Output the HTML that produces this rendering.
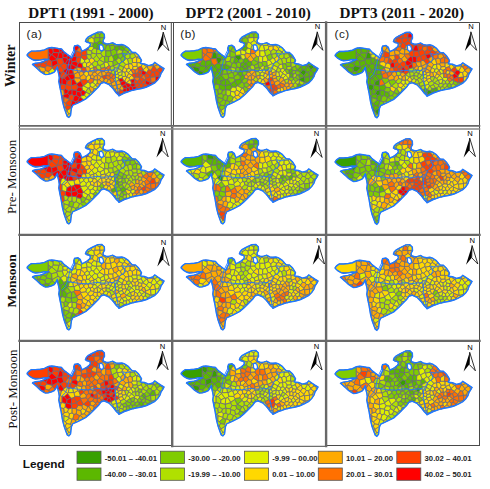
<!DOCTYPE html>
<html><head><meta charset="utf-8"><style>
html,body{margin:0;padding:0;background:#fff;width:490px;height:489px;overflow:hidden;position:relative}
</style></head><body>
<svg width="490" height="489" viewBox="0 0 490 489" style="position:absolute;left:0;top:0">
<defs>
<path id="ol" d="M8.2,32.8 9.6,31 12.3,29.1 16.4,29.1 21.3,28.7 25.4,27.9 27.9,26.7 29.5,25.9 32.8,25.5 36.1,25.9 39.3,26.5 42.5,27 45,29.9 48.2,32.3 51.5,34.8 53.1,35.6 54,33.1 55.6,29.9 54.8,26.6 55.6,23.8 58.9,23.3 61.3,25 62.1,27.4 62.9,29.1 65.4,28.2 68,26.6 70.5,24.5 71.5,22.5 70.5,20.8 68,20.3 66.5,19.2 67.2,17.2 69,15.2 73.9,12.5 78.8,10.1 82.8,10 85.3,12.3 85.5,15.8 84,18.5 84.5,20.8 87.6,22 90.7,21.6 93.7,20.8 96.8,22.5 99.9,22.8 102.9,22.5 105.6,23.4 109.2,25.8 111.5,28.5 113.2,30.2 116.3,30.5 119.4,33.3 121.4,36.4 122.5,38.4 121.4,41.5 125.5,42 129.6,43.6 133.7,42.5 135.8,40.5 138.8,42.5 141.9,44.6 145,46.6 143.9,48.7 141.9,51.7 140.9,54.8 138.8,57.9 135.8,60.9 131.7,63 127.6,65 122.6,66.5 117,67.5 112.4,68.6 106.3,70.7 100.2,73.7 97.1,70.7 94,66.6 90,62.5 84.9,60.4 81.8,61.5 79.8,64.5 73.7,70.7 70.9,73.4 66.8,77 61.7,79.6 57.6,81.6 53.8,83.2 52.5,85.9 51.9,89.8 51.5,93.5 49.9,95.4 48.3,94.4 46.7,90.3 45,85.4 43.4,78.8 42.2,71.4 40.7,64 39.8,59.5 40.3,55.9 39.8,52.3 38.8,48.2 38.3,45.2 37.8,45.7 36.7,48.2 35.2,50.1 32.1,51.5 29.1,52.4 26.5,52.6 24.8,51.8 21.2,49.5 17.9,46.3 15.3,43.9 13.6,42.6 13.8,42.2 16.4,41.3 21.3,40.6 24.6,39.4 26.5,38.5 28.5,37.4 25,37.3 21.3,38.1 16.4,38.4 14,37.8 10.7,35.9 8.3,33.6Z"/>
<g id="net" transform="scale(.25)"><path d="M33 134l10 10 13 7 35 0 9-2 14 1-3 1 6 0 0-47-5 3-10 5-17 3-19 1-17 0-11 8-5 7zM316 171l8 3 16-9 1-3-19-11-9 8zM355 161l-12 0-2 1-1 3 4 17 3 2 13-10zM190 332l16 3 6-20-11-4-15 13zM380 152l-5 6 2 17 1 1 19-10-10-13zM323 49l0 13 0 1 19-1-1-13-8-8zM419 181l-16-8-6 12 1 1 15 10zM207 230l-15 7-2 13 19 5 2-24zM290 144l-3-13-15-1-2 2 3 14 8 4zM169 249l3-1 0-23-7-5-4 1 0 3-2 14 2 9zM434 148l10-5 0-15-8-8-13 18 5 8zM250 295l-5 5 14 12 8-4 1-1 2-6-9-8zM119 198l-13-3-6 5 2 8 4 2 10 0 6-2zM463 230l-2-3-15 5 4 13 10-1zM423 236l-4-1-13 6 0 7 4 6 3 1 13-6 3-6zM347 185l-5 13 6 7 9-5 1-9zM285 258l-5 6 8 16 8 0 4-13-4-5zM231 277l16 3 7-8-2-11-16-1-7 13zM166 173l0 1 13 18 11-6 2-15-7-5-6-1zM129 131l2-1 6-8-1-13-16-6-1 1-2 3 0 14zM165 220l4-17-14-9 4 15 2 12zM347 136l12 3 11-5-4-19-19 0zM248 232l-5-8-20-1-4 5 12 19 16-11zM313 245l-7 5 0 2 9 10 2-2 4-5 4-5zM256 181l-4-15-9-3-7 3-5 14 20 5zM94 161l-1-2-8 3-16 3 7 14 3 1 3-2zM357 91l5 3 17-1 1-7-5-3-12 3-5 1zM154 147l-2 1-1 3 5 16 10 6 13-8-6-19zM279 212l6 2 8-3 4-10-13-5-7 4zM227 137l1-20-3-2-3 1 0 4-6 12-2 7zM334 82l-10-8-14 10 6 9 12 0 7-8zM165 269l4 17 1 9 6 0 5-6-2-17zM572 184l-8-2-13 9 0 3 12 9 9-2 2-4zM158 106l-1 0-13-2-2-1-6 6 1 13 23 1 4-3zM510 204l0-2-15-9-3 2-2 11 5 6 7 0zM450 212l6-6-8-14-10 10 1 4zM160 123l-6 24 19-1 3-4-1-14-8-8-3 0zM220 209l15-8-5-19-15 10 3 16zM301 218l-2 10 1 3 13 1 2-1-3-19zM333 41l-2-1-16 0-5 3 13 6zM431 220l-8 16 6 7 15-12-4-7zM194 212l13 18 4 1 8-3 4-5-3-14-2-1-21 1-3 2zM451 213l11 12 5-5 0-14-2-1-9 1-6 6zM542 201l9-7 0-3-10-14-2-1-1 0-10 17 5 7zM362 216l4 7 4 0 9-12-12-7-1 1zM285 214l-6-2-10 7-1 10 7 7 12-11zM100 200l6-5-2-12-22-5-3 2 8 19zM259 203l-9-6-11 5 6 16 14-9zM119 198l14-14 0-4-1-1-21-5-7 9 2 12zM152 148l-21-18-2 1-11 14 1 4 11 8 21-6zM330 199l12-1 5-13 0-1-3-2-16 3-2 7 2 6zM311 109l-1 18 17-1 8-14-3-3zM209 151l3-9-6-3-11-8-4 12 4 7zM444 128l0 15 9 4 14-8-6-13zM299 104l12 4 5-15-6-9-9-3-4 4-3 12zM133 184l-14 14 3 10 6-2 13-6 4-5zM495 193l1-2-7-14-14 5 0 4 4 7 13 2zM212 315l-6 20 4 7 1 0 4-9 12-5-1-9-11-5zM413 255l6 11 10-1 4-3-7-13zM262 153l-14-12-5 22 9 3 11-6zM167 120l8 8 14-2-9-6-5-7zM179 192l-2 6 17 13 3-2 3-16-10-7zM185 166l7 5 15 0 3-2 2-10-3-8-14-1zM366 223l-4-7-14-3 0 12 9 5 5-1zM453 260l-6-4-8 6 5 12 7 0 5-1zM531 242l-3-1-2 1-10 11 0 3 0 1 11-5 7-4zM415 274l-11-3-4 10 3 7 1 1 13-5 2-4zM385 269l-8-3-1 1 10 13 0-1zM422 106l0 5 14 9 8-9-7-8-8-5zM307 179l9-8-3-12-10-3-12 11 9 13zM450 245l-3 5 0 6 6 4 11-3 0-9-4-4zM406 146l11-10-6-10-17 3 4 15zM306 201l8 9 14-12-2-6-12-1zM301 81l-1-15-10-4-12 6-2 8 3 5 18 4zM490 206l-10 2 0 13 2 3 8-2 5-10zM94 161l14 6 11-18-1-4-1 0 0 6-6 0 3-1-8 4-8 4-5 1zM199 367l-7-11-6 2 1 3 5 14zM557 217l-11 1 0 1 0 19 2 1 7-7 7-11zM448 192l0-1-8-6-9 3-1 10 8 4zM303 156l-5-10-8-2-9 6 1 10 8 7 1 0zM176 295l4 6 19 6 3-14-8-7-13 3zM454 188l2-10-6-11-11 0-1 1 2 17 8 6zM259 209l-14 9-2 6 5 8 20-3 1-10zM228 157l8 9 7-3 5-22-1-1-15 1zM380 152l7 1 11-9-4-15-2-2-18 9zM330 238l-9-7-6 0-2 1 0 13 12 5 2-3zM249 123l5-7-2 0-4-6-2-7-6-1-10 14zM524 215l9-15-5-7-10-2-8 11 0 2zM300 267l-4 13 1 0 13-13zM249 123l2 11 19-2 2-2-2-16-7-2-1 1-8 3zM207 189l8 3 15-10 1-2-21-11-3 2zM401 109l14 6 7-4 0-5-10-12-12 2zM133 180l0 4 12 11 2-2 4-10 2-2 2 11 11-18 0-1-10-6zM76 179l-7-14-3 0-11 4-1 1 7 6 9 7zM359 139l-1 19 17 0 5-6-6-16-4-2zM430 198l1-10-12-7-6 15 0 2 10 3zM342 139l1 22 12 0 3-3 1-19-12-3zM470 263l0 3 2 3 17-3 0-3-9-7zM539 176l2 1 15-7-1 0-12-8-5 5zM179 321l1-20-4-6-6 0 4 20 1 7zM355 247l0 1 5 2 6 7 5-5-2-6zM383 98l-2 11 10 8 10-8-1-13-1-1zM474 236l8-7 0-5-2-3-13-1-5 5-1 2 2 3zM225 115l3 2 2-1 10-14-5-9-9 2-5 5-1 2zM297 85l-18-4 0 2 3 0 4 7-4 8-1 1 13-2zM243 224l2-6-6-16-4-1-15 8 3 14zM290 62l10 4 3-3 3-18-10 5-9 4zM248 232l-1 4 10 19 1 0 18-15-1-4-7-7zM252 261l2 11 13 7 9-14-18-10-1 0zM279 179l-9 0-4 3 3 15 8 3 7-4 1-9zM290 116l2 8 18 4 0-1 1-18 0-1-12-4zM313 159l9-8 0-3-12-15-12 13 5 10zM506 233l20 9 2-1-2-20-2-2-17 7-3 4zM479 135l-1-2-13-11-2 0-2 4 6 13 4 2 1 0zM226 319l10-4 6-14-13-8-9 3-5 18zM364 188l8 7 7-2 3-10-4-7-1-1-11 3zM347 115l19 0 1 0-5-21-5-3-7 3-7 18zM383 197l-4-4-7 2-5 9 12 7 2-1zM393 197l5-11-1-1-15-2-3 10 4 4zM179 272l6-6 1-14-14-4-3 1-5 14 1 6zM268 281l-7 12 9 8 10-5 1-1 0-8zM563 203l-6 14 5 4 2-2 4-12 4-6zM497 249l0 10 5 3 14-6 0-3-11-7zM212 290l8 6 9-3 2-16-2-4-17-2zM413 198l-2 15 4 5 12-1-4-16zM214 139l-2 3-3 9 3 8 16-2 4-16-5-4zM397 291l4 4 4-2-1-4-1-1zM242 321l5-3 12-6-14-12-3 1-6 14zM370 134l4 2 18-9-1-10-10-8-14 6-1 0zM472 163l-2-1-16 0-4 5 6 11 16-1zM275 236l1 4 8 6 11-4 5-11-1-3-12-3zM212 271l17 2 7-13-6-11-21 6 2 15zM485 162l1 2 4-10-1-3zM327 126l7 11 8 2 5-3 0-21-4-3-8 0zM297 201l-4 10 8 7 11-6 2-2-8-9-6-1zM377 266l8 3 7-5-1-12-1-1-15 5zM546 238l-15 4 3 6 9-4 5-5zM413 196l-15-10-5 11 4 6 16-5zM475 245l6 3 8-5 1-4-8-10-8 7zM281 99l-2 2-3 10 14 5 9-12-5-7zM475 204l4-11-4-7-11 6 1 13 2 1zM475 182l-3-5-16 1-2 10 10 4 11-6zM118 145l11-14-12-10 0 24zM192 356l7 11 8 0 1-8 2-15 1-2-1 0-18 12zM164 120l3 0 8-7-5-5-12-2zM472 141l-1 0-1 21 2 1 13-1 4-11-1-2zM334 82l1 3 15 9 7-3 1-4-8 1-12-5-1-4zM495 212l-5 10 12 9 2-1 3-4-5-14zM471 141l-4-2-14 8 1 15 16 0zM198 274l13-4-2-15-19-5-4 2-1 14zM333 217l15-5 0-7-6-7-12 1zM366 178l11-3-2-17-17 0-3 3 5 13zM299 182l1 18 6 1 8-10-7-12-7 1zM400 214l-3 10 2 4 14-4 2-6-4-5zM303 63l-3 3 1 15 9 3 14-10-1-11 0-1zM518 191l10 2 10-17-17-2-3 0-1 0-4 5zM136 109l6-6-11-1-11 1zM369 246l2 6 4 4 15-5-4-12-4-2-12 7zM490 239l-1 4 8 6 8-3 1-13-2-3-2 1zM439 167l-5-19-6-2-11 13 10 11 11-2zM282 160l-12 5 0 14 9 0 11-12zM284 246l-8-6-18 15 18 10 4-1 5-6zM397 166l4 2 9-9-4-13-8-2-11 9zM423 138l13-18-14-9-7 4-4 11 6 10zM415 274l4 6 11-2-1-13-10 1zM197 209l21-1-3-16-8-3-7 4zM246 103l-1-3-9-7-1 0 5 9zM181 289l13-3 4-12-13-8-6 6zM79 151l-23 0 10 3 11-1zM169 203l-4 17 7 5 9-1 13-12 0-1-17-13zM431 219l0 1 9 4 11-11-1-1-11-6zM328 185l16-3-4-17-16 9zM199 307l2 4 11 4 3-1 5-18-8-6-10 3zM378 176l4 7 15 2 6-12-2-5-4-2zM335 112l8 0 7-18-15-9-7 8 4 16zM179 165l6 1 10-16-4-7-15-1-3 4zM276 76l2-8-5-4-4 5-3 8 1 1zM413 255l-3-1-8 14 2 3 11 3 4-8zM338 237l2-7-8-12-3 1-8 12 9 7zM410 159l7 0 11-13-5-8-6-2-11 10zM399 232l0-4-2-4-10-3-8 8 3 8 4 2zM199 367l-7 8 1 3 7 4 6-8 1-7zM281 287l0 8 3-1 11-11 2-3-1 0-8 0zM315 231l6 0 8-12-15-9-2 2zM464 257l6 6 10-7 1-8-6-3-11 3zM489 177l7 14 14-12-12-10-6 1zM210 169l21 11 5-14-8-9-16 2zM564 182l-4-8-4-4-15 7 10 14zM399 95l1 1 12-2 2-3-2-1-12 1-2 0zM225 115l-5-13-1 4 3 10zM507 226l17-7 0-4-14-11-8 8zM526 221l20-2 0-1-4-17-9-1-9 15 0 4zM399 232l7 9 13-6-6-11-14 4zM322 148l12-11-7-11-17 1 0 1 0 5zM179 321l-4 1 5 20 5 0 5-10-4-8zM390 251l1 1 15-4 0-7-7-9-13 7zM384 212l3 9 10 3 3-10-4-6zM427 170l-10-11-7 0-9 9 2 5 16 8zM528 241l3 1 15-4 0-19-20 2zM430 278l-11 2-2 4 1 2 7-3 8-3zM236 260l16 1 5-6-10-19-16 11-1 2zM270 114l6-3 3-10-7 5-9 6zM227 137l5 4 15-1 4-6-2-11-19-7-2 1zM510 202l8-11-5-12-3 0-14 12-1 2zM338 237l7 5 6 0 6-12-9-5-8 5zM436 120l8 8 17-2 2-4-10-1-7-7-2-3zM273 146l-3-14-19 2-4 6 1 1 14 12zM404 271l-2-3-10-4-7 5 1 10 14 2zM76 179l-6 4 2 2 13 13 2 1-8-19zM382 237l-3-8-9-6-4 0-4 6 8 15zM284 246l1 12 11 4 10-10 0-2-11-8zM572 184l2 13 2-2 4-9-6-3zM345 242l-7-5-8 1-3 9 0-1 13-4 4 1zM314 191l12 1 2-7-4-11-8-3-9 8zM367 115l14-6 2-11-4-5-17 1zM538 176l1 0-1-9-3 3-14 4zM227 328l3-2 12-5-6-6-10 4zM291 167l-1 0-11 12 6 8 14-5 1-2zM472 141l16 8-2-3-7-11zM444 274l-4 4 10-4 1 0zM194 212l-13 12 11 13 15-7zM341 162l2-1-1-22-8-2-12 11 0 3zM470 266l-13 7 11-3 4-1zM429 265l1 13 3 2 7-2 4-4-5-12-6 0zM426 249l7 13 6 0 8-6 0-6-18-7zM489 263l8-4 0-10-8-6-8 5-1 8zM130 157l2 22 1 1 23-13-5-16zM479 193l-4 11 5 4 10-2 2-11zM542 201l4 17 11-1 6-14-12-9zM314 210l15 9 3-1 1-1-3-18-2-1zM185 342l7 12 18-12-4-7-16-3zM190 186l10 7 7-4 0-18-15 0zM362 216l4-11-9-5-9 5 0 7 0 1zM440 224l4 7 2 1 15-5 1-2-11-12zM245 300l5-5-3-15-16-3-2 16 13 8zM417 284l-13 5 1 4 13-7zM391 252l1 12 10 4 8-14-4-6zM456 206l9-1-1-13-10-4-6 3 0 1zM172 248l14 4 4-2 2-13-11-13-9 1zM502 262l-5-3-8 4 0 3 1 0 12-3zM392 127l2 2 17-3 4-11-14-6-10 8zM256 181l-5 4-1 12 9 6 10-6-3-15zM276 111l-6 3 2 16 15 1 5-7-2-8zM467 220l13 1 0-13-5-4-8 2zM230 249l1-2-12-19-8 3-2 24zM454 162l-1-15-9-4-10 5 5 19 11 0zM464 248l11-3-1-9-11-6-3 14zM269 197l-10 6 0 6 10 10 10-7-2-12zM355 247l-4-5-6 0-1 1 11 5zM489 166l-3 0 0-2-1-2-13 1 0 14 3 5 14-5 3-7zM438 202l-8-4-7 3 4 16 4 2 8-13zM323 63l1 11 10 8 3-3-1-5 6-11 0-1zM290 62l-3-8-11 7-3 3 5 4zM366 257l10 9 0 1 1-1-2-10-4-4zM310 133l0-5-18-4-5 7 3 13 8 2zM273 146l-11 7 1 7 7 5 12-5-1-10zM446 232l-2-1-15 12 18 7 3-5zM412 94l10 12 7-8-7-4-8-3zM285 214l2 11 12 3 2-10-8-7zM498 169l12 10 3 0 4-5-15-6-3 0zM303 63l20-1 0-13-13-6-4 2zM440 185l-2-17-11 2-8 11 12 7zM166 174l-11 18 0 1 0 1 14 9 8-5 2-6zM379 93l4 5 16-3-1-4-11-1-7-4zM270 301l-2 6 12-11zM340 230l8-5 0-12 0-1-15 5-1 1zM100 200l-13-1 12 8 3 1zM300 231l-5 11 11 8 7-5 0-13zM403 288l-3-7-14-2 0 1 2 3 9 8zM130 157l-11-8-11 18 3 7 21 5zM231 180l-1 2 5 19 4 1 11-5 1-12zM347 184l0 1 11 6 6-3 2-10-6-4zM572 184l2-1-6-5-8-4 4 8zM362 229l-5 1-6 12 4 5 14-1 1-2zM194 286l8 7 10-3 0-19-1-1-13 4zM279 81l-3-5-9 2 5 3 7 2zM358 191l-1 9 9 5 1-1 5-9-8-7zM179 321l7 3 15-13-2-4-19-6zM413 224l6 11 4 1 8-16 0-1-4-2-12 1zM285 187l-1 9 13 5 3-1-1-18zM270 165l-7-5-11 6 4 15 10 1 4-3zM516 256l-14 6 0 1 8-3 6-3zM379 211l-9 12 9 6 8-8-3-9-3-2zM505 246l11 7 10-11-20-9zM192 356l0-2-7-12-5 0 6 16zM413 198l-16 5-1 5 4 6 11-1zM482 224l0 5 8 10 12-8-12-9zM226 95l-4 0-1 5zM137 122l-6 8 21 18 2-1 6-24zM280 264l-4 1-9 14 1 2 13 6 7-7zM104 183l7-9-3-7-14-6-12 17zM267 279l-13-7-7 8 3 15 11-2 7-12zM470 266l0-3-6-6-11 3 3 13 1 0zM306 252l-10 10 4 5 10 0 5-5zM191 143l4-12-2-2-4-3-14 2 1 14zM397 203l-4-6-10 0-2 13 3 2 12-4zM328 93l-12 0-5 15 0 1 21 0zM169 249l-8-2 2 9 1 7z" fill="none" stroke="#6c6c7c" stroke-width="2.5" stroke-linejoin="round"/></g>
<path id="hole" d="M80.3,23.3 82,22.6 83.8,23.8 84.6,26.5 84,28.5 82.2,29 80.6,27.5Z" fill="#fff" stroke="#1f78ff" stroke-width="1.3"/>
<path id="blines" d="M55.5,26.5 52.4,32.7 50.5,37.5 48.7,46.8 46.5,52 43,55.5M48.7,47 58.5,48.7 68.3,49.3 76.8,48 85.4,48.7 94,48 96.5,47M103.6,31.2 105.1,34.1 105.7,36.6 104.5,39 101.4,40.9 99.6,43.3 98.4,46.4 96.5,49.4 96.3,57 98.2,65 99.8,74.5M103.6,31.2 108.2,32.3 111.2,31.3 113,29.8" fill="none" stroke="#1f78ff" stroke-width="0.9" stroke-linejoin="round"/>
</defs>
<g transform="translate(19,22)"><use href="#ol" fill="#888"/><g transform="scale(.25)"><path fill="#5cb800" d="M334 82l-10-8-14 10 6 9 12 0 7-8zM299 104l12 4 5-15-6-9-9-3-4 4-3 12zM380 152l7 1 11-9-4-15-2-2-18 9zM401 109l14 6 7-4 0-5-10-12-12 2zM383 98l-2 11 10 8 10-8-1-13-1-1zM399 95l1 1 12-2 2-3-2-1-12 1-2 0zM328 93l-12 0-5 15 0 1 21 0z"/><path fill="#80cc00" d="M380 152l-5 6 2 17 1 1 19-10-10-13zM323 49l0 13 0 1 19-1-1-13-8-8zM347 136l12 3 11-5-4-19-19 0zM357 91l5 3 17-1 1-7-5-3-12 3-5 1zM422 106l0 5 14 9 8-9-7-8-8-5zM406 146l11-10-6-10-17 3 4 15zM342 139l1 22 12 0 3-3 1-19-12-3zM347 115l19 0 1 0-5-21-5-3-7 3-7 18zM370 134l4 2 18-9-1-10-10-8-14 6-1 0zM334 82l1 3 15 9 7-3 1-4-8 1-12-5-1-4zM303 63l-3 3 1 15 9 3 14-10-1-11 0-1zM423 138l13-18-14-9-7 4-4 11 6 10zM335 112l8 0 7-18-15-9-7 8 4 16zM410 159l7 0 11-13-5-8-6-2-11 10zM367 115l14-6 2-11-4-5-17 1zM323 63l1 11 10 8 3-3-1-5 6-11 0-1zM412 94l10 12 7-8-7-4-8-3zM303 63l20-1 0-13-13-6-4 2zM379 93l4 5 16-3-1-4-11-1-7-4z"/><path fill="#b0e000" d="M316 171l8 3 16-9 1-3-19-11-9 8zM419 181l-16-8-6 12 1 1 15 10zM290 144l-3-13-15-1-2 2 3 14 8 4zM434 148l10-5 0-15-8-8-13 18 5 8zM333 41l-2-1-16 0-5 3 13 6zM311 109l-1 18 17-1 8-14-3-3zM444 128l0 15 9 4 14-8-6-13zM307 179l9-8-3-12-10-3-12 11 9 13zM359 139l-1 19 17 0 5-6-6-16-4-2zM297 85l-18-4 0 2 3 0 4 7-4 8-1 1 13-2zM290 62l10 4 3-3 3-18-10 5-9 4zM290 116l2 8 18 4 0-1 1-18 0-1-12-4zM313 159l9-8 0-3-12-15-12 13 5 10zM364 188l8 7 7-2 3-10-4-7-1-1-11 3zM383 197l-4-4-7 2-5 9 12 7 2-1zM327 126l7 11 8 2 5-3 0-21-4-3-8 0zM366 178l11-3-2-17-17 0-3 3 5 13zM397 166l4 2 9-9-4-13-8-2-11 9zM328 185l16-3-4-17-16 9zM378 176l4 7 15 2 6-12-2-5-4-2zM276 76l2-8-5-4-4 5-3 8 1 1zM322 148l12-11-7-11-17 1 0 1 0 5zM427 170l-10-11-7 0-9 9 2 5 16 8zM436 120l8 8 17-2 2-4-10-1-7-7-2-3zM314 191l12 1 2-7-4-11-8-3-9 8zM341 162l2-1-1-22-8-2-12 11 0 3zM392 127l2 2 17-3 4-11-14-6-10 8zM276 111l-6 3 2 16 15 1 5-7-2-8zM454 162l-1-15-9-4-10 5 5 19 11 0zM290 62l-3-8-11 7-3 3 5 4zM310 133l0-5-18-4-5 7 3 13 8 2zM280 264l-4 1-9 14 1 2 13 6 7-7z"/><path fill="#e0f000" d="M355 161l-12 0-2 1-1 3 4 17 3 2 13-10zM250 295l-5 5 14 12 8-4 1-1 2-6-9-8zM133 184l-14 14 3 10 6-2 13-6 4-5zM262 153l-14-12-5 22 9 3 11-6zM301 81l-1-15-10-4-12 6-2 8 3 5 18 4zM448 192l0-1-8-6-9 3-1 10 8 4zM300 267l-4 13 1 0 13-13zM252 261l2 11 13 7 9-14-18-10-1 0zM393 197l5-11-1-1-15-2-3 10 4 4zM268 281l-7 12 9 8 10-5 1-1 0-8zM413 198l-2 15 4 5 12-1-4-16zM413 196l-15-10-5 11 4 6 16-5zM281 99l-2 2-3 10 14 5 9-12-5-7zM400 214l-3 10 2 4 14-4 2-6-4-5zM439 167l-5-19-6-2-11 13 10 11 11-2zM284 246l-8-6-18 15 18 10 4-1 5-6zM399 232l0-4-2-4-10-3-8 8 3 8 4 2zM281 287l0 8 3-1 11-11 2-3-1 0-8 0zM384 212l3 9 10 3 3-10-4-6zM284 246l1 12 11 4 10-10 0-2-11-8zM291 167l-1 0-11 12 6 8 14-5 1-2zM273 146l-11 7 1 7 7 5 12-5-1-10zM270 301l-2 6 12-11zM300 231l-5 11 11 8 7-5 0-13zM279 81l-3-5-9 2 5 3 7 2zM285 187l-1 9 13 5 3-1-1-18zM270 165l-7-5-11 6 4 15 10 1 4-3zM413 198l-16 5-1 5 4 6 11-1zM306 252l-10 10 4 5 10 0 5-5zM397 203l-4-6-10 0-2 13 3 2 12-4z"/><path fill="#ffd800" d="M119 198l-13-3-6 5 2 8 4 2 10 0 6-2zM450 212l6-6-8-14-10 10 1 4zM431 220l-8 16 6 7 15-12-4-7zM285 214l-6-2-10 7-1 10 7 7 12-11zM199 367l-7-11-6 2 1 3 5 14zM303 156l-5-10-8-2-9 6 1 10 8 7 1 0zM454 188l2-10-6-11-11 0-1 1 2 17 8 6zM430 198l1-10-12-7-6 15 0 2 10 3zM479 135l-1-2-13-11-2 0-2 4 6 13 4 2 1 0zM472 163l-2-1-16 0-4 5 6 11 16-1zM475 182l-3-5-16 1-2 10 10 4 11-6zM192 356l7 11 8 0 1-8 2-15 1-2-1 0-18 12zM472 141l-1 0-1 21 2 1 13-1 4-11-1-2zM471 141l-4-2-14 8 1 15 16 0zM282 160l-12 5 0 14 9 0 11-12zM431 219l0 1 9 4 11-11-1-1-11-6zM199 367l-7 8 1 3 7 4 6-8 1-7zM489 177l7 14 14-12-12-10-6 1zM510 202l8-11-5-12-3 0-14 12-1 2zM472 141l16 8-2-3-7-11zM440 224l4 7 2 1 15-5 1-2-11-12zM269 197l-10 6 0 6 10 10 10-7-2-12zM489 166l-3 0 0-2-1-2-13 1 0 14 3 5 14-5 3-7zM438 202l-8-4-7 3 4 16 4 2 8-13zM446 232l-2-1-15 12 18 7 3-5zM440 185l-2-17-11 2-8 11 12 7zM413 224l6 11 4 1 8-16 0-1-4-2-12 1zM192 356l0-2-7-12-5 0 6 16z"/><path fill="#ffaa00" d="M347 185l-5 13 6 7 9-5 1-9zM285 258l-5 6 8 16 8 0 4-13-4-5zM248 232l-5-8-20-1-4 5 12 19 16-11zM313 245l-7 5 0 2 9 10 2-2 4-5 4-5zM279 212l6 2 8-3 4-10-13-5-7 4zM165 269l4 17 1 9 6 0 5-6-2-17zM220 209l15-8-5-19-15 10 3 16zM301 218l-2 10 1 3 13 1 2-1-3-19zM100 200l6-5-2-12-22-5-3 2 8 19zM259 203l-9-6-11 5 6 16 14-9zM385 269l-8-3-1 1 10 13 0-1zM306 201l8 9 14-12-2-6-12-1zM259 209l-14 9-2 6 5 8 20-3 1-10zM330 238l-9-7-6 0-2 1 0 13 12 5 2-3zM539 176l2 1 15-7-1 0-12-8-5 5zM355 247l0 1 5 2 6 7 5-5-2-6zM243 224l2-6-6-16-4-1-15 8 3 14zM279 179l-9 0-4 3 3 15 8 3 7-4 1-9zM485 162l1 2 4-10-1-3zM297 201l-4 10 8 7 11-6 2-2-8-9-6-1zM377 266l8 3 7-5-1-12-1-1-15 5zM333 217l15-5 0-7-6-7-12 1zM518 191l10 2 10-17-17-2-3 0-1 0-4 5zM369 246l2 6 4 4 15-5-4-12-4-2-12 7zM413 255l-3-1-8 14 2 3 11 3 4-8zM338 237l2-7-8-12-3 1-8 12 9 7zM315 231l6 0 8-12-15-9-2 2zM564 182l-4-8-4-4-15 7 10 14zM390 251l1 1 15-4 0-7-7-9-13 7zM338 237l7 5 6 0 6-12-9-5-8 5zM404 271l-2-3-10-4-7 5 1 10 14 2zM76 179l-6 4 2 2 13 13 2 1-8-19zM572 184l2 13 2-2 4-9-6-3zM345 242l-7-5-8 1-3 9 0-1 13-4 4 1zM538 176l1 0-1-9-3 3-14 4zM314 210l15 9 3-1 1-1-3-18-2-1zM391 252l1 12 10 4 8-14-4-6zM366 257l10 9 0 1 1-1-2-10-4-4zM285 214l2 11 12 3 2-10-8-7zM498 169l12 10 3 0 4-5-15-6-3 0zM100 200l-13-1 12 8 3 1zM231 180l-1 2 5 19 4 1 11-5 1-12zM572 184l2-1-6-5-8-4 4 8zM362 229l-5 1-6 12 4 5 14-1 1-2zM358 191l-1 9 9 5 1-1 5-9-8-7z"/><path fill="#ff7000" d="M33 134l10 10 13 7 35 0 9-2 14 1-3 1 6 0 0-47-5 3-10 5-17 3-19 1-17 0-11 8-5 7zM362 216l4 7 4 0 9-12-12-7-1 1zM119 198l14-14 0-4-1-1-21-5-7 9 2 12zM330 199l12-1 5-13 0-1-3-2-16 3-2 7 2 6zM366 223l-4-7-14-3 0 12 9 5 5-1zM249 123l5-7-2 0-4-6-2-7-6-1-10 14zM474 236l8-7 0-5-2-3-13-1-5 5-1 2 2 3zM275 236l1 4 8 6 11-4 5-11-1-3-12-3zM475 204l4-11-4-7-11 6 1 13 2 1zM495 212l-5 10 12 9 2-1 3-4-5-14zM299 182l1 18 6 1 8-10-7-12-7 1zM136 109l6-6-11-1-11 1zM79 151l-23 0 10 3 11-1zM179 321l-4 1 5 20 5 0 5-10-4-8zM528 241l3 1 15-4 0-19-20 2zM382 237l-3-8-9-6-4 0-4 6 8 15zM362 216l4-11-9-5-9 5 0 7 0 1zM456 206l9-1-1-13-10-4-6 3 0 1zM355 247l-4-5-6 0-1 1 11 5zM347 184l0 1 11 6 6-3 2-10-6-4zM179 321l7 3 15-13-2-4-19-6zM379 211l-9 12 9 6 8-8-3-9-3-2z"/><path fill="#ff4000" d="M190 332l16 3 6-20-11-4-15 13zM207 230l-15 7-2 13 19 5 2-24zM166 173l0 1 13 18 11-6 2-15-7-5-6-1zM94 161l-1-2-8 3-16 3 7 14 3 1 3-2zM154 147l-2 1-1 3 5 16 10 6 13-8-6-19zM572 184l-8-2-13 9 0 3 12 9 9-2 2-4zM451 213l11 12 5-5 0-14-2-1-9 1-6 6zM542 201l9-7 0-3-10-14-2-1-1 0-10 17 5 7zM495 193l1-2-7-14-14 5 0 4 4 7 13 2zM415 274l-11-3-4 10 3 7 1 1 13-5 2-4zM490 206l-10 2 0 13 2 3 8-2 5-10zM94 161l14 6 11-18-1-4-1 0 0 6-6 0 3-1-8 4-8 4-5 1zM228 157l8 9 7-3 5-22-1-1-15 1zM524 215l9-15-5-7-10-2-8 11 0 2zM249 123l2 11 19-2 2-2-2-16-7-2-1 1-8 3zM133 180l0 4 12 11 2-2 4-10 2-2 2 11 11-18 0-1-10-6zM76 179l-7-14-3 0-11 4-1 1 7 6 9 7zM470 263l0 3 2 3 17-3 0-3-9-7zM179 321l1-20-4-6-6 0 4 20 1 7zM248 232l-1 4 10 19 1 0 18-15-1-4-7-7zM506 233l20 9 2-1-2-20-2-2-17 7-3 4zM179 272l6-6 1-14-14-4-3 1-5 14 1 6zM563 203l-6 14 5 4 2-2 4-12 4-6zM497 249l0 10 5 3 14-6 0-3-11-7zM397 291l4 4 4-2-1-4-1-1zM212 271l17 2 7-13-6-11-21 6 2 15zM475 245l6 3 8-5 1-4-8-10-8 7zM198 274l13-4-2-15-19-5-4 2-1 14zM490 239l-1 4 8 6 8-3 1-13-2-3-2 1zM169 203l-4 17 7 5 9-1 13-12 0-1-17-13zM199 307l2 4 11 4 3-1 5-18-8-6-10 3zM464 257l6 6 10-7 1-8-6-3-11 3zM507 226l17-7 0-4-14-11-8 8zM526 221l20-2 0-1-4-17-9-1-9 15 0 4zM430 278l-11 2-2 4 1 2 7-3 8-3zM227 137l5 4 15-1 4-6-2-11-19-7-2 1zM273 146l-3-14-19 2-4 6 1 1 14 12zM444 274l-4 4 10-4 1 0zM470 266l-13 7 11-3 4-1zM489 263l8-4 0-10-8-6-8 5-1 8zM479 193l-4 11 5 4 10-2 2-11zM542 201l4 17 11-1 6-14-12-9zM185 342l7 12 18-12-4-7-16-3zM417 284l-13 5 1 4 13-7zM502 262l-5-3-8 4 0 3 1 0 12-3zM256 181l-5 4-1 12 9 6 10-6-3-15zM467 220l13 1 0-13-5-4-8 2zM464 248l11-3-1-9-11-6-3 14zM166 174l-11 18 0 1 0 1 14 9 8-5 2-6zM340 230l8-5 0-12 0-1-15 5-1 1zM130 157l-11-8-11 18 3 7 21 5zM482 224l0 5 8 10 12-8-12-9zM104 183l7-9-3-7-14-6-12 17z"/><path fill="#ff0000" d="M169 249l3-1 0-23-7-5-4 1 0 3-2 14 2 9zM463 230l-2-3-15 5 4 13 10-1zM423 236l-4-1-13 6 0 7 4 6 3 1 13-6 3-6zM231 277l16 3 7-8-2-11-16-1-7 13zM129 131l2-1 6-8-1-13-16-6-1 1-2 3 0 14zM165 220l4-17-14-9 4 15 2 12zM256 181l-4-15-9-3-7 3-5 14 20 5zM227 137l1-20-3-2-3 1 0 4-6 12-2 7zM158 106l-1 0-13-2-2-1-6 6 1 13 23 1 4-3zM510 204l0-2-15-9-3 2-2 11 5 6 7 0zM160 123l-6 24 19-1 3-4-1-14-8-8-3 0zM194 212l13 18 4 1 8-3 4-5-3-14-2-1-21 1-3 2zM152 148l-21-18-2 1-11 14 1 4 11 8 21-6zM209 151l3-9-6-3-11-8-4 12 4 7zM212 315l-6 20 4 7 1 0 4-9 12-5-1-9-11-5zM413 255l6 11 10-1 4-3-7-13zM167 120l8 8 14-2-9-6-5-7zM179 192l-2 6 17 13 3-2 3-16-10-7zM185 166l7 5 15 0 3-2 2-10-3-8-14-1zM453 260l-6-4-8 6 5 12 7 0 5-1zM531 242l-3-1-2 1-10 11 0 3 0 1 11-5 7-4zM450 245l-3 5 0 6 6 4 11-3 0-9-4-4zM557 217l-11 1 0 1 0 19 2 1 7-7 7-11zM176 295l4 6 19 6 3-14-8-7-13 3zM207 189l8 3 15-10 1-2-21-11-3 2zM225 115l3 2 2-1 10-14-5-9-9 2-5 5-1 2zM226 319l10-4 6-14-13-8-9 3-5 18zM212 290l8 6 9-3 2-16-2-4-17-2zM214 139l-2 3-3 9 3 8 16-2 4-16-5-4zM242 321l5-3 12-6-14-12-3 1-6 14zM546 238l-15 4 3 6 9-4 5-5zM118 145l11-14-12-10 0 24zM164 120l3 0 8-7-5-5-12-2zM415 274l4 6 11-2-1-13-10 1zM197 209l21-1-3-16-8-3-7 4zM246 103l-1-3-9-7-1 0 5 9zM181 289l13-3 4-12-13-8-6 6zM179 165l6 1 10-16-4-7-15-1-3 4zM210 169l21 11 5-14-8-9-16 2zM225 115l-5-13-1 4 3 10zM399 232l7 9 13-6-6-11-14 4zM236 260l16 1 5-6-10-19-16 11-1 2zM270 114l6-3 3-10-7 5-9 6zM227 328l3-2 12-5-6-6-10 4zM194 212l-13 12 11 13 15-7zM429 265l1 13 3 2 7-2 4-4-5-12-6 0zM426 249l7 13 6 0 8-6 0-6-18-7zM130 157l2 22 1 1 23-13-5-16zM190 186l10 7 7-4 0-18-15 0zM245 300l5-5-3-15-16-3-2 16 13 8zM172 248l14 4 4-2 2-13-11-13-9 1zM230 249l1-2-12-19-8 3-2 24zM403 288l-3-7-14-2 0 1 2 3 9 8zM194 286l8 7 10-3 0-19-1-1-13 4zM516 256l-14 6 0 1 8-3 6-3zM505 246l11 7 10-11-20-9zM226 95l-4 0-1 5zM137 122l-6 8 21 18 2-1 6-24zM267 279l-13-7-7 8 3 15 11-2 7-12zM470 266l0-3-6-6-11 3 3 13 1 0zM191 143l4-12-2-2-4-3-14 2 1 14zM169 249l-8-2 2 9 1 7z"/></g><use href="#net"/><use href="#blines"/><use href="#ol" fill="none" stroke="#1f78ff" stroke-width="1.45"/><use href="#hole"/></g>
<g transform="translate(173,22)"><use href="#ol" fill="#888"/><g transform="scale(.25)"><path fill="#38a000" d="M119 198l-13-3-6 5 2 8 4 2 10 0 6-2zM160 123l-6 24 19-1 3-4-1-14-8-8-3 0zM100 200l6-5-2-12-22-5-3 2 8 19zM524 215l9-15-5-7-10-2-8 11 0 2zM506 233l20 9 2-1-2-20-2-2-17 7-3 4zM179 165l6 1 10-16-4-7-15-1-3 4zM564 182l-4-8-4-4-15 7 10 14zM273 146l-3-14-19 2-4 6 1 1 14 12zM100 200l-13-1 12 8 3 1z"/><path fill="#5cb800" d="M207 230l-15 7-2 13 19 5 2-24zM169 249l3-1 0-23-7-5-4 1 0 3-2 14 2 9zM166 173l0 1 13 18 11-6 2-15-7-5-6-1zM165 220l4-17-14-9 4 15 2 12zM94 161l-1-2-8 3-16 3 7 14 3 1 3-2zM572 184l-8-2-13 9 0 3 12 9 9-2 2-4zM542 201l9-7 0-3-10-14-2-1-1 0-10 17 5 7zM285 214l-6-2-10 7-1 10 7 7 12-11zM119 198l14-14 0-4-1-1-21-5-7 9 2 12zM209 151l3-9-6-3-11-8-4 12 4 7zM133 184l-14 14 3 10 6-2 13-6 4-5zM262 153l-14-12-5 22 9 3 11-6zM179 192l-2 6 17 13 3-2 3-16-10-7zM307 179l9-8-3-12-10-3-12 11 9 13zM557 217l-11 1 0 1 0 19 2 1 7-7 7-11zM303 156l-5-10-8-2-9 6 1 10 8 7 1 0zM207 189l8 3 15-10 1-2-21-11-3 2zM133 180l0 4 12 11 2-2 4-10 2-2 2 11 11-18 0-1-10-6zM76 179l-7-14-3 0-11 4-1 1 7 6 9 7zM539 176l2 1 15-7-1 0-12-8-5 5zM297 85l-18-4 0 2 3 0 4 7-4 8-1 1 13-2zM248 232l-1 4 10 19 1 0 18-15-1-4-7-7zM279 179l-9 0-4 3 3 15 8 3 7-4 1-9zM479 135l-1-2-13-11-2 0-2 4 6 13 4 2 1 0zM563 203l-6 14 5 4 2-2 4-12 4-6zM497 249l0 10 5 3 14-6 0-3-11-7zM212 271l17 2 7-13-6-11-21 6 2 15zM546 238l-15 4 3 6 9-4 5-5zM281 99l-2 2-3 10 14 5 9-12-5-7zM475 204l4-11-4-7-11 6 1 13 2 1zM198 274l13-4-2-15-19-5-4 2-1 14zM518 191l10 2 10-17-17-2-3 0-1 0-4 5zM282 160l-12 5 0 14 9 0 11-12zM246 103l-1-3-9-7-1 0 5 9zM169 203l-4 17 7 5 9-1 13-12 0-1-17-13zM507 226l17-7 0-4-14-11-8 8zM526 221l20-2 0-1-4-17-9-1-9 15 0 4zM528 241l3 1 15-4 0-19-20 2zM236 260l16 1 5-6-10-19-16 11-1 2zM510 202l8-11-5-12-3 0-14 12-1 2zM76 179l-6 4 2 2 13 13 2 1-8-19zM572 184l2 13 2-2 4-9-6-3zM538 176l1 0-1-9-3 3-14 4zM291 167l-1 0-11 12 6 8 14-5 1-2zM194 212l-13 12 11 13 15-7zM130 157l2 22 1 1 23-13-5-16zM542 201l4 17 11-1 6-14-12-9zM190 186l10 7 7-4 0-18-15 0zM172 248l14 4 4-2 2-13-11-13-9 1zM467 220l13 1 0-13-5-4-8 2zM230 249l1-2-12-19-8 3-2 24zM269 197l-10 6 0 6 10 10 10-7-2-12zM166 174l-11 18 0 1 0 1 14 9 8-5 2-6zM130 157l-11-8-11 18 3 7 21 5zM572 184l2-1-6-5-8-4 4 8zM279 81l-3-5-9 2 5 3 7 2zM285 187l-1 9 13 5 3-1-1-18zM516 256l-14 6 0 1 8-3 6-3zM104 183l7-9-3-7-14-6-12 17zM191 143l4-12-2-2-4-3-14 2 1 14zM169 249l-8-2 2 9 1 7z"/><path fill="#80cc00" d="M33 134l10 10 13 7 35 0 9-2 14 1-3 1 6 0 0-47-5 3-10 5-17 3-19 1-17 0-11 8-5 7zM316 171l8 3 16-9 1-3-19-11-9 8zM355 161l-12 0-2 1-1 3 4 17 3 2 13-10zM190 332l16 3 6-20-11-4-15 13zM323 49l0 13 0 1 19-1-1-13-8-8zM285 258l-5 6 8 16 8 0 4-13-4-5zM248 232l-5-8-20-1-4 5 12 19 16-11zM256 181l-4-15-9-3-7 3-5 14 20 5zM279 212l6 2 8-3 4-10-13-5-7 4zM165 269l4 17 1 9 6 0 5-6-2-17zM510 204l0-2-15-9-3 2-2 11 5 6 7 0zM220 209l15-8-5-19-15 10 3 16zM333 41l-2-1-16 0-5 3 13 6zM194 212l13 18 4 1 8-3 4-5-3-14-2-1-21 1-3 2zM259 203l-9-6-11 5 6 16 14-9zM330 199l12-1 5-13 0-1-3-2-16 3-2 7 2 6zM495 193l1-2-7-14-14 5 0 4 4 7 13 2zM212 315l-6 20 4 7 1 0 4-9 12-5-1-9-11-5zM167 120l8 8 14-2-9-6-5-7zM185 166l7 5 15 0 3-2 2-10-3-8-14-1zM531 242l-3-1-2 1-10 11 0 3 0 1 11-5 7-4zM301 81l-1-15-10-4-12 6-2 8 3 5 18 4zM176 295l4 6 19 6 3-14-8-7-13 3zM454 188l2-10-6-11-11 0-1 1 2 17 8 6zM259 209l-14 9-2 6 5 8 20-3 1-10zM228 157l8 9 7-3 5-22-1-1-15 1zM380 152l7 1 11-9-4-15-2-2-18 9zM249 123l5-7-2 0-4-6-2-7-6-1-10 14zM179 321l1-20-4-6-6 0 4 20 1 7zM474 236l8-7 0-5-2-3-13-1-5 5-1 2 2 3zM225 115l3 2 2-1 10-14-5-9-9 2-5 5-1 2zM243 224l2-6-6-16-4-1-15 8 3 14zM290 62l10 4 3-3 3-18-10 5-9 4zM226 319l10-4 6-14-13-8-9 3-5 18zM364 188l8 7 7-2 3-10-4-7-1-1-11 3zM179 272l6-6 1-14-14-4-3 1-5 14 1 6zM472 163l-2-1-16 0-4 5 6 11 16-1zM275 236l1 4 8 6 11-4 5-11-1-3-12-3zM485 162l1 2 4-10-1-3zM495 212l-5 10 12 9 2-1 3-4-5-14zM366 178l11-3-2-17-17 0-3 3 5 13zM299 182l1 18 6 1 8-10-7-12-7 1zM284 246l-8-6-18 15 18 10 4-1 5-6zM197 209l21-1-3-16-8-3-7 4zM181 289l13-3 4-12-13-8-6 6zM79 151l-23 0 10 3 11-1zM328 185l16-3-4-17-16 9zM199 307l2 4 11 4 3-1 5-18-8-6-10 3zM276 76l2-8-5-4-4 5-3 8 1 1zM489 177l7 14 14-12-12-10-6 1zM210 169l21 11 5-14-8-9-16 2zM179 321l-4 1 5 20 5 0 5-10-4-8zM227 137l5 4 15-1 4-6-2-11-19-7-2 1zM284 246l1 12 11 4 10-10 0-2-11-8zM472 141l16 8-2-3-7-11zM341 162l2-1-1-22-8-2-12 11 0 3zM479 193l-4 11 5 4 10-2 2-11zM185 342l7 12 18-12-4-7-16-3zM456 206l9-1-1-13-10-4-6 3 0 1zM256 181l-5 4-1 12 9 6 10-6-3-15zM290 62l-3-8-11 7-3 3 5 4zM273 146l-11 7 1 7 7 5 12-5-1-10zM303 63l20-1 0-13-13-6-4 2zM194 286l8 7 10-3 0-19-1-1-13 4zM179 321l7 3 15-13-2-4-19-6zM270 165l-7-5-11 6 4 15 10 1 4-3zM482 224l0 5 8 10 12-8-12-9zM226 95l-4 0-1 5z"/><path fill="#b0e000" d="M434 148l10-5 0-15-8-8-13 18 5 8zM463 230l-2-3-15 5 4 13 10-1zM227 137l1-20-3-2-3 1 0 4-6 12-2 7zM444 128l0 15 9 4 14-8-6-13zM406 146l11-10-6-10-17 3 4 15zM490 206l-10 2 0 13 2 3 8-2 5-10zM430 198l1-10-12-7-6 15 0 2 10 3zM470 263l0 3 2 3 17-3 0-3-9-7zM212 290l8 6 9-3 2-16-2-4-17-2zM214 139l-2 3-3 9 3 8 16-2 4-16-5-4zM370 134l4 2 18-9-1-10-10-8-14 6-1 0zM475 245l6 3 8-5 1-4-8-10-8 7zM475 182l-3-5-16 1-2 10 10 4 11-6zM472 141l-1 0-1 21 2 1 13-1 4-11-1-2zM471 141l-4-2-14 8 1 15 16 0zM333 217l15-5 0-7-6-7-12 1zM490 239l-1 4 8 6 8-3 1-13-2-3-2 1zM439 167l-5-19-6-2-11 13 10 11 11-2zM423 138l13-18-14-9-7 4-4 11 6 10zM338 237l2-7-8-12-3 1-8 12 9 7zM427 170l-10-11-7 0-9 9 2 5 16 8zM314 191l12 1 2-7-4-11-8-3-9 8zM227 328l3-2 12-5-6-6-10 4zM470 266l-13 7 11-3 4-1zM489 263l8-4 0-10-8-6-8 5-1 8zM502 262l-5-3-8 4 0 3 1 0 12-3zM392 127l2 2 17-3 4-11-14-6-10 8zM454 162l-1-15-9-4-10 5 5 19 11 0zM489 166l-3 0 0-2-1-2-13 1 0 14 3 5 14-5 3-7zM498 169l12 10 3 0 4-5-15-6-3 0zM231 180l-1 2 5 19 4 1 11-5 1-12zM413 224l6 11 4 1 8-16 0-1-4-2-12 1zM505 246l11 7 10-11-20-9zM192 356l0-2-7-12-5 0 6 16z"/><path fill="#e0f000" d="M380 152l-5 6 2 17 1 1 19-10-10-13zM419 181l-16-8-6 12 1 1 15 10zM290 144l-3-13-15-1-2 2 3 14 8 4zM347 185l-5 13 6 7 9-5 1-9zM231 277l16 3 7-8-2-11-16-1-7 13zM347 136l12 3 11-5-4-19-19 0zM357 91l5 3 17-1 1-7-5-3-12 3-5 1zM334 82l-10-8-14 10 6 9 12 0 7-8zM450 212l6-6-8-14-10 10 1 4zM451 213l11 12 5-5 0-14-2-1-9 1-6 6zM299 104l12 4 5-15-6-9-9-3-4 4-3 12zM366 223l-4-7-14-3 0 12 9 5 5-1zM422 106l0 5 14 9 8-9-7-8-8-5zM199 367l-7-11-6 2 1 3 5 14zM448 192l0-1-8-6-9 3-1 10 8 4zM249 123l2 11 19-2 2-2-2-16-7-2-1 1-8 3zM359 139l-1 19 17 0 5-6-6-16-4-2zM342 139l1 22 12 0 3-3 1-19-12-3zM252 261l2 11 13 7 9-14-18-10-1 0zM290 116l2 8 18 4 0-1 1-18 0-1-12-4zM347 115l19 0 1 0-5-21-5-3-7 3-7 18zM393 197l5-11-1-1-15-2-3 10 4 4zM413 198l-2 15 4 5 12-1-4-16zM242 321l5-3 12-6-14-12-3 1-6 14zM413 196l-15-10-5 11 4 6 16-5zM192 356l7 11 8 0 1-8 2-15 1-2-1 0-18 12zM334 82l1 3 15 9 7-3 1-4-8 1-12-5-1-4zM303 63l-3 3 1 15 9 3 14-10-1-11 0-1zM397 166l4 2 9-9-4-13-8-2-11 9zM431 219l0 1 9 4 11-11-1-1-11-6zM378 176l4 7 15 2 6-12-2-5-4-2zM335 112l8 0 7-18-15-9-7 8 4 16zM199 367l-7 8 1 3 7 4 6-8 1-7zM399 95l1 1 12-2 2-3-2-1-12 1-2 0zM338 237l7 5 6 0 6-12-9-5-8 5zM436 120l8 8 17-2 2-4-10-1-7-7-2-3zM367 115l14-6 2-11-4-5-17 1zM362 216l4-11-9-5-9 5 0 7 0 1zM440 224l4 7 2 1 15-5 1-2-11-12zM245 300l5-5-3-15-16-3-2 16 13 8zM276 111l-6 3 2 16 15 1 5-7-2-8zM438 202l-8-4-7 3 4 16 4 2 8-13zM323 63l1 11 10 8 3-3-1-5 6-11 0-1zM412 94l10 12 7-8-7-4-8-3zM440 185l-2-17-11 2-8 11 12 7zM347 184l0 1 11 6 6-3 2-10-6-4zM358 191l-1 9 9 5 1-1 5-9-8-7zM328 93l-12 0-5 15 0 1 21 0z"/><path fill="#ffd800" d="M250 295l-5 5 14 12 8-4 1-1 2-6-9-8zM362 216l4 7 4 0 9-12-12-7-1 1zM300 267l-4 13 1 0 13-13zM401 109l14 6 7-4 0-5-10-12-12 2zM383 98l-2 11 10 8 10-8-1-13-1-1zM268 281l-7 12 9 8 10-5 1-1 0-8zM327 126l7 11 8 2 5-3 0-21-4-3-8 0zM415 274l4 6 11-2-1-13-10 1zM410 159l7 0 11-13-5-8-6-2-11 10zM281 287l0 8 3-1 11-11 2-3-1 0-8 0zM430 278l-11 2-2 4 1 2 7-3 8-3zM270 114l6-3 3-10-7 5-9 6zM444 274l-4 4 10-4 1 0zM429 265l1 13 3 2 7-2 4-4-5-12-6 0zM379 93l4 5 16-3-1-4-11-1-7-4zM270 301l-2 6 12-11zM362 229l-5 1-6 12 4 5 14-1 1-2zM379 211l-9 12 9 6 8-8-3-9-3-2zM280 264l-4 1-9 14 1 2 13 6 7-7zM267 279l-13-7-7 8 3 15 11-2 7-12z"/><path fill="#ffaa00" d="M423 236l-4-1-13 6 0 7 4 6 3 1 13-6 3-6zM301 218l-2 10 1 3 13 1 2-1-3-19zM431 220l-8 16 6 7 15-12-4-7zM453 260l-6-4-8 6 5 12 7 0 5-1zM385 269l-8-3-1 1 10 13 0-1zM450 245l-3 5 0 6 6 4 11-3 0-9-4-4zM306 201l8 9 14-12-2-6-12-1zM330 238l-9-7-6 0-2 1 0 13 12 5 2-3zM355 247l0 1 5 2 6 7 5-5-2-6zM313 159l9-8 0-3-12-15-12 13 5 10zM383 197l-4-4-7 2-5 9 12 7 2-1zM297 201l-4 10 8 7 11-6 2-2-8-9-6-1zM400 214l-3 10 2 4 14-4 2-6-4-5zM315 231l6 0 8-12-15-9-2 2zM464 257l6 6 10-7 1-8-6-3-11 3zM399 232l7 9 13-6-6-11-14 4zM322 148l12-11-7-11-17 1 0 1 0 5zM384 212l3 9 10 3 3-10-4-6zM382 237l-3-8-9-6-4 0-4 6 8 15zM345 242l-7-5-8 1-3 9 0-1 13-4 4 1zM314 210l15 9 3-1 1-1-3-18-2-1zM464 248l11-3-1-9-11-6-3 14zM355 247l-4-5-6 0-1 1 11 5zM366 257l10 9 0 1 1-1-2-10-4-4zM310 133l0-5-18-4-5 7 3 13 8 2zM446 232l-2-1-15 12 18 7 3-5zM285 214l2 11 12 3 2-10-8-7zM340 230l8-5 0-12 0-1-15 5-1 1zM300 231l-5 11 11 8 7-5 0-13zM413 198l-16 5-1 5 4 6 11-1zM470 266l0-3-6-6-11 3 3 13 1 0zM306 252l-10 10 4 5 10 0 5-5zM397 203l-4-6-10 0-2 13 3 2 12-4z"/><path fill="#ff7000" d="M129 131l2-1 6-8-1-13-16-6-1 1-2 3 0 14zM313 245l-7 5 0 2 9 10 2-2 4-5 4-5zM154 147l-2 1-1 3 5 16 10 6 13-8-6-19zM158 106l-1 0-13-2-2-1-6 6 1 13 23 1 4-3zM152 148l-21-18-2 1-11 14 1 4 11 8 21-6zM311 109l-1 18 17-1 8-14-3-3zM413 255l6 11 10-1 4-3-7-13zM415 274l-11-3-4 10 3 7 1 1 13-5 2-4zM94 161l14 6 11-18-1-4-1 0 0 6-6 0 3-1-8 4-8 4-5 1zM397 291l4 4 4-2-1-4-1-1zM377 266l8 3 7-5-1-12-1-1-15 5zM118 145l11-14-12-10 0 24zM164 120l3 0 8-7-5-5-12-2zM136 109l6-6-11-1-11 1zM225 115l-5-13-1 4 3 10zM390 251l1 1 15-4 0-7-7-9-13 7zM426 249l7 13 6 0 8-6 0-6-18-7zM417 284l-13 5 1 4 13-7zM403 288l-3-7-14-2 0 1 2 3 9 8zM137 122l-6 8 21 18 2-1 6-24z"/><path fill="#ff4000" d="M413 255l-3-1-8 14 2 3 11 3 4-8zM399 232l0-4-2-4-10-3-8 8 3 8 4 2zM404 271l-2-3-10-4-7 5 1 10 14 2zM391 252l1 12 10 4 8-14-4-6z"/><path fill="#ff0000" d="M369 246l2 6 4 4 15-5-4-12-4-2-12 7z"/></g><use href="#net"/><use href="#blines"/><use href="#ol" fill="none" stroke="#1f78ff" stroke-width="1.45"/><use href="#hole"/></g>
<g transform="translate(327,22.3)"><use href="#ol" fill="#888"/><g transform="scale(.25)"><path fill="#38a000" d="M207 230l-15 7-2 13 19 5 2-24zM160 123l-6 24 19-1 3-4-1-14-8-8-3 0zM119 198l14-14 0-4-1-1-21-5-7 9 2 12zM415 274l-11-3-4 10 3 7 1 1 13-5 2-4zM179 272l6-6 1-14-14-4-3 1-5 14 1 6zM192 356l7 11 8 0 1-8 2-15 1-2-1 0-18 12zM79 151l-23 0 10 3 11-1zM430 278l-11 2-2 4 1 2 7-3 8-3zM194 286l8 7 10-3 0-19-1-1-13 4zM192 356l0-2-7-12-5 0 6 16z"/><path fill="#5cb800" d="M33 134l10 10 13 7 35 0 9-2 14 1-3 1 6 0 0-47-5 3-10 5-17 3-19 1-17 0-11 8-5 7zM190 332l16 3 6-20-11-4-15 13zM169 249l3-1 0-23-7-5-4 1 0 3-2 14 2 9zM119 198l-13-3-6 5 2 8 4 2 10 0 6-2zM166 173l0 1 13 18 11-6 2-15-7-5-6-1zM129 131l2-1 6-8-1-13-16-6-1 1-2 3 0 14zM165 220l4-17-14-9 4 15 2 12zM94 161l-1-2-8 3-16 3 7 14 3 1 3-2zM154 147l-2 1-1 3 5 16 10 6 13-8-6-19zM165 269l4 17 1 9 6 0 5-6-2-17zM158 106l-1 0-13-2-2-1-6 6 1 13 23 1 4-3zM194 212l13 18 4 1 8-3 4-5-3-14-2-1-21 1-3 2zM100 200l6-5-2-12-22-5-3 2 8 19zM152 148l-21-18-2 1-11 14 1 4 11 8 21-6zM133 184l-14 14 3 10 6-2 13-6 4-5zM179 192l-2 6 17 13 3-2 3-16-10-7zM185 166l7 5 15 0 3-2 2-10-3-8-14-1zM94 161l14 6 11-18-1-4-1 0 0 6-6 0 3-1-8 4-8 4-5 1zM176 295l4 6 19 6 3-14-8-7-13 3zM207 189l8 3 15-10 1-2-21-11-3 2zM133 180l0 4 12 11 2-2 4-10 2-2 2 11 11-18 0-1-10-6zM76 179l-7-14-3 0-11 4-1 1 7 6 9 7zM179 321l1-20-4-6-6 0 4 20 1 7zM212 290l8 6 9-3 2-16-2-4-17-2zM397 291l4 4 4-2-1-4-1-1zM212 271l17 2 7-13-6-11-21 6 2 15zM118 145l11-14-12-10 0 24zM164 120l3 0 8-7-5-5-12-2zM198 274l13-4-2-15-19-5-4 2-1 14zM136 109l6-6-11-1-11 1zM415 274l4 6 11-2-1-13-10 1zM197 209l21-1-3-16-8-3-7 4zM181 289l13-3 4-12-13-8-6 6zM169 203l-4 17 7 5 9-1 13-12 0-1-17-13zM199 307l2 4 11 4 3-1 5-18-8-6-10 3zM179 165l6 1 10-16-4-7-15-1-3 4zM281 287l0 8 3-1 11-11 2-3-1 0-8 0zM225 115l-5-13-1 4 3 10zM179 321l-4 1 5 20 5 0 5-10-4-8zM404 271l-2-3-10-4-7 5 1 10 14 2zM76 179l-6 4 2 2 13 13 2 1-8-19zM194 212l-13 12 11 13 15-7zM429 265l1 13 3 2 7-2 4-4-5-12-6 0zM130 157l2 22 1 1 23-13-5-16zM185 342l7 12 18-12-4-7-16-3zM190 186l10 7 7-4 0-18-15 0zM245 300l5-5-3-15-16-3-2 16 13 8zM172 248l14 4 4-2 2-13-11-13-9 1zM502 262l-5-3-8 4 0 3 1 0 12-3zM166 174l-11 18 0 1 0 1 14 9 8-5 2-6zM100 200l-13-1 12 8 3 1zM403 288l-3-7-14-2 0 1 2 3 9 8zM130 157l-11-8-11 18 3 7 21 5zM137 122l-6 8 21 18 2-1 6-24zM104 183l7-9-3-7-14-6-12 17zM169 249l-8-2 2 9 1 7z"/><path fill="#80cc00" d="M250 295l-5 5 14 12 8-4 1-1 2-6-9-8zM231 277l16 3 7-8-2-11-16-1-7 13zM248 232l-5-8-20-1-4 5 12 19 16-11zM212 315l-6 20 4 7 1 0 4-9 12-5-1-9-11-5zM531 242l-3-1-2 1-10 11 0 3 0 1 11-5 7-4zM199 367l-7-11-6 2 1 3 5 14zM248 232l-1 4 10 19 1 0 18-15-1-4-7-7zM226 319l10-4 6-14-13-8-9 3-5 18zM268 281l-7 12 9 8 10-5 1-1 0-8zM242 321l5-3 12-6-14-12-3 1-6 14zM546 238l-15 4 3 6 9-4 5-5zM489 263l8-4 0-10-8-6-8 5-1 8zM417 284l-13 5 1 4 13-7zM270 301l-2 6 12-11zM179 321l7 3 15-13-2-4-19-6zM516 256l-14 6 0 1 8-3 6-3zM505 246l11 7 10-11-20-9zM280 264l-4 1-9 14 1 2 13 6 7-7zM267 279l-13-7-7 8 3 15 11-2 7-12z"/><path fill="#b0e000" d="M423 236l-4-1-13 6 0 7 4 6 3 1 13-6 3-6zM347 185l-5 13 6 7 9-5 1-9zM279 212l6 2 8-3 4-10-13-5-7 4zM431 220l-8 16 6 7 15-12-4-7zM362 216l4 7 4 0 9-12-12-7-1 1zM330 199l12-1 5-13 0-1-3-2-16 3-2 7 2 6zM413 255l6 11 10-1 4-3-7-13zM366 223l-4-7-14-3 0 12 9 5 5-1zM453 260l-6-4-8 6 5 12 7 0 5-1zM385 269l-8-3-1 1 10 13 0-1zM450 245l-3 5 0 6 6 4 11-3 0-9-4-4zM470 263l0 3 2 3 17-3 0-3-9-7zM355 247l0 1 5 2 6 7 5-5-2-6zM497 249l0 10 5 3 14-6 0-3-11-7zM275 236l1 4 8 6 11-4 5-11-1-3-12-3zM377 266l8 3 7-5-1-12-1-1-15 5zM475 245l6 3 8-5 1-4-8-10-8 7zM333 217l15-5 0-7-6-7-12 1zM369 246l2 6 4 4 15-5-4-12-4-2-12 7zM490 239l-1 4 8 6 8-3 1-13-2-3-2 1zM284 246l-8-6-18 15 18 10 4-1 5-6zM413 255l-3-1-8 14 2 3 11 3 4-8zM199 367l-7 8 1 3 7 4 6-8 1-7zM464 257l6 6 10-7 1-8-6-3-11 3zM236 260l16 1 5-6-10-19-16 11-1 2zM382 237l-3-8-9-6-4 0-4 6 8 15zM345 242l-7-5-8 1-3 9 0-1 13-4 4 1zM227 328l3-2 12-5-6-6-10 4zM444 274l-4 4 10-4 1 0zM470 266l-13 7 11-3 4-1zM426 249l7 13 6 0 8-6 0-6-18-7zM314 210l15 9 3-1 1-1-3-18-2-1zM362 216l4-11-9-5-9 5 0 7 0 1zM464 248l11-3-1-9-11-6-3 14zM355 247l-4-5-6 0-1 1 11 5zM366 257l10 9 0 1 1-1-2-10-4-4zM446 232l-2-1-15 12 18 7 3-5zM340 230l8-5 0-12 0-1-15 5-1 1zM362 229l-5 1-6 12 4 5 14-1 1-2zM358 191l-1 9 9 5 1-1 5-9-8-7zM413 224l6 11 4 1 8-16 0-1-4-2-12 1zM379 211l-9 12 9 6 8-8-3-9-3-2zM470 266l0-3-6-6-11 3 3 13 1 0z"/><path fill="#e0f000" d="M463 230l-2-3-15 5 4 13 10-1zM285 258l-5 6 8 16 8 0 4-13-4-5zM313 245l-7 5 0 2 9 10 2-2 4-5 4-5zM451 213l11 12 5-5 0-14-2-1-9 1-6 6zM448 192l0-1-8-6-9 3-1 10 8 4zM330 238l-9-7-6 0-2 1 0 13 12 5 2-3zM300 267l-4 13 1 0 13-13zM474 236l8-7 0-5-2-3-13-1-5 5-1 2 2 3zM383 197l-4-4-7 2-5 9 12 7 2-1zM315 231l6 0 8-12-15-9-2 2zM390 251l1 1 15-4 0-7-7-9-13 7zM384 212l3 9 10 3 3-10-4-6zM338 237l7 5 6 0 6-12-9-5-8 5zM440 224l4 7 2 1 15-5 1-2-11-12zM391 252l1 12 10 4 8-14-4-6zM456 206l9-1-1-13-10-4-6 3 0 1zM498 169l12 10 3 0 4-5-15-6-3 0zM440 185l-2-17-11 2-8 11 12 7zM300 231l-5 11 11 8 7-5 0-13zM306 252l-10 10 4 5 10 0 5-5zM191 143l4-12-2-2-4-3-14 2 1 14z"/><path fill="#ffd800" d="M256 181l-4-15-9-3-7 3-5 14 20 5zM542 201l9-7 0-3-10-14-2-1-1 0-10 17 5 7zM209 151l3-9-6-3-11-8-4 12 4 7zM167 120l8 8 14-2-9-6-5-7zM557 217l-11 1 0 1 0 19 2 1 7-7 7-11zM454 188l2-10-6-11-11 0-1 1 2 17 8 6zM430 198l1-10-12-7-6 15 0 2 10 3zM252 261l2 11 13 7 9-14-18-10-1 0zM364 188l8 7 7-2 3-10-4-7-1-1-11 3zM485 162l1 2 4-10-1-3zM475 182l-3-5-16 1-2 10 10 4 11-6zM400 214l-3 10 2 4 14-4 2-6-4-5zM518 191l10 2 10-17-17-2-3 0-1 0-4 5zM439 167l-5-19-6-2-11 13 10 11 11-2zM246 103l-1-3-9-7-1 0 5 9zM431 219l0 1 9 4 11-11-1-1-11-6zM338 237l2-7-8-12-3 1-8 12 9 7zM399 232l0-4-2-4-10-3-8 8 3 8 4 2zM489 177l7 14 14-12-12-10-6 1zM210 169l21 11 5-14-8-9-16 2zM526 221l20-2 0-1-4-17-9-1-9 15 0 4zM399 232l7 9 13-6-6-11-14 4zM284 246l1 12 11 4 10-10 0-2-11-8zM538 176l1 0-1-9-3 3-14 4zM479 193l-4 11 5 4 10-2 2-11zM542 201l4 17 11-1 6-14-12-9zM489 166l-3 0 0-2-1-2-13 1 0 14 3 5 14-5 3-7zM438 202l-8-4-7 3 4 16 4 2 8-13zM285 214l2 11 12 3 2-10-8-7zM231 180l-1 2 5 19 4 1 11-5 1-12zM413 198l-16 5-1 5 4 6 11-1zM397 203l-4-6-10 0-2 13 3 2 12-4z"/><path fill="#ffaa00" d="M380 152l-5 6 2 17 1 1 19-10-10-13zM419 181l-16-8-6 12 1 1 15 10zM572 184l-8-2-13 9 0 3 12 9 9-2 2-4zM510 204l0-2-15-9-3 2-2 11 5 6 7 0zM450 212l6-6-8-14-10 10 1 4zM301 218l-2 10 1 3 13 1 2-1-3-19zM285 214l-6-2-10 7-1 10 7 7 12-11zM311 109l-1 18 17-1 8-14-3-3zM444 128l0 15 9 4 14-8-6-13zM422 106l0 5 14 9 8-9-7-8-8-5zM259 209l-14 9-2 6 5 8 20-3 1-10zM249 123l5-7-2 0-4-6-2-7-6-1-10 14zM249 123l2 11 19-2 2-2-2-16-7-2-1 1-8 3zM539 176l2 1 15-7-1 0-12-8-5 5zM225 115l3 2 2-1 10-14-5-9-9 2-5 5-1 2zM290 116l2 8 18 4 0-1 1-18 0-1-12-4zM313 159l9-8 0-3-12-15-12 13 5 10zM393 197l5-11-1-1-15-2-3 10 4 4zM563 203l-6 14 5 4 2-2 4-12 4-6zM413 198l-2 15 4 5 12-1-4-16zM472 163l-2-1-16 0-4 5 6 11 16-1zM297 201l-4 10 8 7 11-6 2-2-8-9-6-1zM413 196l-15-10-5 11 4 6 16-5zM366 178l11-3-2-17-17 0-3 3 5 13zM378 176l4 7 15 2 6-12-2-5-4-2zM410 159l7 0 11-13-5-8-6-2-11 10zM427 170l-10-11-7 0-9 9 2 5 16 8zM273 146l-3-14-19 2-4 6 1 1 14 12zM572 184l2 13 2-2 4-9-6-3zM276 111l-6 3 2 16 15 1 5-7-2-8zM454 162l-1-15-9-4-10 5 5 19 11 0zM269 197l-10 6 0 6 10 10 10-7-2-12zM310 133l0-5-18-4-5 7 3 13 8 2zM347 184l0 1 11 6 6-3 2-10-6-4zM572 184l2-1-6-5-8-4 4 8zM226 95l-4 0-1 5zM328 93l-12 0-5 15 0 1 21 0z"/><path fill="#ff7000" d="M355 161l-12 0-2 1-1 3 4 17 3 2 13-10zM434 148l10-5 0-15-8-8-13 18 5 8zM227 137l1-20-3-2-3 1 0 4-6 12-2 7zM220 209l15-8-5-19-15 10 3 16zM259 203l-9-6-11 5 6 16 14-9zM495 193l1-2-7-14-14 5 0 4 4 7 13 2zM490 206l-10 2 0 13 2 3 8-2 5-10zM303 156l-5-10-8-2-9 6 1 10 8 7 1 0zM228 157l8 9 7-3 5-22-1-1-15 1zM383 98l-2 11 10 8 10-8-1-13-1-1zM297 85l-18-4 0 2 3 0 4 7-4 8-1 1 13-2zM243 224l2-6-6-16-4-1-15 8 3 14zM479 135l-1-2-13-11-2 0-2 4 6 13 4 2 1 0zM214 139l-2 3-3 9 3 8 16-2 4-16-5-4zM281 99l-2 2-3 10 14 5 9-12-5-7zM475 204l4-11-4-7-11 6 1 13 2 1zM472 141l-1 0-1 21 2 1 13-1 4-11-1-2zM495 212l-5 10 12 9 2-1 3-4-5-14zM471 141l-4-2-14 8 1 15 16 0zM276 76l2-8-5-4-4 5-3 8 1 1zM564 182l-4-8-4-4-15 7 10 14zM322 148l12-11-7-11-17 1 0 1 0 5zM270 114l6-3 3-10-7 5-9 6zM436 120l8 8 17-2 2-4-10-1-7-7-2-3zM472 141l16 8-2-3-7-11zM256 181l-5 4-1 12 9 6 10-6-3-15zM467 220l13 1 0-13-5-4-8 2zM230 249l1-2-12-19-8 3-2 24zM412 94l10 12 7-8-7-4-8-3zM279 81l-3-5-9 2 5 3 7 2zM482 224l0 5 8 10 12-8-12-9z"/><path fill="#ff4000" d="M290 144l-3-13-15-1-2 2 3 14 8 4zM347 136l12 3 11-5-4-19-19 0zM357 91l5 3 17-1 1-7-5-3-12 3-5 1zM334 82l-10-8-14 10 6 9 12 0 7-8zM333 41l-2-1-16 0-5 3 13 6zM299 104l12 4 5-15-6-9-9-3-4 4-3 12zM262 153l-14-12-5 22 9 3 11-6zM307 179l9-8-3-12-10-3-12 11 9 13zM306 201l8 9 14-12-2-6-12-1zM301 81l-1-15-10-4-12 6-2 8 3 5 18 4zM380 152l7 1 11-9-4-15-2-2-18 9zM401 109l14 6 7-4 0-5-10-12-12 2zM359 139l-1 19 17 0 5-6-6-16-4-2zM290 62l10 4 3-3 3-18-10 5-9 4zM279 179l-9 0-4 3 3 15 8 3 7-4 1-9zM506 233l20 9 2-1-2-20-2-2-17 7-3 4zM370 134l4 2 18-9-1-10-10-8-14 6-1 0zM327 126l7 11 8 2 5-3 0-21-4-3-8 0zM334 82l1 3 15 9 7-3 1-4-8 1-12-5-1-4zM303 63l-3 3 1 15 9 3 14-10-1-11 0-1zM282 160l-12 5 0 14 9 0 11-12zM397 166l4 2 9-9-4-13-8-2-11 9zM423 138l13-18-14-9-7 4-4 11 6 10zM335 112l8 0 7-18-15-9-7 8 4 16zM399 95l1 1 12-2 2-3-2-1-12 1-2 0zM528 241l3 1 15-4 0-19-20 2zM227 137l5 4 15-1 4-6-2-11-19-7-2 1zM510 202l8-11-5-12-3 0-14 12-1 2zM314 191l12 1 2-7-4-11-8-3-9 8zM367 115l14-6 2-11-4-5-17 1zM291 167l-1 0-11 12 6 8 14-5 1-2zM392 127l2 2 17-3 4-11-14-6-10 8zM323 63l1 11 10 8 3-3-1-5 6-11 0-1zM290 62l-3-8-11 7-3 3 5 4zM273 146l-11 7 1 7 7 5 12-5-1-10zM303 63l20-1 0-13-13-6-4 2zM379 93l4 5 16-3-1-4-11-1-7-4zM285 187l-1 9 13 5 3-1-1-18z"/><path fill="#ff0000" d="M316 171l8 3 16-9 1-3-19-11-9 8zM323 49l0 13 0 1 19-1-1-13-8-8zM406 146l11-10-6-10-17 3 4 15zM524 215l9-15-5-7-10-2-8 11 0 2zM342 139l1 22 12 0 3-3 1-19-12-3zM347 115l19 0 1 0-5-21-5-3-7 3-7 18zM299 182l1 18 6 1 8-10-7-12-7 1zM328 185l16-3-4-17-16 9zM507 226l17-7 0-4-14-11-8 8zM341 162l2-1-1-22-8-2-12 11 0 3zM270 165l-7-5-11 6 4 15 10 1 4-3z"/></g><use href="#net"/><use href="#blines"/><use href="#ol" fill="none" stroke="#1f78ff" stroke-width="1.45"/><use href="#hole"/></g>
<g transform="translate(19,128.5)"><use href="#ol" fill="#888"/><g transform="scale(.25)"><path fill="#5cb800" d="M423 236l-4-1-13 6 0 7 4 6 3 1 13-6 3-6zM369 246l2 6 4 4 15-5-4-12-4-2-12 7zM384 212l3 9 10 3 3-10-4-6z"/><path fill="#80cc00" d="M419 181l-16-8-6 12 1 1 15 10zM434 148l10-5 0-15-8-8-13 18 5 8zM250 295l-5 5 14 12 8-4 1-1 2-6-9-8zM444 128l0 15 9 4 14-8-6-13zM413 255l6 11 10-1 4-3-7-13zM415 274l-11-3-4 10 3 7 1 1 13-5 2-4zM300 267l-4 13 1 0 13-13zM430 198l1-10-12-7-6 15 0 2 10 3zM393 197l5-11-1-1-15-2-3 10 4 4zM413 198l-2 15 4 5 12-1-4-16zM413 196l-15-10-5 11 4 6 16-5zM471 141l-4-2-14 8 1 15 16 0zM400 214l-3 10 2 4 14-4 2-6-4-5zM423 138l13-18-14-9-7 4-4 11 6 10zM199 307l2 4 11 4 3-1 5-18-8-6-10 3zM378 176l4 7 15 2 6-12-2-5-4-2zM413 255l-3-1-8 14 2 3 11 3 4-8zM338 237l2-7-8-12-3 1-8 12 9 7zM399 232l0-4-2-4-10-3-8 8 3 8 4 2zM399 232l7 9 13-6-6-11-14 4zM390 251l1 1 15-4 0-7-7-9-13 7zM436 120l8 8 17-2 2-4-10-1-7-7-2-3zM227 328l3-2 12-5-6-6-10 4zM267 279l-13-7-7 8 3 15 11-2 7-12zM306 252l-10 10 4 5 10 0 5-5zM397 203l-4-6-10 0-2 13 3 2 12-4z"/><path fill="#b0e000" d="M190 332l16 3 6-20-11-4-15 13zM380 152l-5 6 2 17 1 1 19-10-10-13zM347 136l12 3 11-5-4-19-19 0zM313 245l-7 5 0 2 9 10 2-2 4-5 4-5zM572 184l-8-2-13 9 0 3 12 9 9-2 2-4zM450 212l6-6-8-14-10 10 1 4zM333 41l-2-1-16 0-5 3 13 6zM431 220l-8 16 6 7 15-12-4-7zM451 213l11 12 5-5 0-14-2-1-9 1-6 6zM212 315l-6 20 4 7 1 0 4-9 12-5-1-9-11-5zM422 106l0 5 14 9 8-9-7-8-8-5zM406 146l11-10-6-10-17 3 4 15zM448 192l0-1-8-6-9 3-1 10 8 4zM176 295l4 6 19 6 3-14-8-7-13 3zM454 188l2-10-6-11-11 0-1 1 2 17 8 6zM380 152l7 1 11-9-4-15-2-2-18 9zM330 238l-9-7-6 0-2 1 0 13 12 5 2-3zM401 109l14 6 7-4 0-5-10-12-12 2zM359 139l-1 19 17 0 5-6-6-16-4-2zM342 139l1 22 12 0 3-3 1-19-12-3zM539 176l2 1 15-7-1 0-12-8-5 5zM179 321l1-20-4-6-6 0 4 20 1 7zM479 135l-1-2-13-11-2 0-2 4 6 13 4 2 1 0zM226 319l10-4 6-14-13-8-9 3-5 18zM268 281l-7 12 9 8 10-5 1-1 0-8zM212 290l8 6 9-3 2-16-2-4-17-2zM397 291l4 4 4-2-1-4-1-1zM242 321l5-3 12-6-14-12-3 1-6 14zM370 134l4 2 18-9-1-10-10-8-14 6-1 0zM472 163l-2-1-16 0-4 5 6 11 16-1zM475 204l4-11-4-7-11 6 1 13 2 1zM475 182l-3-5-16 1-2 10 10 4 11-6zM472 141l-1 0-1 21 2 1 13-1 4-11-1-2zM366 178l11-3-2-17-17 0-3 3 5 13zM439 167l-5-19-6-2-11 13 10 11 11-2zM397 166l4 2 9-9-4-13-8-2-11 9zM415 274l4 6 11-2-1-13-10 1zM181 289l13-3 4-12-13-8-6 6zM431 219l0 1 9 4 11-11-1-1-11-6zM276 76l2-8-5-4-4 5-3 8 1 1zM410 159l7 0 11-13-5-8-6-2-11 10zM489 177l7 14 14-12-12-10-6 1zM564 182l-4-8-4-4-15 7 10 14zM179 321l-4 1 5 20 5 0 5-10-4-8zM427 170l-10-11-7 0-9 9 2 5 16 8zM430 278l-11 2-2 4 1 2 7-3 8-3zM404 271l-2-3-10-4-7 5 1 10 14 2zM572 184l2 13 2-2 4-9-6-3zM538 176l1 0-1-9-3 3-14 4zM472 141l16 8-2-3-7-11zM479 193l-4 11 5 4 10-2 2-11zM185 342l7 12 18-12-4-7-16-3zM245 300l5-5-3-15-16-3-2 16 13 8zM417 284l-13 5 1 4 13-7zM391 252l1 12 10 4 8-14-4-6zM456 206l9-1-1-13-10-4-6 3 0 1zM454 162l-1-15-9-4-10 5 5 19 11 0zM489 166l-3 0 0-2-1-2-13 1 0 14 3 5 14-5 3-7zM438 202l-8-4-7 3 4 16 4 2 8-13zM446 232l-2-1-15 12 18 7 3-5zM440 185l-2-17-11 2-8 11 12 7zM270 301l-2 6 12-11zM403 288l-3-7-14-2 0 1 2 3 9 8zM572 184l2-1-6-5-8-4 4 8zM194 286l8 7 10-3 0-19-1-1-13 4zM179 321l7 3 15-13-2-4-19-6zM413 224l6 11 4 1 8-16 0-1-4-2-12 1zM413 198l-16 5-1 5 4 6 11-1zM280 264l-4 1-9 14 1 2 13 6 7-7zM328 93l-12 0-5 15 0 1 21 0z"/><path fill="#e0f000" d="M316 171l8 3 16-9 1-3-19-11-9 8zM355 161l-12 0-2 1-1 3 4 17 3 2 13-10zM323 49l0 13 0 1 19-1-1-13-8-8zM285 258l-5 6 8 16 8 0 4-13-4-5zM357 91l5 3 17-1 1-7-5-3-12 3-5 1zM279 212l6 2 8-3 4-10-13-5-7 4zM334 82l-10-8-14 10 6 9 12 0 7-8zM194 212l13 18 4 1 8-3 4-5-3-14-2-1-21 1-3 2zM285 214l-6-2-10 7-1 10 7 7 12-11zM259 203l-9-6-11 5 6 16 14-9zM311 109l-1 18 17-1 8-14-3-3zM453 260l-6-4-8 6 5 12 7 0 5-1zM307 179l9-8-3-12-10-3-12 11 9 13zM450 245l-3 5 0 6 6 4 11-3 0-9-4-4zM306 201l8 9 14-12-2-6-12-1zM199 367l-7-11-6 2 1 3 5 14zM259 209l-14 9-2 6 5 8 20-3 1-10zM383 98l-2 11 10 8 10-8-1-13-1-1zM297 85l-18-4 0 2 3 0 4 7-4 8-1 1 13-2zM248 232l-1 4 10 19 1 0 18-15-1-4-7-7zM252 261l2 11 13 7 9-14-18-10-1 0zM279 179l-9 0-4 3 3 15 8 3 7-4 1-9zM290 116l2 8 18 4 0-1 1-18 0-1-12-4zM313 159l9-8 0-3-12-15-12 13 5 10zM347 115l19 0 1 0-5-21-5-3-7 3-7 18zM383 197l-4-4-7 2-5 9 12 7 2-1zM275 236l1 4 8 6 11-4 5-11-1-3-12-3zM485 162l1 2 4-10-1-3zM327 126l7 11 8 2 5-3 0-21-4-3-8 0zM192 356l7 11 8 0 1-8 2-15 1-2-1 0-18 12zM334 82l1 3 15 9 7-3 1-4-8 1-12-5-1-4zM299 182l1 18 6 1 8-10-7-12-7 1zM284 246l-8-6-18 15 18 10 4-1 5-6zM169 203l-4 17 7 5 9-1 13-12 0-1-17-13zM328 185l16-3-4-17-16 9zM335 112l8 0 7-18-15-9-7 8 4 16zM199 367l-7 8 1 3 7 4 6-8 1-7zM281 287l0 8 3-1 11-11 2-3-1 0-8 0zM322 148l12-11-7-11-17 1 0 1 0 5zM284 246l1 12 11 4 10-10 0-2-11-8zM345 242l-7-5-8 1-3 9 0-1 13-4 4 1zM314 191l12 1 2-7-4-11-8-3-9 8zM367 115l14-6 2-11-4-5-17 1zM291 167l-1 0-11 12 6 8 14-5 1-2zM444 274l-4 4 10-4 1 0zM341 162l2-1-1-22-8-2-12 11 0 3zM470 266l-13 7 11-3 4-1zM429 265l1 13 3 2 7-2 4-4-5-12-6 0zM172 248l14 4 4-2 2-13-11-13-9 1zM392 127l2 2 17-3 4-11-14-6-10 8zM269 197l-10 6 0 6 10 10 10-7-2-12zM323 63l1 11 10 8 3-3-1-5 6-11 0-1zM310 133l0-5-18-4-5 7 3 13 8 2zM412 94l10 12 7-8-7-4-8-3zM303 63l20-1 0-13-13-6-4 2zM300 231l-5 11 11 8 7-5 0-13zM347 184l0 1 11 6 6-3 2-10-6-4zM279 81l-3-5-9 2 5 3 7 2zM192 356l0-2-7-12-5 0 6 16z"/><path fill="#ffd800" d="M290 144l-3-13-15-1-2 2 3 14 8 4zM347 185l-5 13 6 7 9-5 1-9zM301 218l-2 10 1 3 13 1 2-1-3-19zM362 216l4 7 4 0 9-12-12-7-1 1zM330 199l12-1 5-13 0-1-3-2-16 3-2 7 2 6zM299 104l12 4 5-15-6-9-9-3-4 4-3 12zM301 81l-1-15-10-4-12 6-2 8 3 5 18 4zM303 156l-5-10-8-2-9 6 1 10 8 7 1 0zM249 123l2 11 19-2 2-2-2-16-7-2-1 1-8 3zM355 247l0 1 5 2 6 7 5-5-2-6zM243 224l2-6-6-16-4-1-15 8 3 14zM290 62l10 4 3-3 3-18-10 5-9 4zM364 188l8 7 7-2 3-10-4-7-1-1-11 3zM297 201l-4 10 8 7 11-6 2-2-8-9-6-1zM377 266l8 3 7-5-1-12-1-1-15 5zM281 99l-2 2-3 10 14 5 9-12-5-7zM333 217l15-5 0-7-6-7-12 1zM303 63l-3 3 1 15 9 3 14-10-1-11 0-1zM282 160l-12 5 0 14 9 0 11-12zM315 231l6 0 8-12-15-9-2 2zM399 95l1 1 12-2 2-3-2-1-12 1-2 0zM338 237l7 5 6 0 6-12-9-5-8 5zM273 146l-3-14-19 2-4 6 1 1 14 12zM382 237l-3-8-9-6-4 0-4 6 8 15zM194 212l-13 12 11 13 15-7zM426 249l7 13 6 0 8-6 0-6-18-7zM314 210l15 9 3-1 1-1-3-18-2-1zM362 216l4-11-9-5-9 5 0 7 0 1zM256 181l-5 4-1 12 9 6 10-6-3-15zM276 111l-6 3 2 16 15 1 5-7-2-8zM355 247l-4-5-6 0-1 1 11 5zM366 257l10 9 0 1 1-1-2-10-4-4zM273 146l-11 7 1 7 7 5 12-5-1-10zM285 214l2 11 12 3 2-10-8-7zM379 93l4 5 16-3-1-4-11-1-7-4zM340 230l8-5 0-12 0-1-15 5-1 1zM362 229l-5 1-6 12 4 5 14-1 1-2zM358 191l-1 9 9 5 1-1 5-9-8-7zM285 187l-1 9 13 5 3-1-1-18zM379 211l-9 12 9 6 8-8-3-9-3-2z"/><path fill="#ffaa00" d="M119 198l-13-3-6 5 2 8 4 2 10 0 6-2zM463 230l-2-3-15 5 4 13 10-1zM510 204l0-2-15-9-3 2-2 11 5 6 7 0zM542 201l9-7 0-3-10-14-2-1-1 0-10 17 5 7zM133 184l-14 14 3 10 6-2 13-6 4-5zM495 193l1-2-7-14-14 5 0 4 4 7 13 2zM366 223l-4-7-14-3 0 12 9 5 5-1zM385 269l-8-3-1 1 10 13 0-1zM490 206l-10 2 0 13 2 3 8-2 5-10zM470 263l0 3 2 3 17-3 0-3-9-7zM474 236l8-7 0-5-2-3-13-1-5 5-1 2 2 3zM563 203l-6 14 5 4 2-2 4-12 4-6zM495 212l-5 10 12 9 2-1 3-4-5-14zM489 263l8-4 0-10-8-6-8 5-1 8zM542 201l4 17 11-1 6-14-12-9zM440 224l4 7 2 1 15-5 1-2-11-12zM502 262l-5-3-8 4 0 3 1 0 12-3zM467 220l13 1 0-13-5-4-8 2zM464 248l11-3-1-9-11-6-3 14zM290 62l-3-8-11 7-3 3 5 4zM498 169l12 10 3 0 4-5-15-6-3 0zM482 224l0 5 8 10 12-8-12-9zM470 266l0-3-6-6-11 3 3 13 1 0z"/><path fill="#ff7000" d="M531 242l-3-1-2 1-10 11 0 3 0 1 11-5 7-4zM557 217l-11 1 0 1 0 19 2 1 7-7 7-11zM524 215l9-15-5-7-10-2-8 11 0 2zM506 233l20 9 2-1-2-20-2-2-17 7-3 4zM497 249l0 10 5 3 14-6 0-3-11-7zM546 238l-15 4 3 6 9-4 5-5zM475 245l6 3 8-5 1-4-8-10-8 7zM518 191l10 2 10-17-17-2-3 0-1 0-4 5zM464 257l6 6 10-7 1-8-6-3-11 3zM507 226l17-7 0-4-14-11-8 8zM528 241l3 1 15-4 0-19-20 2zM510 202l8-11-5-12-3 0-14 12-1 2zM76 179l-6 4 2 2 13 13 2 1-8-19zM100 200l-13-1 12 8 3 1zM516 256l-14 6 0 1 8-3 6-3zM505 246l11 7 10-11-20-9z"/><path fill="#ff4000" d="M169 249l3-1 0-23-7-5-4 1 0 3-2 14 2 9zM256 181l-4-15-9-3-7 3-5 14 20 5zM94 161l-1-2-8 3-16 3 7 14 3 1 3-2zM154 147l-2 1-1 3 5 16 10 6 13-8-6-19zM165 269l4 17 1 9 6 0 5-6-2-17zM158 106l-1 0-13-2-2-1-6 6 1 13 23 1 4-3zM160 123l-6 24 19-1 3-4-1-14-8-8-3 0zM220 209l15-8-5-19-15 10 3 16zM100 200l6-5-2-12-22-5-3 2 8 19zM119 198l14-14 0-4-1-1-21-5-7 9 2 12zM152 148l-21-18-2 1-11 14 1 4 11 8 21-6zM262 153l-14-12-5 22 9 3 11-6zM167 120l8 8 14-2-9-6-5-7zM207 189l8 3 15-10 1-2-21-11-3 2zM76 179l-7-14-3 0-11 4-1 1 7 6 9 7zM225 115l3 2 2-1 10-14-5-9-9 2-5 5-1 2zM179 272l6-6 1-14-14-4-3 1-5 14 1 6zM214 139l-2 3-3 9 3 8 16-2 4-16-5-4zM118 145l11-14-12-10 0 24zM164 120l3 0 8-7-5-5-12-2zM490 239l-1 4 8 6 8-3 1-13-2-3-2 1zM526 221l20-2 0-1-4-17-9-1-9 15 0 4zM270 165l-7-5-11 6 4 15 10 1 4-3zM226 95l-4 0-1 5zM137 122l-6 8 21 18 2-1 6-24zM104 183l7-9-3-7-14-6-12 17zM169 249l-8-2 2 9 1 7z"/><path fill="#ff0000" d="M33 134l10 10 13 7 35 0 9-2 14 1-3 1 6 0 0-47-5 3-10 5-17 3-19 1-17 0-11 8-5 7zM207 230l-15 7-2 13 19 5 2-24zM231 277l16 3 7-8-2-11-16-1-7 13zM166 173l0 1 13 18 11-6 2-15-7-5-6-1zM129 131l2-1 6-8-1-13-16-6-1 1-2 3 0 14zM165 220l4-17-14-9 4 15 2 12zM248 232l-5-8-20-1-4 5 12 19 16-11zM227 137l1-20-3-2-3 1 0 4-6 12-2 7zM209 151l3-9-6-3-11-8-4 12 4 7zM179 192l-2 6 17 13 3-2 3-16-10-7zM185 166l7 5 15 0 3-2 2-10-3-8-14-1zM94 161l14 6 11-18-1-4-1 0 0 6-6 0 3-1-8 4-8 4-5 1zM228 157l8 9 7-3 5-22-1-1-15 1zM249 123l5-7-2 0-4-6-2-7-6-1-10 14zM133 180l0 4 12 11 2-2 4-10 2-2 2 11 11-18 0-1-10-6zM212 271l17 2 7-13-6-11-21 6 2 15zM198 274l13-4-2-15-19-5-4 2-1 14zM136 109l6-6-11-1-11 1zM197 209l21-1-3-16-8-3-7 4zM246 103l-1-3-9-7-1 0 5 9zM79 151l-23 0 10 3 11-1zM179 165l6 1 10-16-4-7-15-1-3 4zM210 169l21 11 5-14-8-9-16 2zM225 115l-5-13-1 4 3 10zM236 260l16 1 5-6-10-19-16 11-1 2zM270 114l6-3 3-10-7 5-9 6zM227 137l5 4 15-1 4-6-2-11-19-7-2 1zM130 157l2 22 1 1 23-13-5-16zM190 186l10 7 7-4 0-18-15 0zM230 249l1-2-12-19-8 3-2 24zM166 174l-11 18 0 1 0 1 14 9 8-5 2-6zM130 157l-11-8-11 18 3 7 21 5zM231 180l-1 2 5 19 4 1 11-5 1-12zM191 143l4-12-2-2-4-3-14 2 1 14z"/></g><use href="#net"/><use href="#blines"/><use href="#ol" fill="none" stroke="#1f78ff" stroke-width="1.45"/><use href="#hole"/></g>
<g transform="translate(173,128.5)"><use href="#ol" fill="#888"/><g transform="scale(.25)"><path fill="#38a000" d="M158 106l-1 0-13-2-2-1-6 6 1 13 23 1 4-3zM179 192l-2 6 17 13 3-2 3-16-10-7z"/><path fill="#5cb800" d="M33 134l10 10 13 7 35 0 9-2 14 1-3 1 6 0 0-47-5 3-10 5-17 3-19 1-17 0-11 8-5 7zM323 49l0 13 0 1 19-1-1-13-8-8zM227 137l1-20-3-2-3 1 0 4-6 12-2 7zM160 123l-6 24 19-1 3-4-1-14-8-8-3 0zM209 151l3-9-6-3-11-8-4 12 4 7zM167 120l8 8 14-2-9-6-5-7zM448 192l0-1-8-6-9 3-1 10 8 4zM133 180l0 4 12 11 2-2 4-10 2-2 2 11 11-18 0-1-10-6zM214 139l-2 3-3 9 3 8 16-2 4-16-5-4zM475 204l4-11-4-7-11 6 1 13 2 1zM164 120l3 0 8-7-5-5-12-2zM303 63l-3 3 1 15 9 3 14-10-1-11 0-1zM136 109l6-6-11-1-11 1zM79 151l-23 0 10 3 11-1zM179 165l6 1 10-16-4-7-15-1-3 4zM225 115l-5-13-1 4 3 10zM137 122l-6 8 21 18 2-1 6-24zM191 143l4-12-2-2-4-3-14 2 1 14z"/><path fill="#80cc00" d="M207 230l-15 7-2 13 19 5 2-24zM166 173l0 1 13 18 11-6 2-15-7-5-6-1zM129 131l2-1 6-8-1-13-16-6-1 1-2 3 0 14zM154 147l-2 1-1 3 5 16 10 6 13-8-6-19zM450 212l6-6-8-14-10 10 1 4zM333 41l-2-1-16 0-5 3 13 6zM495 193l1-2-7-14-14 5 0 4 4 7 13 2zM185 166l7 5 15 0 3-2 2-10-3-8-14-1zM366 223l-4-7-14-3 0 12 9 5 5-1zM290 62l10 4 3-3 3-18-10 5-9 4zM364 188l8 7 7-2 3-10-4-7-1-1-11 3zM393 197l5-11-1-1-15-2-3 10 4 4zM179 272l6-6 1-14-14-4-3 1-5 14 1 6zM497 249l0 10 5 3 14-6 0-3-11-7zM472 163l-2-1-16 0-4 5 6 11 16-1zM485 162l1 2 4-10-1-3zM118 145l11-14-12-10 0 24zM198 274l13-4-2-15-19-5-4 2-1 14zM181 289l13-3 4-12-13-8-6 6zM431 219l0 1 9 4 11-11-1-1-11-6zM528 241l3 1 15-4 0-19-20 2zM194 212l-13 12 11 13 15-7zM314 210l15 9 3-1 1-1-3-18-2-1zM456 206l9-1-1-13-10-4-6 3 0 1zM502 262l-5-3-8 4 0 3 1 0 12-3zM489 166l-3 0 0-2-1-2-13 1 0 14 3 5 14-5 3-7zM438 202l-8-4-7 3 4 16 4 2 8-13zM323 63l1 11 10 8 3-3-1-5 6-11 0-1zM303 63l20-1 0-13-13-6-4 2zM516 256l-14 6 0 1 8-3 6-3zM505 246l11 7 10-11-20-9z"/><path fill="#b0e000" d="M355 161l-12 0-2 1-1 3 4 17 3 2 13-10zM380 152l-5 6 2 17 1 1 19-10-10-13zM347 185l-5 13 6 7 9-5 1-9zM248 232l-5-8-20-1-4 5 12 19 16-11zM313 245l-7 5 0 2 9 10 2-2 4-5 4-5zM279 212l6 2 8-3 4-10-13-5-7 4zM572 184l-8-2-13 9 0 3 12 9 9-2 2-4zM301 218l-2 10 1 3 13 1 2-1-3-19zM542 201l9-7 0-3-10-14-2-1-1 0-10 17 5 7zM362 216l4 7 4 0 9-12-12-7-1 1zM100 200l6-5-2-12-22-5-3 2 8 19zM259 203l-9-6-11 5 6 16 14-9zM119 198l14-14 0-4-1-1-21-5-7 9 2 12zM330 199l12-1 5-13 0-1-3-2-16 3-2 7 2 6zM133 184l-14 14 3 10 6-2 13-6 4-5zM453 260l-6-4-8 6 5 12 7 0 5-1zM531 242l-3-1-2 1-10 11 0 3 0 1 11-5 7-4zM380 152l7 1 11-9-4-15-2-2-18 9zM330 238l-9-7-6 0-2 1 0 13 12 5 2-3zM249 123l5-7-2 0-4-6-2-7-6-1-10 14zM524 215l9-15-5-7-10-2-8 11 0 2zM300 267l-4 13 1 0 13-13zM249 123l2 11 19-2 2-2-2-16-7-2-1 1-8 3zM470 263l0 3 2 3 17-3 0-3-9-7zM225 115l3 2 2-1 10-14-5-9-9 2-5 5-1 2zM506 233l20 9 2-1-2-20-2-2-17 7-3 4zM383 197l-4-4-7 2-5 9 12 7 2-1zM563 203l-6 14 5 4 2-2 4-12 4-6zM275 236l1 4 8 6 11-4 5-11-1-3-12-3zM297 201l-4 10 8 7 11-6 2-2-8-9-6-1zM546 238l-15 4 3 6 9-4 5-5zM413 196l-15-10-5 11 4 6 16-5zM475 245l6 3 8-5 1-4-8-10-8 7zM495 212l-5 10 12 9 2-1 3-4-5-14zM333 217l15-5 0-7-6-7-12 1zM400 214l-3 10 2 4 14-4 2-6-4-5zM518 191l10 2 10-17-17-2-3 0-1 0-4 5zM490 239l-1 4 8 6 8-3 1-13-2-3-2 1zM397 166l4 2 9-9-4-13-8-2-11 9zM246 103l-1-3-9-7-1 0 5 9zM378 176l4 7 15 2 6-12-2-5-4-2zM410 159l7 0 11-13-5-8-6-2-11 10zM281 287l0 8 3-1 11-11 2-3-1 0-8 0zM315 231l6 0 8-12-15-9-2 2zM464 257l6 6 10-7 1-8-6-3-11 3zM564 182l-4-8-4-4-15 7 10 14zM507 226l17-7 0-4-14-11-8 8zM526 221l20-2 0-1-4-17-9-1-9 15 0 4zM399 232l7 9 13-6-6-11-14 4zM384 212l3 9 10 3 3-10-4-6zM427 170l-10-11-7 0-9 9 2 5 16 8zM227 137l5 4 15-1 4-6-2-11-19-7-2 1zM510 202l8-11-5-12-3 0-14 12-1 2zM273 146l-3-14-19 2-4 6 1 1 14 12zM382 237l-3-8-9-6-4 0-4 6 8 15zM572 184l2 13 2-2 4-9-6-3zM345 242l-7-5-8 1-3 9 0-1 13-4 4 1zM538 176l1 0-1-9-3 3-14 4zM470 266l-13 7 11-3 4-1zM489 263l8-4 0-10-8-6-8 5-1 8zM542 201l4 17 11-1 6-14-12-9zM190 186l10 7 7-4 0-18-15 0zM362 216l4-11-9-5-9 5 0 7 0 1zM256 181l-5 4-1 12 9 6 10-6-3-15zM464 248l11-3-1-9-11-6-3 14zM412 94l10 12 7-8-7-4-8-3zM285 214l2 11 12 3 2-10-8-7zM498 169l12 10 3 0 4-5-15-6-3 0zM100 200l-13-1 12 8 3 1zM347 184l0 1 11 6 6-3 2-10-6-4zM572 184l2-1-6-5-8-4 4 8zM379 211l-9 12 9 6 8-8-3-9-3-2zM413 198l-16 5-1 5 4 6 11-1zM306 252l-10 10 4 5 10 0 5-5zM397 203l-4-6-10 0-2 13 3 2 12-4z"/><path fill="#e0f000" d="M419 181l-16-8-6 12 1 1 15 10zM434 148l10-5 0-15-8-8-13 18 5 8zM250 295l-5 5 14 12 8-4 1-1 2-6-9-8zM119 198l-13-3-6 5 2 8 4 2 10 0 6-2zM463 230l-2-3-15 5 4 13 10-1zM165 220l4-17-14-9 4 15 2 12zM94 161l-1-2-8 3-16 3 7 14 3 1 3-2zM357 91l5 3 17-1 1-7-5-3-12 3-5 1zM510 204l0-2-15-9-3 2-2 11 5 6 7 0zM431 220l-8 16 6 7 15-12-4-7zM194 212l13 18 4 1 8-3 4-5-3-14-2-1-21 1-3 2zM451 213l11 12 5-5 0-14-2-1-9 1-6 6zM285 214l-6-2-10 7-1 10 7 7 12-11zM152 148l-21-18-2 1-11 14 1 4 11 8 21-6zM444 128l0 15 9 4 14-8-6-13zM385 269l-8-3-1 1 10 13 0-1zM422 106l0 5 14 9 8-9-7-8-8-5zM450 245l-3 5 0 6 6 4 11-3 0-9-4-4zM406 146l11-10-6-10-17 3 4 15zM490 206l-10 2 0 13 2 3 8-2 5-10zM94 161l14 6 11-18-1-4-1 0 0 6-6 0 3-1-8 4-8 4-5 1zM557 217l-11 1 0 1 0 19 2 1 7-7 7-11zM454 188l2-10-6-11-11 0-1 1 2 17 8 6zM259 209l-14 9-2 6 5 8 20-3 1-10zM401 109l14 6 7-4 0-5-10-12-12 2zM76 179l-7-14-3 0-11 4-1 1 7 6 9 7zM359 139l-1 19 17 0 5-6-6-16-4-2zM430 198l1-10-12-7-6 15 0 2 10 3zM342 139l1 22 12 0 3-3 1-19-12-3zM539 176l2 1 15-7-1 0-12-8-5 5zM355 247l0 1 5 2 6 7 5-5-2-6zM383 98l-2 11 10 8 10-8-1-13-1-1zM474 236l8-7 0-5-2-3-13-1-5 5-1 2 2 3zM243 224l2-6-6-16-4-1-15 8 3 14zM479 135l-1-2-13-11-2 0-2 4 6 13 4 2 1 0zM226 319l10-4 6-14-13-8-9 3-5 18zM268 281l-7 12 9 8 10-5 1-1 0-8zM413 198l-2 15 4 5 12-1-4-16zM242 321l5-3 12-6-14-12-3 1-6 14zM377 266l8 3 7-5-1-12-1-1-15 5zM475 182l-3-5-16 1-2 10 10 4 11-6zM472 141l-1 0-1 21 2 1 13-1 4-11-1-2zM334 82l1 3 15 9 7-3 1-4-8 1-12-5-1-4zM471 141l-4-2-14 8 1 15 16 0zM366 178l11-3-2-17-17 0-3 3 5 13zM423 138l13-18-14-9-7 4-4 11 6 10zM197 209l21-1-3-16-8-3-7 4zM169 203l-4 17 7 5 9-1 13-12 0-1-17-13zM413 255l-3-1-8 14 2 3 11 3 4-8zM338 237l2-7-8-12-3 1-8 12 9 7zM199 367l-7 8 1 3 7 4 6-8 1-7zM489 177l7 14 14-12-12-10-6 1zM399 95l1 1 12-2 2-3-2-1-12 1-2 0zM338 237l7 5 6 0 6-12-9-5-8 5zM436 120l8 8 17-2 2-4-10-1-7-7-2-3zM76 179l-6 4 2 2 13 13 2 1-8-19zM367 115l14-6 2-11-4-5-17 1zM227 328l3-2 12-5-6-6-10 4zM472 141l16 8-2-3-7-11zM444 274l-4 4 10-4 1 0zM429 265l1 13 3 2 7-2 4-4-5-12-6 0zM426 249l7 13 6 0 8-6 0-6-18-7zM130 157l2 22 1 1 23-13-5-16zM479 193l-4 11 5 4 10-2 2-11zM440 224l4 7 2 1 15-5 1-2-11-12zM245 300l5-5-3-15-16-3-2 16 13 8zM392 127l2 2 17-3 4-11-14-6-10 8zM467 220l13 1 0-13-5-4-8 2zM454 162l-1-15-9-4-10 5 5 19 11 0zM269 197l-10 6 0 6 10 10 10-7-2-12zM355 247l-4-5-6 0-1 1 11 5zM366 257l10 9 0 1 1-1-2-10-4-4zM446 232l-2-1-15 12 18 7 3-5zM440 185l-2-17-11 2-8 11 12 7zM166 174l-11 18 0 1 0 1 14 9 8-5 2-6zM340 230l8-5 0-12 0-1-15 5-1 1zM300 231l-5 11 11 8 7-5 0-13zM130 157l-11-8-11 18 3 7 21 5zM231 180l-1 2 5 19 4 1 11-5 1-12zM362 229l-5 1-6 12 4 5 14-1 1-2zM358 191l-1 9 9 5 1-1 5-9-8-7zM413 224l6 11 4 1 8-16 0-1-4-2-12 1zM192 356l0-2-7-12-5 0 6 16zM482 224l0 5 8 10 12-8-12-9zM226 95l-4 0-1 5z"/><path fill="#ffd800" d="M316 171l8 3 16-9 1-3-19-11-9 8zM347 136l12 3 11-5-4-19-19 0zM256 181l-4-15-9-3-7 3-5 14 20 5zM220 209l15-8-5-19-15 10 3 16zM413 255l6 11 10-1 4-3-7-13zM262 153l-14-12-5 22 9 3 11-6zM306 201l8 9 14-12-2-6-12-1zM199 367l-7-11-6 2 1 3 5 14zM228 157l8 9 7-3 5-22-1-1-15 1zM207 189l8 3 15-10 1-2-21-11-3 2zM297 85l-18-4 0 2 3 0 4 7-4 8-1 1 13-2zM347 115l19 0 1 0-5-21-5-3-7 3-7 18zM212 290l8 6 9-3 2-16-2-4-17-2zM370 134l4 2 18-9-1-10-10-8-14 6-1 0zM299 182l1 18 6 1 8-10-7-12-7 1zM369 246l2 6 4 4 15-5-4-12-4-2-12 7zM439 167l-5-19-6-2-11 13 10 11 11-2zM415 274l4 6 11-2-1-13-10 1zM328 185l16-3-4-17-16 9zM399 232l0-4-2-4-10-3-8 8 3 8 4 2zM210 169l21 11 5-14-8-9-16 2zM390 251l1 1 15-4 0-7-7-9-13 7zM404 271l-2-3-10-4-7 5 1 10 14 2zM314 191l12 1 2-7-4-11-8-3-9 8zM391 252l1 12 10 4 8-14-4-6zM379 93l4 5 16-3-1-4-11-1-7-4zM270 301l-2 6 12-11zM285 187l-1 9 13 5 3-1-1-18zM270 165l-7-5-11 6 4 15 10 1 4-3zM104 183l7-9-3-7-14-6-12 17zM470 266l0-3-6-6-11 3 3 13 1 0z"/><path fill="#ffaa00" d="M423 236l-4-1-13 6 0 7 4 6 3 1 13-6 3-6zM285 258l-5 6 8 16 8 0 4-13-4-5zM334 82l-10-8-14 10 6 9 12 0 7-8zM311 109l-1 18 17-1 8-14-3-3zM299 104l12 4 5-15-6-9-9-3-4 4-3 12zM307 179l9-8-3-12-10-3-12 11 9 13zM301 81l-1-15-10-4-12 6-2 8 3 5 18 4zM303 156l-5-10-8-2-9 6 1 10 8 7 1 0zM176 295l4 6 19 6 3-14-8-7-13 3zM248 232l-1 4 10 19 1 0 18-15-1-4-7-7zM252 261l2 11 13 7 9-14-18-10-1 0zM279 179l-9 0-4 3 3 15 8 3 7-4 1-9zM290 116l2 8 18 4 0-1 1-18 0-1-12-4zM313 159l9-8 0-3-12-15-12 13 5 10zM212 271l17 2 7-13-6-11-21 6 2 15zM327 126l7 11 8 2 5-3 0-21-4-3-8 0zM282 160l-12 5 0 14 9 0 11-12zM284 246l-8-6-18 15 18 10 4-1 5-6zM199 307l2 4 11 4 3-1 5-18-8-6-10 3zM335 112l8 0 7-18-15-9-7 8 4 16zM276 76l2-8-5-4-4 5-3 8 1 1zM322 148l12-11-7-11-17 1 0 1 0 5zM270 114l6-3 3-10-7 5-9 6zM284 246l1 12 11 4 10-10 0-2-11-8zM291 167l-1 0-11 12 6 8 14-5 1-2zM276 111l-6 3 2 16 15 1 5-7-2-8zM290 62l-3-8-11 7-3 3 5 4zM310 133l0-5-18-4-5 7 3 13 8 2zM273 146l-11 7 1 7 7 5 12-5-1-10zM194 286l8 7 10-3 0-19-1-1-13 4zM279 81l-3-5-9 2 5 3 7 2zM280 264l-4 1-9 14 1 2 13 6 7-7zM267 279l-13-7-7 8 3 15 11-2 7-12zM328 93l-12 0-5 15 0 1 21 0z"/><path fill="#ff7000" d="M190 332l16 3 6-20-11-4-15 13zM290 144l-3-13-15-1-2 2 3 14 8 4zM169 249l3-1 0-23-7-5-4 1 0 3-2 14 2 9zM231 277l16 3 7-8-2-11-16-1-7 13zM165 269l4 17 1 9 6 0 5-6-2-17zM212 315l-6 20 4 7 1 0 4-9 12-5-1-9-11-5zM415 274l-11-3-4 10 3 7 1 1 13-5 2-4zM179 321l1-20-4-6-6 0 4 20 1 7zM397 291l4 4 4-2-1-4-1-1zM281 99l-2 2-3 10 14 5 9-12-5-7zM179 321l-4 1 5 20 5 0 5-10-4-8zM236 260l16 1 5-6-10-19-16 11-1 2zM341 162l2-1-1-22-8-2-12 11 0 3zM417 284l-13 5 1 4 13-7zM172 248l14 4 4-2 2-13-11-13-9 1zM230 249l1-2-12-19-8 3-2 24zM403 288l-3-7-14-2 0 1 2 3 9 8zM179 321l7 3 15-13-2-4-19-6zM169 249l-8-2 2 9 1 7z"/><path fill="#ff4000" d="M192 356l7 11 8 0 1-8 2-15 1-2-1 0-18 12zM430 278l-11 2-2 4 1 2 7-3 8-3zM185 342l7 12 18-12-4-7-16-3z"/></g><use href="#net"/><use href="#blines"/><use href="#ol" fill="none" stroke="#1f78ff" stroke-width="1.45"/><use href="#hole"/></g>
<g transform="translate(327,128.8)"><use href="#ol" fill="#888"/><g transform="scale(.25)"><path fill="#38a000" d="M33 134l10 10 13 7 35 0 9-2 14 1-3 1 6 0 0-47-5 3-10 5-17 3-19 1-17 0-11 8-5 7zM94 161l14 6 11-18-1-4-1 0 0 6-6 0 3-1-8 4-8 4-5 1zM79 151l-23 0 10 3 11-1z"/><path fill="#5cb800" d="M290 144l-3-13-15-1-2 2 3 14 8 4zM94 161l-1-2-8 3-16 3 7 14 3 1 3-2zM227 137l1-20-3-2-3 1 0 4-6 12-2 7zM100 200l6-5-2-12-22-5-3 2 8 19zM209 151l3-9-6-3-11-8-4 12 4 7zM185 166l7 5 15 0 3-2 2-10-3-8-14-1zM136 109l6-6-11-1-11 1zM230 249l1-2-12-19-8 3-2 24zM104 183l7-9-3-7-14-6-12 17zM191 143l4-12-2-2-4-3-14 2 1 14z"/><path fill="#80cc00" d="M207 230l-15 7-2 13 19 5 2-24zM169 249l3-1 0-23-7-5-4 1 0 3-2 14 2 9zM119 198l-13-3-6 5 2 8 4 2 10 0 6-2zM166 173l0 1 13 18 11-6 2-15-7-5-6-1zM129 131l2-1 6-8-1-13-16-6-1 1-2 3 0 14zM165 220l4-17-14-9 4 15 2 12zM256 181l-4-15-9-3-7 3-5 14 20 5zM154 147l-2 1-1 3 5 16 10 6 13-8-6-19zM158 106l-1 0-13-2-2-1-6 6 1 13 23 1 4-3zM220 209l15-8-5-19-15 10 3 16zM119 198l14-14 0-4-1-1-21-5-7 9 2 12zM152 148l-21-18-2 1-11 14 1 4 11 8 21-6zM167 120l8 8 14-2-9-6-5-7zM199 367l-7-11-6 2 1 3 5 14zM303 156l-5-10-8-2-9 6 1 10 8 7 1 0zM207 189l8 3 15-10 1-2-21-11-3 2zM133 180l0 4 12 11 2-2 4-10 2-2 2 11 11-18 0-1-10-6zM76 179l-7-14-3 0-11 4-1 1 7 6 9 7zM179 272l6-6 1-14-14-4-3 1-5 14 1 6zM214 139l-2 3-3 9 3 8 16-2 4-16-5-4zM118 145l11-14-12-10 0 24zM192 356l7 11 8 0 1-8 2-15 1-2-1 0-18 12zM164 120l3 0 8-7-5-5-12-2zM198 274l13-4-2-15-19-5-4 2-1 14zM179 165l6 1 10-16-4-7-15-1-3 4zM199 367l-7 8 1 3 7 4 6-8 1-7zM210 169l21 11 5-14-8-9-16 2zM273 146l-3-14-19 2-4 6 1 1 14 12zM76 179l-6 4 2 2 13 13 2 1-8-19zM291 167l-1 0-11 12 6 8 14-5 1-2zM194 212l-13 12 11 13 15-7zM130 157l2 22 1 1 23-13-5-16zM190 186l10 7 7-4 0-18-15 0zM172 248l14 4 4-2 2-13-11-13-9 1zM273 146l-11 7 1 7 7 5 12-5-1-10zM166 174l-11 18 0 1 0 1 14 9 8-5 2-6zM100 200l-13-1 12 8 3 1zM130 157l-11-8-11 18 3 7 21 5zM270 165l-7-5-11 6 4 15 10 1 4-3zM137 122l-6 8 21 18 2-1 6-24zM169 249l-8-2 2 9 1 7z"/><path fill="#b0e000" d="M190 332l16 3 6-20-11-4-15 13zM160 123l-6 24 19-1 3-4-1-14-8-8-3 0zM299 104l12 4 5-15-6-9-9-3-4 4-3 12zM212 315l-6 20 4 7 1 0 4-9 12-5-1-9-11-5zM228 157l8 9 7-3 5-22-1-1-15 1zM249 123l5-7-2 0-4-6-2-7-6-1-10 14zM225 115l3 2 2-1 10-14-5-9-9 2-5 5-1 2zM297 85l-18-4 0 2 3 0 4 7-4 8-1 1 13-2zM290 116l2 8 18 4 0-1 1-18 0-1-12-4zM212 271l17 2 7-13-6-11-21 6 2 15zM281 99l-2 2-3 10 14 5 9-12-5-7zM282 160l-12 5 0 14 9 0 11-12zM246 103l-1-3-9-7-1 0 5 9zM276 76l2-8-5-4-4 5-3 8 1 1zM322 148l12-11-7-11-17 1 0 1 0 5zM179 321l-4 1 5 20 5 0 5-10-4-8zM270 114l6-3 3-10-7 5-9 6zM227 137l5 4 15-1 4-6-2-11-19-7-2 1zM185 342l7 12 18-12-4-7-16-3zM276 111l-6 3 2 16 15 1 5-7-2-8zM290 62l-3-8-11 7-3 3 5 4zM279 81l-3-5-9 2 5 3 7 2zM192 356l0-2-7-12-5 0 6 16z"/><path fill="#e0f000" d="M357 91l5 3 17-1 1-7-5-3-12 3-5 1zM334 82l-10-8-14 10 6 9 12 0 7-8zM165 269l4 17 1 9 6 0 5-6-2-17zM311 109l-1 18 17-1 8-14-3-3zM133 184l-14 14 3 10 6-2 13-6 4-5zM262 153l-14-12-5 22 9 3 11-6zM301 81l-1-15-10-4-12 6-2 8 3 5 18 4zM176 295l4 6 19 6 3-14-8-7-13 3zM249 123l2 11 19-2 2-2-2-16-7-2-1 1-8 3zM342 139l1 22 12 0 3-3 1-19-12-3zM313 159l9-8 0-3-12-15-12 13 5 10zM563 203l-6 14 5 4 2-2 4-12 4-6zM327 126l7 11 8 2 5-3 0-21-4-3-8 0zM464 257l6 6 10-7 1-8-6-3-11 3zM225 115l-5-13-1 4 3 10zM236 260l16 1 5-6-10-19-16 11-1 2zM404 271l-2-3-10-4-7 5 1 10 14 2zM314 191l12 1 2-7-4-11-8-3-9 8zM426 249l7 13 6 0 8-6 0-6-18-7zM310 133l0-5-18-4-5 7 3 13 8 2zM226 95l-4 0-1 5z"/><path fill="#ffd800" d="M316 171l8 3 16-9 1-3-19-11-9 8zM250 295l-5 5 14 12 8-4 1-1 2-6-9-8zM463 230l-2-3-15 5 4 13 10-1zM423 236l-4-1-13 6 0 7 4 6 3 1 13-6 3-6zM285 258l-5 6 8 16 8 0 4-13-4-5zM347 136l12 3 11-5-4-19-19 0zM510 204l0-2-15-9-3 2-2 11 5 6 7 0zM194 212l13 18 4 1 8-3 4-5-3-14-2-1-21 1-3 2zM542 201l9-7 0-3-10-14-2-1-1 0-10 17 5 7zM330 199l12-1 5-13 0-1-3-2-16 3-2 7 2 6zM413 255l6 11 10-1 4-3-7-13zM179 192l-2 6 17 13 3-2 3-16-10-7zM453 260l-6-4-8 6 5 12 7 0 5-1zM531 242l-3-1-2 1-10 11 0 3 0 1 11-5 7-4zM307 179l9-8-3-12-10-3-12 11 9 13zM450 245l-3 5 0 6 6 4 11-3 0-9-4-4zM306 201l8 9 14-12-2-6-12-1zM490 206l-10 2 0 13 2 3 8-2 5-10zM557 217l-11 1 0 1 0 19 2 1 7-7 7-11zM300 267l-4 13 1 0 13-13zM470 263l0 3 2 3 17-3 0-3-9-7zM179 321l1-20-4-6-6 0 4 20 1 7zM474 236l8-7 0-5-2-3-13-1-5 5-1 2 2 3zM252 261l2 11 13 7 9-14-18-10-1 0zM506 233l20 9 2-1-2-20-2-2-17 7-3 4zM347 115l19 0 1 0-5-21-5-3-7 3-7 18zM268 281l-7 12 9 8 10-5 1-1 0-8zM497 249l0 10 5 3 14-6 0-3-11-7zM212 290l8 6 9-3 2-16-2-4-17-2zM242 321l5-3 12-6-14-12-3 1-6 14zM370 134l4 2 18-9-1-10-10-8-14 6-1 0zM275 236l1 4 8 6 11-4 5-11-1-3-12-3zM546 238l-15 4 3 6 9-4 5-5zM475 245l6 3 8-5 1-4-8-10-8 7zM334 82l1 3 15 9 7-3 1-4-8 1-12-5-1-4zM495 212l-5 10 12 9 2-1 3-4-5-14zM299 182l1 18 6 1 8-10-7-12-7 1zM303 63l-3 3 1 15 9 3 14-10-1-11 0-1zM490 239l-1 4 8 6 8-3 1-13-2-3-2 1zM284 246l-8-6-18 15 18 10 4-1 5-6zM415 274l4 6 11-2-1-13-10 1zM197 209l21-1-3-16-8-3-7 4zM181 289l13-3 4-12-13-8-6 6zM328 185l16-3-4-17-16 9zM199 307l2 4 11 4 3-1 5-18-8-6-10 3zM335 112l8 0 7-18-15-9-7 8 4 16zM507 226l17-7 0-4-14-11-8 8zM526 221l20-2 0-1-4-17-9-1-9 15 0 4zM528 241l3 1 15-4 0-19-20 2zM430 278l-11 2-2 4 1 2 7-3 8-3zM367 115l14-6 2-11-4-5-17 1zM444 274l-4 4 10-4 1 0zM470 266l-13 7 11-3 4-1zM429 265l1 13 3 2 7-2 4-4-5-12-6 0zM489 263l8-4 0-10-8-6-8 5-1 8zM542 201l4 17 11-1 6-14-12-9zM440 224l4 7 2 1 15-5 1-2-11-12zM417 284l-13 5 1 4 13-7zM464 248l11-3-1-9-11-6-3 14zM412 94l10 12 7-8-7-4-8-3zM270 301l-2 6 12-11zM403 288l-3-7-14-2 0 1 2 3 9 8zM194 286l8 7 10-3 0-19-1-1-13 4zM179 321l7 3 15-13-2-4-19-6zM285 187l-1 9 13 5 3-1-1-18zM516 256l-14 6 0 1 8-3 6-3zM505 246l11 7 10-11-20-9zM482 224l0 5 8 10 12-8-12-9zM280 264l-4 1-9 14 1 2 13 6 7-7zM470 266l0-3-6-6-11 3 3 13 1 0zM328 93l-12 0-5 15 0 1 21 0z"/><path fill="#ffaa00" d="M355 161l-12 0-2 1-1 3 4 17 3 2 13-10zM248 232l-5-8-20-1-4 5 12 19 16-11zM279 212l6 2 8-3 4-10-13-5-7 4zM450 212l6-6-8-14-10 10 1 4zM301 218l-2 10 1 3 13 1 2-1-3-19zM431 220l-8 16 6 7 15-12-4-7zM451 213l11 12 5-5 0-14-2-1-9 1-6 6zM285 214l-6-2-10 7-1 10 7 7 12-11zM259 203l-9-6-11 5 6 16 14-9zM495 193l1-2-7-14-14 5 0 4 4 7 13 2zM415 274l-11-3-4 10 3 7 1 1 13-5 2-4zM422 106l0 5 14 9 8-9-7-8-8-5zM448 192l0-1-8-6-9 3-1 10 8 4zM524 215l9-15-5-7-10-2-8 11 0 2zM359 139l-1 19 17 0 5-6-6-16-4-2zM243 224l2-6-6-16-4-1-15 8 3 14zM279 179l-9 0-4 3 3 15 8 3 7-4 1-9zM226 319l10-4 6-14-13-8-9 3-5 18zM364 188l8 7 7-2 3-10-4-7-1-1-11 3zM383 197l-4-4-7 2-5 9 12 7 2-1zM397 291l4 4 4-2-1-4-1-1zM472 163l-2-1-16 0-4 5 6 11 16-1zM297 201l-4 10 8 7 11-6 2-2-8-9-6-1zM475 204l4-11-4-7-11 6 1 13 2 1zM475 182l-3-5-16 1-2 10 10 4 11-6zM366 178l11-3-2-17-17 0-3 3 5 13zM518 191l10 2 10-17-17-2-3 0-1 0-4 5zM169 203l-4 17 7 5 9-1 13-12 0-1-17-13zM431 219l0 1 9 4 11-11-1-1-11-6zM489 177l7 14 14-12-12-10-6 1zM399 95l1 1 12-2 2-3-2-1-12 1-2 0zM510 202l8-11-5-12-3 0-14 12-1 2zM538 176l1 0-1-9-3 3-14 4zM227 328l3-2 12-5-6-6-10 4zM479 193l-4 11 5 4 10-2 2-11zM245 300l5-5-3-15-16-3-2 16 13 8zM502 262l-5-3-8 4 0 3 1 0 12-3zM256 181l-5 4-1 12 9 6 10-6-3-15zM467 220l13 1 0-13-5-4-8 2zM269 197l-10 6 0 6 10 10 10-7-2-12zM489 166l-3 0 0-2-1-2-13 1 0 14 3 5 14-5 3-7zM446 232l-2-1-15 12 18 7 3-5zM498 169l12 10 3 0 4-5-15-6-3 0zM440 185l-2-17-11 2-8 11 12 7zM379 93l4 5 16-3-1-4-11-1-7-4zM231 180l-1 2 5 19 4 1 11-5 1-12zM267 279l-13-7-7 8 3 15 11-2 7-12z"/><path fill="#ff7000" d="M380 152l-5 6 2 17 1 1 19-10-10-13zM323 49l0 13 0 1 19-1-1-13-8-8zM419 181l-16-8-6 12 1 1 15 10zM434 148l10-5 0-15-8-8-13 18 5 8zM347 185l-5 13 6 7 9-5 1-9zM231 277l16 3 7-8-2-11-16-1-7 13zM572 184l-8-2-13 9 0 3 12 9 9-2 2-4zM333 41l-2-1-16 0-5 3 13 6zM444 128l0 15 9 4 14-8-6-13zM406 146l11-10-6-10-17 3 4 15zM454 188l2-10-6-11-11 0-1 1 2 17 8 6zM259 209l-14 9-2 6 5 8 20-3 1-10zM430 198l1-10-12-7-6 15 0 2 10 3zM539 176l2 1 15-7-1 0-12-8-5 5zM290 62l10 4 3-3 3-18-10 5-9 4zM248 232l-1 4 10 19 1 0 18-15-1-4-7-7zM479 135l-1-2-13-11-2 0-2 4 6 13 4 2 1 0zM393 197l5-11-1-1-15-2-3 10 4 4zM413 198l-2 15 4 5 12-1-4-16zM485 162l1 2 4-10-1-3zM377 266l8 3 7-5-1-12-1-1-15 5zM413 196l-15-10-5 11 4 6 16-5zM471 141l-4-2-14 8 1 15 16 0zM400 214l-3 10 2 4 14-4 2-6-4-5zM369 246l2 6 4 4 15-5-4-12-4-2-12 7zM439 167l-5-19-6-2-11 13 10 11 11-2zM378 176l4 7 15 2 6-12-2-5-4-2zM413 255l-3-1-8 14 2 3 11 3 4-8zM338 237l2-7-8-12-3 1-8 12 9 7zM399 232l0-4-2-4-10-3-8 8 3 8 4 2zM315 231l6 0 8-12-15-9-2 2zM564 182l-4-8-4-4-15 7 10 14zM390 251l1 1 15-4 0-7-7-9-13 7zM436 120l8 8 17-2 2-4-10-1-7-7-2-3zM572 184l2 13 2-2 4-9-6-3zM472 141l16 8-2-3-7-11zM341 162l2-1-1-22-8-2-12 11 0 3zM391 252l1 12 10 4 8-14-4-6zM454 162l-1-15-9-4-10 5 5 19 11 0zM438 202l-8-4-7 3 4 16 4 2 8-13zM323 63l1 11 10 8 3-3-1-5 6-11 0-1zM366 257l10 9 0 1 1-1-2-10-4-4zM285 214l2 11 12 3 2-10-8-7zM303 63l20-1 0-13-13-6-4 2zM340 230l8-5 0-12 0-1-15 5-1 1zM347 184l0 1 11 6 6-3 2-10-6-4zM572 184l2-1-6-5-8-4 4 8zM413 224l6 11 4 1 8-16 0-1-4-2-12 1zM413 198l-16 5-1 5 4 6 11-1z"/><path fill="#ff4000" d="M362 216l4 7 4 0 9-12-12-7-1 1zM366 223l-4-7-14-3 0 12 9 5 5-1zM385 269l-8-3-1 1 10 13 0-1zM380 152l7 1 11-9-4-15-2-2-18 9zM330 238l-9-7-6 0-2 1 0 13 12 5 2-3zM401 109l14 6 7-4 0-5-10-12-12 2zM383 98l-2 11 10 8 10-8-1-13-1-1zM472 141l-1 0-1 21 2 1 13-1 4-11-1-2zM333 217l15-5 0-7-6-7-12 1zM397 166l4 2 9-9-4-13-8-2-11 9zM423 138l13-18-14-9-7 4-4 11 6 10zM410 159l7 0 11-13-5-8-6-2-11 10zM399 232l7 9 13-6-6-11-14 4zM384 212l3 9 10 3 3-10-4-6zM427 170l-10-11-7 0-9 9 2 5 16 8zM338 237l7 5 6 0 6-12-9-5-8 5zM382 237l-3-8-9-6-4 0-4 6 8 15zM345 242l-7-5-8 1-3 9 0-1 13-4 4 1zM314 210l15 9 3-1 1-1-3-18-2-1zM362 216l4-11-9-5-9 5 0 7 0 1zM456 206l9-1-1-13-10-4-6 3 0 1zM392 127l2 2 17-3 4-11-14-6-10 8zM355 247l-4-5-6 0-1 1 11 5zM362 229l-5 1-6 12 4 5 14-1 1-2zM358 191l-1 9 9 5 1-1 5-9-8-7zM379 211l-9 12 9 6 8-8-3-9-3-2zM397 203l-4-6-10 0-2 13 3 2 12-4z"/><path fill="#ff0000" d="M313 245l-7 5 0 2 9 10 2-2 4-5 4-5zM355 247l0 1 5 2 6 7 5-5-2-6zM281 287l0 8 3-1 11-11 2-3-1 0-8 0zM284 246l1 12 11 4 10-10 0-2-11-8zM300 231l-5 11 11 8 7-5 0-13zM306 252l-10 10 4 5 10 0 5-5z"/></g><use href="#net"/><use href="#blines"/><use href="#ol" fill="none" stroke="#1f78ff" stroke-width="1.45"/><use href="#hole"/></g>
<g transform="translate(19,234.5)"><use href="#ol" fill="#888"/><g transform="scale(.25)"><path fill="#5cb800" d="M169 249l3-1 0-23-7-5-4 1 0 3-2 14 2 9zM119 198l-13-3-6 5 2 8 4 2 10 0 6-2zM165 220l4-17-14-9 4 15 2 12zM212 315l-6 20 4 7 1 0 4-9 12-5-1-9-11-5zM179 192l-2 6 17 13 3-2 3-16-10-7zM169 203l-4 17 7 5 9-1 13-12 0-1-17-13zM172 248l14 4 4-2 2-13-11-13-9 1zM166 174l-11 18 0 1 0 1 14 9 8-5 2-6zM169 249l-8-2 2 9 1 7z"/><path fill="#80cc00" d="M33 134l10 10 13 7 35 0 9-2 14 1-3 1 6 0 0-47-5 3-10 5-17 3-19 1-17 0-11 8-5 7zM190 332l16 3 6-20-11-4-15 13zM207 230l-15 7-2 13 19 5 2-24zM94 161l-1-2-8 3-16 3 7 14 3 1 3-2zM100 200l6-5-2-12-22-5-3 2 8 19zM119 198l14-14 0-4-1-1-21-5-7 9 2 12zM133 184l-14 14 3 10 6-2 13-6 4-5zM94 161l14 6 11-18-1-4-1 0 0 6-6 0 3-1-8 4-8 4-5 1zM76 179l-7-14-3 0-11 4-1 1 7 6 9 7zM179 321l1-20-4-6-6 0 4 20 1 7zM212 271l17 2 7-13-6-11-21 6 2 15zM118 145l11-14-12-10 0 24zM198 274l13-4-2-15-19-5-4 2-1 14zM136 109l6-6-11-1-11 1zM181 289l13-3 4-12-13-8-6 6zM79 151l-23 0 10 3 11-1zM179 321l-4 1 5 20 5 0 5-10-4-8zM76 179l-6 4 2 2 13 13 2 1-8-19zM194 212l-13 12 11 13 15-7zM185 342l7 12 18-12-4-7-16-3zM230 249l1-2-12-19-8 3-2 24zM100 200l-13-1 12 8 3 1zM130 157l-11-8-11 18 3 7 21 5zM179 321l7 3 15-13-2-4-19-6zM192 356l0-2-7-12-5 0 6 16zM104 183l7-9-3-7-14-6-12 17z"/><path fill="#b0e000" d="M129 131l2-1 6-8-1-13-16-6-1 1-2 3 0 14zM154 147l-2 1-1 3 5 16 10 6 13-8-6-19zM165 269l4 17 1 9 6 0 5-6-2-17zM158 106l-1 0-13-2-2-1-6 6 1 13 23 1 4-3zM160 123l-6 24 19-1 3-4-1-14-8-8-3 0zM194 212l13 18 4 1 8-3 4-5-3-14-2-1-21 1-3 2zM152 148l-21-18-2 1-11 14 1 4 11 8 21-6zM167 120l8 8 14-2-9-6-5-7zM366 223l-4-7-14-3 0 12 9 5 5-1zM415 274l-11-3-4 10 3 7 1 1 13-5 2-4zM448 192l0-1-8-6-9 3-1 10 8 4zM176 295l4 6 19 6 3-14-8-7-13 3zM133 180l0 4 12 11 2-2 4-10 2-2 2 11 11-18 0-1-10-6zM225 115l3 2 2-1 10-14-5-9-9 2-5 5-1 2zM297 85l-18-4 0 2 3 0 4 7-4 8-1 1 13-2zM226 319l10-4 6-14-13-8-9 3-5 18zM179 272l6-6 1-14-14-4-3 1-5 14 1 6zM212 290l8 6 9-3 2-16-2-4-17-2zM164 120l3 0 8-7-5-5-12-2zM431 219l0 1 9 4 11-11-1-1-11-6zM199 307l2 4 11 4 3-1 5-18-8-6-10 3zM276 76l2-8-5-4-4 5-3 8 1 1zM430 278l-11 2-2 4 1 2 7-3 8-3zM382 237l-3-8-9-6-4 0-4 6 8 15zM130 157l2 22 1 1 23-13-5-16zM190 186l10 7 7-4 0-18-15 0zM446 232l-2-1-15 12 18 7 3-5zM505 246l11 7 10-11-20-9zM137 122l-6 8 21 18 2-1 6-24z"/><path fill="#e0f000" d="M316 171l8 3 16-9 1-3-19-11-9 8zM355 161l-12 0-2 1-1 3 4 17 3 2 13-10zM419 181l-16-8-6 12 1 1 15 10zM290 144l-3-13-15-1-2 2 3 14 8 4zM166 173l0 1 13 18 11-6 2-15-7-5-6-1zM313 245l-7 5 0 2 9 10 2-2 4-5 4-5zM572 184l-8-2-13 9 0 3 12 9 9-2 2-4zM450 212l6-6-8-14-10 10 1 4zM333 41l-2-1-16 0-5 3 13 6zM431 220l-8 16 6 7 15-12-4-7zM451 213l11 12 5-5 0-14-2-1-9 1-6 6zM542 201l9-7 0-3-10-14-2-1-1 0-10 17 5 7zM362 216l4 7 4 0 9-12-12-7-1 1zM285 214l-6-2-10 7-1 10 7 7 12-11zM330 199l12-1 5-13 0-1-3-2-16 3-2 7 2 6zM311 109l-1 18 17-1 8-14-3-3zM209 151l3-9-6-3-11-8-4 12 4 7zM495 193l1-2-7-14-14 5 0 4 4 7 13 2zM413 255l6 11 10-1 4-3-7-13zM185 166l7 5 15 0 3-2 2-10-3-8-14-1zM453 260l-6-4-8 6 5 12 7 0 5-1zM531 242l-3-1-2 1-10 11 0 3 0 1 11-5 7-4zM385 269l-8-3-1 1 10 13 0-1zM307 179l9-8-3-12-10-3-12 11 9 13zM306 201l8 9 14-12-2-6-12-1zM301 81l-1-15-10-4-12 6-2 8 3 5 18 4zM199 367l-7-11-6 2 1 3 5 14zM557 217l-11 1 0 1 0 19 2 1 7-7 7-11zM303 156l-5-10-8-2-9 6 1 10 8 7 1 0zM454 188l2-10-6-11-11 0-1 1 2 17 8 6zM249 123l5-7-2 0-4-6-2-7-6-1-10 14zM524 215l9-15-5-7-10-2-8 11 0 2zM249 123l2 11 19-2 2-2-2-16-7-2-1 1-8 3zM401 109l14 6 7-4 0-5-10-12-12 2zM539 176l2 1 15-7-1 0-12-8-5 5zM355 247l0 1 5 2 6 7 5-5-2-6zM474 236l8-7 0-5-2-3-13-1-5 5-1 2 2 3zM243 224l2-6-6-16-4-1-15 8 3 14zM279 179l-9 0-4 3 3 15 8 3 7-4 1-9zM290 116l2 8 18 4 0-1 1-18 0-1-12-4zM313 159l9-8 0-3-12-15-12 13 5 10zM383 197l-4-4-7 2-5 9 12 7 2-1zM393 197l5-11-1-1-15-2-3 10 4 4zM563 203l-6 14 5 4 2-2 4-12 4-6zM497 249l0 10 5 3 14-6 0-3-11-7zM214 139l-2 3-3 9 3 8 16-2 4-16-5-4zM397 291l4 4 4-2-1-4-1-1zM472 163l-2-1-16 0-4 5 6 11 16-1zM485 162l1 2 4-10-1-3zM297 201l-4 10 8 7 11-6 2-2-8-9-6-1zM377 266l8 3 7-5-1-12-1-1-15 5zM546 238l-15 4 3 6 9-4 5-5zM413 196l-15-10-5 11 4 6 16-5zM475 245l6 3 8-5 1-4-8-10-8 7zM192 356l7 11 8 0 1-8 2-15 1-2-1 0-18 12zM299 182l1 18 6 1 8-10-7-12-7 1zM400 214l-3 10 2 4 14-4 2-6-4-5zM490 239l-1 4 8 6 8-3 1-13-2-3-2 1zM282 160l-12 5 0 14 9 0 11-12zM415 274l4 6 11-2-1-13-10 1zM197 209l21-1-3-16-8-3-7 4zM246 103l-1-3-9-7-1 0 5 9zM328 185l16-3-4-17-16 9zM179 165l6 1 10-16-4-7-15-1-3 4zM413 255l-3-1-8 14 2 3 11 3 4-8zM199 367l-7 8 1 3 7 4 6-8 1-7zM281 287l0 8 3-1 11-11 2-3-1 0-8 0zM315 231l6 0 8-12-15-9-2 2zM489 177l7 14 14-12-12-10-6 1zM564 182l-4-8-4-4-15 7 10 14zM399 95l1 1 12-2 2-3-2-1-12 1-2 0zM225 115l-5-13-1 4 3 10zM507 226l17-7 0-4-14-11-8 8zM399 232l7 9 13-6-6-11-14 4zM322 148l12-11-7-11-17 1 0 1 0 5zM390 251l1 1 15-4 0-7-7-9-13 7zM384 212l3 9 10 3 3-10-4-6zM528 241l3 1 15-4 0-19-20 2zM270 114l6-3 3-10-7 5-9 6zM227 137l5 4 15-1 4-6-2-11-19-7-2 1zM510 202l8-11-5-12-3 0-14 12-1 2zM338 237l7 5 6 0 6-12-9-5-8 5zM572 184l2 13 2-2 4-9-6-3zM345 242l-7-5-8 1-3 9 0-1 13-4 4 1zM314 191l12 1 2-7-4-11-8-3-9 8zM472 141l16 8-2-3-7-11zM470 266l-13 7 11-3 4-1zM429 265l1 13 3 2 7-2 4-4-5-12-6 0zM426 249l7 13 6 0 8-6 0-6-18-7zM542 201l4 17 11-1 6-14-12-9zM362 216l4-11-9-5-9 5 0 7 0 1zM440 224l4 7 2 1 15-5 1-2-11-12zM417 284l-13 5 1 4 13-7zM276 111l-6 3 2 16 15 1 5-7-2-8zM467 220l13 1 0-13-5-4-8 2zM355 247l-4-5-6 0-1 1 11 5zM489 166l-3 0 0-2-1-2-13 1 0 14 3 5 14-5 3-7zM438 202l-8-4-7 3 4 16 4 2 8-13zM290 62l-3-8-11 7-3 3 5 4zM366 257l10 9 0 1 1-1-2-10-4-4zM310 133l0-5-18-4-5 7 3 13 8 2zM273 146l-11 7 1 7 7 5 12-5-1-10zM412 94l10 12 7-8-7-4-8-3zM403 288l-3-7-14-2 0 1 2 3 9 8zM572 184l2-1-6-5-8-4 4 8zM194 286l8 7 10-3 0-19-1-1-13 4zM279 81l-3-5-9 2 5 3 7 2zM516 256l-14 6 0 1 8-3 6-3zM379 211l-9 12 9 6 8-8-3-9-3-2zM413 198l-16 5-1 5 4 6 11-1zM482 224l0 5 8 10 12-8-12-9zM226 95l-4 0-1 5zM191 143l4-12-2-2-4-3-14 2 1 14zM397 203l-4-6-10 0-2 13 3 2 12-4zM328 93l-12 0-5 15 0 1 21 0z"/><path fill="#ffd800" d="M380 152l-5 6 2 17 1 1 19-10-10-13zM323 49l0 13 0 1 19-1-1-13-8-8zM434 148l10-5 0-15-8-8-13 18 5 8zM250 295l-5 5 14 12 8-4 1-1 2-6-9-8zM463 230l-2-3-15 5 4 13 10-1zM347 185l-5 13 6 7 9-5 1-9zM285 258l-5 6 8 16 8 0 4-13-4-5zM347 136l12 3 11-5-4-19-19 0zM256 181l-4-15-9-3-7 3-5 14 20 5zM357 91l5 3 17-1 1-7-5-3-12 3-5 1zM279 212l6 2 8-3 4-10-13-5-7 4zM227 137l1-20-3-2-3 1 0 4-6 12-2 7zM334 82l-10-8-14 10 6 9 12 0 7-8zM510 204l0-2-15-9-3 2-2 11 5 6 7 0zM220 209l15-8-5-19-15 10 3 16zM301 218l-2 10 1 3 13 1 2-1-3-19zM259 203l-9-6-11 5 6 16 14-9zM444 128l0 15 9 4 14-8-6-13zM299 104l12 4 5-15-6-9-9-3-4 4-3 12zM262 153l-14-12-5 22 9 3 11-6zM422 106l0 5 14 9 8-9-7-8-8-5zM450 245l-3 5 0 6 6 4 11-3 0-9-4-4zM406 146l11-10-6-10-17 3 4 15zM490 206l-10 2 0 13 2 3 8-2 5-10zM259 209l-14 9-2 6 5 8 20-3 1-10zM228 157l8 9 7-3 5-22-1-1-15 1zM330 238l-9-7-6 0-2 1 0 13 12 5 2-3zM300 267l-4 13 1 0 13-13zM207 189l8 3 15-10 1-2-21-11-3 2zM359 139l-1 19 17 0 5-6-6-16-4-2zM430 198l1-10-12-7-6 15 0 2 10 3zM342 139l1 22 12 0 3-3 1-19-12-3zM470 263l0 3 2 3 17-3 0-3-9-7zM290 62l10 4 3-3 3-18-10 5-9 4zM248 232l-1 4 10 19 1 0 18-15-1-4-7-7zM252 261l2 11 13 7 9-14-18-10-1 0zM506 233l20 9 2-1-2-20-2-2-17 7-3 4zM479 135l-1-2-13-11-2 0-2 4 6 13 4 2 1 0zM364 188l8 7 7-2 3-10-4-7-1-1-11 3zM347 115l19 0 1 0-5-21-5-3-7 3-7 18zM268 281l-7 12 9 8 10-5 1-1 0-8zM413 198l-2 15 4 5 12-1-4-16zM370 134l4 2 18-9-1-10-10-8-14 6-1 0zM275 236l1 4 8 6 11-4 5-11-1-3-12-3zM281 99l-2 2-3 10 14 5 9-12-5-7zM475 204l4-11-4-7-11 6 1 13 2 1zM475 182l-3-5-16 1-2 10 10 4 11-6zM472 141l-1 0-1 21 2 1 13-1 4-11-1-2zM334 82l1 3 15 9 7-3 1-4-8 1-12-5-1-4zM471 141l-4-2-14 8 1 15 16 0zM333 217l15-5 0-7-6-7-12 1zM366 178l11-3-2-17-17 0-3 3 5 13zM303 63l-3 3 1 15 9 3 14-10-1-11 0-1zM518 191l10 2 10-17-17-2-3 0-1 0-4 5zM369 246l2 6 4 4 15-5-4-12-4-2-12 7zM439 167l-5-19-6-2-11 13 10 11 11-2zM284 246l-8-6-18 15 18 10 4-1 5-6zM397 166l4 2 9-9-4-13-8-2-11 9zM423 138l13-18-14-9-7 4-4 11 6 10zM335 112l8 0 7-18-15-9-7 8 4 16zM338 237l2-7-8-12-3 1-8 12 9 7zM410 159l7 0 11-13-5-8-6-2-11 10zM464 257l6 6 10-7 1-8-6-3-11 3zM526 221l20-2 0-1-4-17-9-1-9 15 0 4zM427 170l-10-11-7 0-9 9 2 5 16 8zM273 146l-3-14-19 2-4 6 1 1 14 12zM404 271l-2-3-10-4-7 5 1 10 14 2zM284 246l1 12 11 4 10-10 0-2-11-8zM367 115l14-6 2-11-4-5-17 1zM538 176l1 0-1-9-3 3-14 4zM291 167l-1 0-11 12 6 8 14-5 1-2zM444 274l-4 4 10-4 1 0zM341 162l2-1-1-22-8-2-12 11 0 3zM489 263l8-4 0-10-8-6-8 5-1 8zM479 193l-4 11 5 4 10-2 2-11zM314 210l15 9 3-1 1-1-3-18-2-1zM391 252l1 12 10 4 8-14-4-6zM456 206l9-1-1-13-10-4-6 3 0 1zM392 127l2 2 17-3 4-11-14-6-10 8zM256 181l-5 4-1 12 9 6 10-6-3-15zM454 162l-1-15-9-4-10 5 5 19 11 0zM464 248l11-3-1-9-11-6-3 14zM269 197l-10 6 0 6 10 10 10-7-2-12zM323 63l1 11 10 8 3-3-1-5 6-11 0-1zM285 214l2 11 12 3 2-10-8-7zM303 63l20-1 0-13-13-6-4 2zM440 185l-2-17-11 2-8 11 12 7zM379 93l4 5 16-3-1-4-11-1-7-4zM270 301l-2 6 12-11zM340 230l8-5 0-12 0-1-15 5-1 1zM300 231l-5 11 11 8 7-5 0-13zM347 184l0 1 11 6 6-3 2-10-6-4zM362 229l-5 1-6 12 4 5 14-1 1-2zM358 191l-1 9 9 5 1-1 5-9-8-7zM413 224l6 11 4 1 8-16 0-1-4-2-12 1zM285 187l-1 9 13 5 3-1-1-18zM270 165l-7-5-11 6 4 15 10 1 4-3zM280 264l-4 1-9 14 1 2 13 6 7-7zM470 266l0-3-6-6-11 3 3 13 1 0zM306 252l-10 10 4 5 10 0 5-5z"/><path fill="#ffaa00" d="M423 236l-4-1-13 6 0 7 4 6 3 1 13-6 3-6zM231 277l16 3 7-8-2-11-16-1-7 13zM380 152l7 1 11-9-4-15-2-2-18 9zM383 98l-2 11 10 8 10-8-1-13-1-1zM327 126l7 11 8 2 5-3 0-21-4-3-8 0zM495 212l-5 10 12 9 2-1 3-4-5-14zM378 176l4 7 15 2 6-12-2-5-4-2zM399 232l0-4-2-4-10-3-8 8 3 8 4 2zM210 169l21 11 5-14-8-9-16 2zM236 260l16 1 5-6-10-19-16 11-1 2zM436 120l8 8 17-2 2-4-10-1-7-7-2-3zM502 262l-5-3-8 4 0 3 1 0 12-3zM498 169l12 10 3 0 4-5-15-6-3 0zM231 180l-1 2 5 19 4 1 11-5 1-12zM267 279l-13-7-7 8 3 15 11-2 7-12z"/><path fill="#ff7000" d="M248 232l-5-8-20-1-4 5 12 19 16-11zM227 328l3-2 12-5-6-6-10 4zM245 300l5-5-3-15-16-3-2 16 13 8z"/><path fill="#ff4000" d="M242 321l5-3 12-6-14-12-3 1-6 14z"/></g><use href="#net"/><use href="#blines"/><use href="#ol" fill="none" stroke="#1f78ff" stroke-width="1.45"/><use href="#hole"/></g>
<g transform="translate(173,234.5)"><use href="#ol" fill="#888"/><g transform="scale(.25)"><path fill="#80cc00" d="M225 115l3 2 2-1 10-14-5-9-9 2-5 5-1 2z"/><path fill="#b0e000" d="M323 49l0 13 0 1 19-1-1-13-8-8zM290 144l-3-13-15-1-2 2 3 14 8 4zM285 258l-5 6 8 16 8 0 4-13-4-5zM231 277l16 3 7-8-2-11-16-1-7 13zM333 41l-2-1-16 0-5 3 13 6zM490 206l-10 2 0 13 2 3 8-2 5-10zM303 156l-5-10-8-2-9 6 1 10 8 7 1 0zM249 123l2 11 19-2 2-2-2-16-7-2-1 1-8 3zM290 116l2 8 18 4 0-1 1-18 0-1-12-4zM475 182l-3-5-16 1-2 10 10 4 11-6zM282 160l-12 5 0 14 9 0 11-12zM246 103l-1-3-9-7-1 0 5 9zM281 287l0 8 3-1 11-11 2-3-1 0-8 0zM367 115l14-6 2-11-4-5-17 1zM291 167l-1 0-11 12 6 8 14-5 1-2zM276 111l-6 3 2 16 15 1 5-7-2-8zM454 162l-1-15-9-4-10 5 5 19 11 0zM310 133l0-5-18-4-5 7 3 13 8 2zM273 146l-11 7 1 7 7 5 12-5-1-10zM358 191l-1 9 9 5 1-1 5-9-8-7zM285 187l-1 9 13 5 3-1-1-18z"/><path fill="#e0f000" d="M316 171l8 3 16-9 1-3-19-11-9 8zM355 161l-12 0-2 1-1 3 4 17 3 2 13-10zM434 148l10-5 0-15-8-8-13 18 5 8zM250 295l-5 5 14 12 8-4 1-1 2-6-9-8zM119 198l-13-3-6 5 2 8 4 2 10 0 6-2zM129 131l2-1 6-8-1-13-16-6-1 1-2 3 0 14zM347 136l12 3 11-5-4-19-19 0zM256 181l-4-15-9-3-7 3-5 14 20 5zM357 91l5 3 17-1 1-7-5-3-12 3-5 1zM279 212l6 2 8-3 4-10-13-5-7 4zM334 82l-10-8-14 10 6 9 12 0 7-8zM285 214l-6-2-10 7-1 10 7 7 12-11zM259 203l-9-6-11 5 6 16 14-9zM311 109l-1 18 17-1 8-14-3-3zM262 153l-14-12-5 22 9 3 11-6zM307 179l9-8-3-12-10-3-12 11 9 13zM450 245l-3 5 0 6 6 4 11-3 0-9-4-4zM406 146l11-10-6-10-17 3 4 15zM301 81l-1-15-10-4-12 6-2 8 3 5 18 4zM228 157l8 9 7-3 5-22-1-1-15 1zM380 152l7 1 11-9-4-15-2-2-18 9zM249 123l5-7-2 0-4-6-2-7-6-1-10 14zM401 109l14 6 7-4 0-5-10-12-12 2zM359 139l-1 19 17 0 5-6-6-16-4-2zM430 198l1-10-12-7-6 15 0 2 10 3zM342 139l1 22 12 0 3-3 1-19-12-3zM470 263l0 3 2 3 17-3 0-3-9-7zM539 176l2 1 15-7-1 0-12-8-5 5zM355 247l0 1 5 2 6 7 5-5-2-6zM474 236l8-7 0-5-2-3-13-1-5 5-1 2 2 3zM297 85l-18-4 0 2 3 0 4 7-4 8-1 1 13-2zM290 62l10 4 3-3 3-18-10 5-9 4zM279 179l-9 0-4 3 3 15 8 3 7-4 1-9zM313 159l9-8 0-3-12-15-12 13 5 10zM479 135l-1-2-13-11-2 0-2 4 6 13 4 2 1 0zM226 319l10-4 6-14-13-8-9 3-5 18zM347 115l19 0 1 0-5-21-5-3-7 3-7 18zM268 281l-7 12 9 8 10-5 1-1 0-8zM370 134l4 2 18-9-1-10-10-8-14 6-1 0zM485 162l1 2 4-10-1-3zM327 126l7 11 8 2 5-3 0-21-4-3-8 0zM281 99l-2 2-3 10 14 5 9-12-5-7zM472 141l-1 0-1 21 2 1 13-1 4-11-1-2zM334 82l1 3 15 9 7-3 1-4-8 1-12-5-1-4zM333 217l15-5 0-7-6-7-12 1zM366 178l11-3-2-17-17 0-3 3 5 13zM303 63l-3 3 1 15 9 3 14-10-1-11 0-1zM490 239l-1 4 8 6 8-3 1-13-2-3-2 1zM439 167l-5-19-6-2-11 13 10 11 11-2zM397 166l4 2 9-9-4-13-8-2-11 9zM328 185l16-3-4-17-16 9zM335 112l8 0 7-18-15-9-7 8 4 16zM276 76l2-8-5-4-4 5-3 8 1 1zM410 159l7 0 11-13-5-8-6-2-11 10zM464 257l6 6 10-7 1-8-6-3-11 3zM210 169l21 11 5-14-8-9-16 2zM399 95l1 1 12-2 2-3-2-1-12 1-2 0zM322 148l12-11-7-11-17 1 0 1 0 5zM270 114l6-3 3-10-7 5-9 6zM227 137l5 4 15-1 4-6-2-11-19-7-2 1zM510 202l8-11-5-12-3 0-14 12-1 2zM436 120l8 8 17-2 2-4-10-1-7-7-2-3zM273 146l-3-14-19 2-4 6 1 1 14 12zM345 242l-7-5-8 1-3 9 0-1 13-4 4 1zM314 191l12 1 2-7-4-11-8-3-9 8zM227 328l3-2 12-5-6-6-10 4zM472 141l16 8-2-3-7-11zM479 193l-4 11 5 4 10-2 2-11zM391 252l1 12 10 4 8-14-4-6zM392 127l2 2 17-3 4-11-14-6-10 8zM256 181l-5 4-1 12 9 6 10-6-3-15zM467 220l13 1 0-13-5-4-8 2zM269 197l-10 6 0 6 10 10 10-7-2-12zM355 247l-4-5-6 0-1 1 11 5zM323 63l1 11 10 8 3-3-1-5 6-11 0-1zM290 62l-3-8-11 7-3 3 5 4zM366 257l10 9 0 1 1-1-2-10-4-4zM412 94l10 12 7-8-7-4-8-3zM285 214l2 11 12 3 2-10-8-7zM498 169l12 10 3 0 4-5-15-6-3 0zM303 63l20-1 0-13-13-6-4 2zM270 301l-2 6 12-11zM340 230l8-5 0-12 0-1-15 5-1 1zM403 288l-3-7-14-2 0 1 2 3 9 8zM231 180l-1 2 5 19 4 1 11-5 1-12zM347 184l0 1 11 6 6-3 2-10-6-4zM362 229l-5 1-6 12 4 5 14-1 1-2zM279 81l-3-5-9 2 5 3 7 2zM226 95l-4 0-1 5z"/><path fill="#ffd800" d="M380 152l-5 6 2 17 1 1 19-10-10-13zM419 181l-16-8-6 12 1 1 15 10zM347 185l-5 13 6 7 9-5 1-9zM248 232l-5-8-20-1-4 5 12 19 16-11zM227 137l1-20-3-2-3 1 0 4-6 12-2 7zM165 269l4 17 1 9 6 0 5-6-2-17zM572 184l-8-2-13 9 0 3 12 9 9-2 2-4zM158 106l-1 0-13-2-2-1-6 6 1 13 23 1 4-3zM510 204l0-2-15-9-3 2-2 11 5 6 7 0zM220 209l15-8-5-19-15 10 3 16zM301 218l-2 10 1 3 13 1 2-1-3-19zM542 201l9-7 0-3-10-14-2-1-1 0-10 17 5 7zM362 216l4 7 4 0 9-12-12-7-1 1zM119 198l14-14 0-4-1-1-21-5-7 9 2 12zM330 199l12-1 5-13 0-1-3-2-16 3-2 7 2 6zM209 151l3-9-6-3-11-8-4 12 4 7zM444 128l0 15 9 4 14-8-6-13zM299 104l12 4 5-15-6-9-9-3-4 4-3 12zM133 184l-14 14 3 10 6-2 13-6 4-5zM495 193l1-2-7-14-14 5 0 4 4 7 13 2zM167 120l8 8 14-2-9-6-5-7zM366 223l-4-7-14-3 0 12 9 5 5-1zM415 274l-11-3-4 10 3 7 1 1 13-5 2-4zM385 269l-8-3-1 1 10 13 0-1zM422 106l0 5 14 9 8-9-7-8-8-5zM306 201l8 9 14-12-2-6-12-1zM199 367l-7-11-6 2 1 3 5 14zM557 217l-11 1 0 1 0 19 2 1 7-7 7-11zM448 192l0-1-8-6-9 3-1 10 8 4zM454 188l2-10-6-11-11 0-1 1 2 17 8 6zM259 209l-14 9-2 6 5 8 20-3 1-10zM300 267l-4 13 1 0 13-13zM383 98l-2 11 10 8 10-8-1-13-1-1zM243 224l2-6-6-16-4-1-15 8 3 14zM248 232l-1 4 10 19 1 0 18-15-1-4-7-7zM252 261l2 11 13 7 9-14-18-10-1 0zM364 188l8 7 7-2 3-10-4-7-1-1-11 3zM383 197l-4-4-7 2-5 9 12 7 2-1zM393 197l5-11-1-1-15-2-3 10 4 4zM179 272l6-6 1-14-14-4-3 1-5 14 1 6zM497 249l0 10 5 3 14-6 0-3-11-7zM413 198l-2 15 4 5 12-1-4-16zM397 291l4 4 4-2-1-4-1-1zM242 321l5-3 12-6-14-12-3 1-6 14zM472 163l-2-1-16 0-4 5 6 11 16-1zM275 236l1 4 8 6 11-4 5-11-1-3-12-3zM297 201l-4 10 8 7 11-6 2-2-8-9-6-1zM413 196l-15-10-5 11 4 6 16-5zM475 245l6 3 8-5 1-4-8-10-8 7zM475 204l4-11-4-7-11 6 1 13 2 1zM118 145l11-14-12-10 0 24zM164 120l3 0 8-7-5-5-12-2zM471 141l-4-2-14 8 1 15 16 0zM400 214l-3 10 2 4 14-4 2-6-4-5zM518 191l10 2 10-17-17-2-3 0-1 0-4 5zM136 109l6-6-11-1-11 1zM369 246l2 6 4 4 15-5-4-12-4-2-12 7zM284 246l-8-6-18 15 18 10 4-1 5-6zM423 138l13-18-14-9-7 4-4 11 6 10zM415 274l4 6 11-2-1-13-10 1zM197 209l21-1-3-16-8-3-7 4zM378 176l4 7 15 2 6-12-2-5-4-2zM338 237l2-7-8-12-3 1-8 12 9 7zM399 232l0-4-2-4-10-3-8 8 3 8 4 2zM315 231l6 0 8-12-15-9-2 2zM225 115l-5-13-1 4 3 10zM507 226l17-7 0-4-14-11-8 8zM390 251l1 1 15-4 0-7-7-9-13 7zM384 212l3 9 10 3 3-10-4-6zM427 170l-10-11-7 0-9 9 2 5 16 8zM338 237l7 5 6 0 6-12-9-5-8 5zM404 271l-2-3-10-4-7 5 1 10 14 2zM284 246l1 12 11 4 10-10 0-2-11-8zM572 184l2 13 2-2 4-9-6-3zM341 162l2-1-1-22-8-2-12 11 0 3zM314 210l15 9 3-1 1-1-3-18-2-1zM362 216l4-11-9-5-9 5 0 7 0 1zM245 300l5-5-3-15-16-3-2 16 13 8zM417 284l-13 5 1 4 13-7zM464 248l11-3-1-9-11-6-3 14zM489 166l-3 0 0-2-1-2-13 1 0 14 3 5 14-5 3-7zM440 185l-2-17-11 2-8 11 12 7zM379 93l4 5 16-3-1-4-11-1-7-4zM100 200l-13-1 12 8 3 1zM300 231l-5 11 11 8 7-5 0-13zM572 184l2-1-6-5-8-4 4 8zM270 165l-7-5-11 6 4 15 10 1 4-3zM379 211l-9 12 9 6 8-8-3-9-3-2zM413 198l-16 5-1 5 4 6 11-1zM482 224l0 5 8 10 12-8-12-9zM280 264l-4 1-9 14 1 2 13 6 7-7zM267 279l-13-7-7 8 3 15 11-2 7-12zM470 266l0-3-6-6-11 3 3 13 1 0zM306 252l-10 10 4 5 10 0 5-5zM328 93l-12 0-5 15 0 1 21 0z"/><path fill="#ffaa00" d="M33 134l10 10 13 7 35 0 9-2 14 1-3 1 6 0 0-47-5 3-10 5-17 3-19 1-17 0-11 8-5 7zM207 230l-15 7-2 13 19 5 2-24zM169 249l3-1 0-23-7-5-4 1 0 3-2 14 2 9zM166 173l0 1 13 18 11-6 2-15-7-5-6-1zM313 245l-7 5 0 2 9 10 2-2 4-5 4-5zM154 147l-2 1-1 3 5 16 10 6 13-8-6-19zM450 212l6-6-8-14-10 10 1 4zM160 123l-6 24 19-1 3-4-1-14-8-8-3 0zM431 220l-8 16 6 7 15-12-4-7zM194 212l13 18 4 1 8-3 4-5-3-14-2-1-21 1-3 2zM451 213l11 12 5-5 0-14-2-1-9 1-6 6zM152 148l-21-18-2 1-11 14 1 4 11 8 21-6zM179 192l-2 6 17 13 3-2 3-16-10-7zM185 166l7 5 15 0 3-2 2-10-3-8-14-1zM531 242l-3-1-2 1-10 11 0 3 0 1 11-5 7-4zM94 161l14 6 11-18-1-4-1 0 0 6-6 0 3-1-8 4-8 4-5 1zM330 238l-9-7-6 0-2 1 0 13 12 5 2-3zM524 215l9-15-5-7-10-2-8 11 0 2zM207 189l8 3 15-10 1-2-21-11-3 2zM133 180l0 4 12 11 2-2 4-10 2-2 2 11 11-18 0-1-10-6zM179 321l1-20-4-6-6 0 4 20 1 7zM506 233l20 9 2-1-2-20-2-2-17 7-3 4zM563 203l-6 14 5 4 2-2 4-12 4-6zM212 290l8 6 9-3 2-16-2-4-17-2zM214 139l-2 3-3 9 3 8 16-2 4-16-5-4zM212 271l17 2 7-13-6-11-21 6 2 15zM377 266l8 3 7-5-1-12-1-1-15 5zM546 238l-15 4 3 6 9-4 5-5zM192 356l7 11 8 0 1-8 2-15 1-2-1 0-18 12zM495 212l-5 10 12 9 2-1 3-4-5-14zM299 182l1 18 6 1 8-10-7-12-7 1zM181 289l13-3 4-12-13-8-6 6zM79 151l-23 0 10 3 11-1zM431 219l0 1 9 4 11-11-1-1-11-6zM199 307l2 4 11 4 3-1 5-18-8-6-10 3zM179 165l6 1 10-16-4-7-15-1-3 4zM413 255l-3-1-8 14 2 3 11 3 4-8zM199 367l-7 8 1 3 7 4 6-8 1-7zM489 177l7 14 14-12-12-10-6 1zM564 182l-4-8-4-4-15 7 10 14zM526 221l20-2 0-1-4-17-9-1-9 15 0 4zM399 232l7 9 13-6-6-11-14 4zM528 241l3 1 15-4 0-19-20 2zM430 278l-11 2-2 4 1 2 7-3 8-3zM76 179l-6 4 2 2 13 13 2 1-8-19zM382 237l-3-8-9-6-4 0-4 6 8 15zM538 176l1 0-1-9-3 3-14 4zM444 274l-4 4 10-4 1 0zM194 212l-13 12 11 13 15-7zM470 266l-13 7 11-3 4-1zM429 265l1 13 3 2 7-2 4-4-5-12-6 0zM489 263l8-4 0-10-8-6-8 5-1 8zM130 157l2 22 1 1 23-13-5-16zM542 201l4 17 11-1 6-14-12-9zM190 186l10 7 7-4 0-18-15 0zM440 224l4 7 2 1 15-5 1-2-11-12zM456 206l9-1-1-13-10-4-6 3 0 1zM502 262l-5-3-8 4 0 3 1 0 12-3zM230 249l1-2-12-19-8 3-2 24zM438 202l-8-4-7 3 4 16 4 2 8-13zM194 286l8 7 10-3 0-19-1-1-13 4zM179 321l7 3 15-13-2-4-19-6zM413 224l6 11 4 1 8-16 0-1-4-2-12 1zM516 256l-14 6 0 1 8-3 6-3zM505 246l11 7 10-11-20-9zM137 122l-6 8 21 18 2-1 6-24zM191 143l4-12-2-2-4-3-14 2 1 14zM397 203l-4-6-10 0-2 13 3 2 12-4zM169 249l-8-2 2 9 1 7z"/><path fill="#ff7000" d="M190 332l16 3 6-20-11-4-15 13zM463 230l-2-3-15 5 4 13 10-1zM423 236l-4-1-13 6 0 7 4 6 3 1 13-6 3-6zM165 220l4-17-14-9 4 15 2 12zM94 161l-1-2-8 3-16 3 7 14 3 1 3-2zM100 200l6-5-2-12-22-5-3 2 8 19zM212 315l-6 20 4 7 1 0 4-9 12-5-1-9-11-5zM413 255l6 11 10-1 4-3-7-13zM453 260l-6-4-8 6 5 12 7 0 5-1zM176 295l4 6 19 6 3-14-8-7-13 3zM76 179l-7-14-3 0-11 4-1 1 7 6 9 7zM169 203l-4 17 7 5 9-1 13-12 0-1-17-13zM179 321l-4 1 5 20 5 0 5-10-4-8zM236 260l16 1 5-6-10-19-16 11-1 2zM426 249l7 13 6 0 8-6 0-6-18-7zM185 342l7 12 18-12-4-7-16-3zM172 248l14 4 4-2 2-13-11-13-9 1zM446 232l-2-1-15 12 18 7 3-5zM166 174l-11 18 0 1 0 1 14 9 8-5 2-6zM130 157l-11-8-11 18 3 7 21 5zM192 356l0-2-7-12-5 0 6 16zM104 183l7-9-3-7-14-6-12 17z"/><path fill="#ff4000" d="M198 274l13-4-2-15-19-5-4 2-1 14z"/></g><use href="#net"/><use href="#blines"/><use href="#ol" fill="none" stroke="#1f78ff" stroke-width="1.45"/><use href="#hole"/></g>
<g transform="translate(327,234.8)"><use href="#ol" fill="#888"/><g transform="scale(.25)"><path fill="#80cc00" d="M431 220l-8 16 6 7 15-12-4-7zM243 224l2-6-6-16-4-1-15 8 3 14zM275 236l1 4 8 6 11-4 5-11-1-3-12-3z"/><path fill="#b0e000" d="M250 295l-5 5 14 12 8-4 1-1 2-6-9-8zM285 258l-5 6 8 16 8 0 4-13-4-5zM231 277l16 3 7-8-2-11-16-1-7 13zM220 209l15-8-5-19-15 10 3 16zM285 214l-6-2-10 7-1 10 7 7 12-11zM259 203l-9-6-11 5 6 16 14-9zM453 260l-6-4-8 6 5 12 7 0 5-1zM450 245l-3 5 0 6 6 4 11-3 0-9-4-4zM259 209l-14 9-2 6 5 8 20-3 1-10zM252 261l2 11 13 7 9-14-18-10-1 0zM226 319l10-4 6-14-13-8-9 3-5 18zM212 290l8 6 9-3 2-16-2-4-17-2zM242 321l5-3 12-6-14-12-3 1-6 14zM212 271l17 2 7-13-6-11-21 6 2 15zM299 182l1 18 6 1 8-10-7-12-7 1zM284 246l-8-6-18 15 18 10 4-1 5-6zM464 257l6 6 10-7 1-8-6-3-11 3zM284 246l1 12 11 4 10-10 0-2-11-8zM227 328l3-2 12-5-6-6-10 4zM444 274l-4 4 10-4 1 0zM429 265l1 13 3 2 7-2 4-4-5-12-6 0zM426 249l7 13 6 0 8-6 0-6-18-7zM245 300l5-5-3-15-16-3-2 16 13 8zM417 284l-13 5 1 4 13-7zM256 181l-5 4-1 12 9 6 10-6-3-15zM446 232l-2-1-15 12 18 7 3-5zM516 256l-14 6 0 1 8-3 6-3zM470 266l0-3-6-6-11 3 3 13 1 0z"/><path fill="#e0f000" d="M207 230l-15 7-2 13 19 5 2-24zM463 230l-2-3-15 5 4 13 10-1zM347 185l-5 13 6 7 9-5 1-9zM166 173l0 1 13 18 11-6 2-15-7-5-6-1zM256 181l-4-15-9-3-7 3-5 14 20 5zM279 212l6 2 8-3 4-10-13-5-7 4zM572 184l-8-2-13 9 0 3 12 9 9-2 2-4zM542 201l9-7 0-3-10-14-2-1-1 0-10 17 5 7zM495 193l1-2-7-14-14 5 0 4 4 7 13 2zM185 166l7 5 15 0 3-2 2-10-3-8-14-1zM366 223l-4-7-14-3 0 12 9 5 5-1zM490 206l-10 2 0 13 2 3 8-2 5-10zM557 217l-11 1 0 1 0 19 2 1 7-7 7-11zM430 198l1-10-12-7-6 15 0 2 10 3zM470 263l0 3 2 3 17-3 0-3-9-7zM248 232l-1 4 10 19 1 0 18-15-1-4-7-7zM279 179l-9 0-4 3 3 15 8 3 7-4 1-9zM364 188l8 7 7-2 3-10-4-7-1-1-11 3zM268 281l-7 12 9 8 10-5 1-1 0-8zM563 203l-6 14 5 4 2-2 4-12 4-6zM546 238l-15 4 3 6 9-4 5-5zM413 196l-15-10-5 11 4 6 16-5zM475 245l6 3 8-5 1-4-8-10-8 7zM475 204l4-11-4-7-11 6 1 13 2 1zM518 191l10 2 10-17-17-2-3 0-1 0-4 5zM369 246l2 6 4 4 15-5-4-12-4-2-12 7zM490 239l-1 4 8 6 8-3 1-13-2-3-2 1zM378 176l4 7 15 2 6-12-2-5-4-2zM179 165l6 1 10-16-4-7-15-1-3 4zM281 287l0 8 3-1 11-11 2-3-1 0-8 0zM526 221l20-2 0-1-4-17-9-1-9 15 0 4zM427 170l-10-11-7 0-9 9 2 5 16 8zM528 241l3 1 15-4 0-19-20 2zM236 260l16 1 5-6-10-19-16 11-1 2zM404 271l-2-3-10-4-7 5 1 10 14 2zM572 184l2 13 2-2 4-9-6-3zM472 141l16 8-2-3-7-11zM489 263l8-4 0-10-8-6-8 5-1 8zM130 157l2 22 1 1 23-13-5-16zM479 193l-4 11 5 4 10-2 2-11zM542 201l4 17 11-1 6-14-12-9zM185 342l7 12 18-12-4-7-16-3zM190 186l10 7 7-4 0-18-15 0zM456 206l9-1-1-13-10-4-6 3 0 1zM502 262l-5-3-8 4 0 3 1 0 12-3zM467 220l13 1 0-13-5-4-8 2zM464 248l11-3-1-9-11-6-3 14zM269 197l-10 6 0 6 10 10 10-7-2-12zM572 184l2-1-6-5-8-4 4 8zM379 211l-9 12 9 6 8-8-3-9-3-2zM482 224l0 5 8 10 12-8-12-9zM280 264l-4 1-9 14 1 2 13 6 7-7zM306 252l-10 10 4 5 10 0 5-5z"/><path fill="#ffd800" d="M33 134l10 10 13 7 35 0 9-2 14 1-3 1 6 0 0-47-5 3-10 5-17 3-19 1-17 0-11 8-5 7zM355 161l-12 0-2 1-1 3 4 17 3 2 13-10zM380 152l-5 6 2 17 1 1 19-10-10-13zM323 49l0 13 0 1 19-1-1-13-8-8zM419 181l-16-8-6 12 1 1 15 10zM434 148l10-5 0-15-8-8-13 18 5 8zM423 236l-4-1-13 6 0 7 4 6 3 1 13-6 3-6zM347 136l12 3 11-5-4-19-19 0zM248 232l-5-8-20-1-4 5 12 19 16-11zM313 245l-7 5 0 2 9 10 2-2 4-5 4-5zM357 91l5 3 17-1 1-7-5-3-12 3-5 1zM227 137l1-20-3-2-3 1 0 4-6 12-2 7zM334 82l-10-8-14 10 6 9 12 0 7-8zM450 212l6-6-8-14-10 10 1 4zM301 218l-2 10 1 3 13 1 2-1-3-19zM333 41l-2-1-16 0-5 3 13 6zM451 213l11 12 5-5 0-14-2-1-9 1-6 6zM362 216l4 7 4 0 9-12-12-7-1 1zM330 199l12-1 5-13 0-1-3-2-16 3-2 7 2 6zM209 151l3-9-6-3-11-8-4 12 4 7zM444 128l0 15 9 4 14-8-6-13zM531 242l-3-1-2 1-10 11 0 3 0 1 11-5 7-4zM415 274l-11-3-4 10 3 7 1 1 13-5 2-4zM385 269l-8-3-1 1 10 13 0-1zM422 106l0 5 14 9 8-9-7-8-8-5zM406 146l11-10-6-10-17 3 4 15zM306 201l8 9 14-12-2-6-12-1zM199 367l-7-11-6 2 1 3 5 14zM448 192l0-1-8-6-9 3-1 10 8 4zM454 188l2-10-6-11-11 0-1 1 2 17 8 6zM380 152l7 1 11-9-4-15-2-2-18 9zM330 238l-9-7-6 0-2 1 0 13 12 5 2-3zM524 215l9-15-5-7-10-2-8 11 0 2zM300 267l-4 13 1 0 13-13zM207 189l8 3 15-10 1-2-21-11-3 2zM401 109l14 6 7-4 0-5-10-12-12 2zM359 139l-1 19 17 0 5-6-6-16-4-2zM539 176l2 1 15-7-1 0-12-8-5 5zM355 247l0 1 5 2 6 7 5-5-2-6zM383 98l-2 11 10 8 10-8-1-13-1-1zM474 236l8-7 0-5-2-3-13-1-5 5-1 2 2 3zM290 62l10 4 3-3 3-18-10 5-9 4zM506 233l20 9 2-1-2-20-2-2-17 7-3 4zM479 135l-1-2-13-11-2 0-2 4 6 13 4 2 1 0zM383 197l-4-4-7 2-5 9 12 7 2-1zM393 197l5-11-1-1-15-2-3 10 4 4zM497 249l0 10 5 3 14-6 0-3-11-7zM413 198l-2 15 4 5 12-1-4-16zM214 139l-2 3-3 9 3 8 16-2 4-16-5-4zM397 291l4 4 4-2-1-4-1-1zM370 134l4 2 18-9-1-10-10-8-14 6-1 0zM472 163l-2-1-16 0-4 5 6 11 16-1zM485 162l1 2 4-10-1-3zM297 201l-4 10 8 7 11-6 2-2-8-9-6-1zM377 266l8 3 7-5-1-12-1-1-15 5zM475 182l-3-5-16 1-2 10 10 4 11-6zM192 356l7 11 8 0 1-8 2-15 1-2-1 0-18 12zM472 141l-1 0-1 21 2 1 13-1 4-11-1-2zM495 212l-5 10 12 9 2-1 3-4-5-14zM471 141l-4-2-14 8 1 15 16 0zM198 274l13-4-2-15-19-5-4 2-1 14zM333 217l15-5 0-7-6-7-12 1zM366 178l11-3-2-17-17 0-3 3 5 13zM400 214l-3 10 2 4 14-4 2-6-4-5zM136 109l6-6-11-1-11 1zM397 166l4 2 9-9-4-13-8-2-11 9zM423 138l13-18-14-9-7 4-4 11 6 10zM415 274l4 6 11-2-1-13-10 1zM197 209l21-1-3-16-8-3-7 4zM181 289l13-3 4-12-13-8-6 6zM79 151l-23 0 10 3 11-1zM431 219l0 1 9 4 11-11-1-1-11-6zM199 307l2 4 11 4 3-1 5-18-8-6-10 3zM338 237l2-7-8-12-3 1-8 12 9 7zM410 159l7 0 11-13-5-8-6-2-11 10zM399 232l0-4-2-4-10-3-8 8 3 8 4 2zM489 177l7 14 14-12-12-10-6 1zM210 169l21 11 5-14-8-9-16 2zM564 182l-4-8-4-4-15 7 10 14zM399 95l1 1 12-2 2-3-2-1-12 1-2 0zM507 226l17-7 0-4-14-11-8 8zM399 232l7 9 13-6-6-11-14 4zM384 212l3 9 10 3 3-10-4-6zM430 278l-11 2-2 4 1 2 7-3 8-3zM510 202l8-11-5-12-3 0-14 12-1 2zM436 120l8 8 17-2 2-4-10-1-7-7-2-3zM382 237l-3-8-9-6-4 0-4 6 8 15zM345 242l-7-5-8 1-3 9 0-1 13-4 4 1zM314 191l12 1 2-7-4-11-8-3-9 8zM367 115l14-6 2-11-4-5-17 1zM538 176l1 0-1-9-3 3-14 4zM341 162l2-1-1-22-8-2-12 11 0 3zM470 266l-13 7 11-3 4-1zM314 210l15 9 3-1 1-1-3-18-2-1zM362 216l4-11-9-5-9 5 0 7 0 1zM440 224l4 7 2 1 15-5 1-2-11-12zM392 127l2 2 17-3 4-11-14-6-10 8zM230 249l1-2-12-19-8 3-2 24zM355 247l-4-5-6 0-1 1 11 5zM489 166l-3 0 0-2-1-2-13 1 0 14 3 5 14-5 3-7zM438 202l-8-4-7 3 4 16 4 2 8-13zM290 62l-3-8-11 7-3 3 5 4zM366 257l10 9 0 1 1-1-2-10-4-4zM412 94l10 12 7-8-7-4-8-3zM285 214l2 11 12 3 2-10-8-7zM440 185l-2-17-11 2-8 11 12 7zM379 93l4 5 16-3-1-4-11-1-7-4zM270 301l-2 6 12-11zM340 230l8-5 0-12 0-1-15 5-1 1zM300 231l-5 11 11 8 7-5 0-13zM403 288l-3-7-14-2 0 1 2 3 9 8zM231 180l-1 2 5 19 4 1 11-5 1-12zM362 229l-5 1-6 12 4 5 14-1 1-2zM194 286l8 7 10-3 0-19-1-1-13 4zM358 191l-1 9 9 5 1-1 5-9-8-7zM413 224l6 11 4 1 8-16 0-1-4-2-12 1zM270 165l-7-5-11 6 4 15 10 1 4-3zM413 198l-16 5-1 5 4 6 11-1zM267 279l-13-7-7 8 3 15 11-2 7-12zM191 143l4-12-2-2-4-3-14 2 1 14zM397 203l-4-6-10 0-2 13 3 2 12-4z"/><path fill="#ffaa00" d="M316 171l8 3 16-9 1-3-19-11-9 8zM190 332l16 3 6-20-11-4-15 13zM169 249l3-1 0-23-7-5-4 1 0 3-2 14 2 9zM129 131l2-1 6-8-1-13-16-6-1 1-2 3 0 14zM165 220l4-17-14-9 4 15 2 12zM94 161l-1-2-8 3-16 3 7 14 3 1 3-2zM154 147l-2 1-1 3 5 16 10 6 13-8-6-19zM165 269l4 17 1 9 6 0 5-6-2-17zM158 106l-1 0-13-2-2-1-6 6 1 13 23 1 4-3zM510 204l0-2-15-9-3 2-2 11 5 6 7 0zM160 123l-6 24 19-1 3-4-1-14-8-8-3 0zM194 212l13 18 4 1 8-3 4-5-3-14-2-1-21 1-3 2zM100 200l6-5-2-12-22-5-3 2 8 19zM119 198l14-14 0-4-1-1-21-5-7 9 2 12zM152 148l-21-18-2 1-11 14 1 4 11 8 21-6zM311 109l-1 18 17-1 8-14-3-3zM212 315l-6 20 4 7 1 0 4-9 12-5-1-9-11-5zM413 255l6 11 10-1 4-3-7-13zM262 153l-14-12-5 22 9 3 11-6zM167 120l8 8 14-2-9-6-5-7zM179 192l-2 6 17 13 3-2 3-16-10-7zM307 179l9-8-3-12-10-3-12 11 9 13zM301 81l-1-15-10-4-12 6-2 8 3 5 18 4zM94 161l14 6 11-18-1-4-1 0 0 6-6 0 3-1-8 4-8 4-5 1zM176 295l4 6 19 6 3-14-8-7-13 3zM228 157l8 9 7-3 5-22-1-1-15 1zM133 180l0 4 12 11 2-2 4-10 2-2 2 11 11-18 0-1-10-6zM342 139l1 22 12 0 3-3 1-19-12-3zM179 321l1-20-4-6-6 0 4 20 1 7zM297 85l-18-4 0 2 3 0 4 7-4 8-1 1 13-2zM290 116l2 8 18 4 0-1 1-18 0-1-12-4zM313 159l9-8 0-3-12-15-12 13 5 10zM347 115l19 0 1 0-5-21-5-3-7 3-7 18zM179 272l6-6 1-14-14-4-3 1-5 14 1 6zM327 126l7 11 8 2 5-3 0-21-4-3-8 0zM281 99l-2 2-3 10 14 5 9-12-5-7zM118 145l11-14-12-10 0 24zM334 82l1 3 15 9 7-3 1-4-8 1-12-5-1-4zM303 63l-3 3 1 15 9 3 14-10-1-11 0-1zM439 167l-5-19-6-2-11 13 10 11 11-2zM282 160l-12 5 0 14 9 0 11-12zM169 203l-4 17 7 5 9-1 13-12 0-1-17-13zM328 185l16-3-4-17-16 9zM335 112l8 0 7-18-15-9-7 8 4 16zM276 76l2-8-5-4-4 5-3 8 1 1zM413 255l-3-1-8 14 2 3 11 3 4-8zM199 367l-7 8 1 3 7 4 6-8 1-7zM315 231l6 0 8-12-15-9-2 2zM225 115l-5-13-1 4 3 10zM322 148l12-11-7-11-17 1 0 1 0 5zM179 321l-4 1 5 20 5 0 5-10-4-8zM227 137l5 4 15-1 4-6-2-11-19-7-2 1zM338 237l7 5 6 0 6-12-9-5-8 5zM76 179l-6 4 2 2 13 13 2 1-8-19zM291 167l-1 0-11 12 6 8 14-5 1-2zM194 212l-13 12 11 13 15-7zM391 252l1 12 10 4 8-14-4-6zM172 248l14 4 4-2 2-13-11-13-9 1zM454 162l-1-15-9-4-10 5 5 19 11 0zM323 63l1 11 10 8 3-3-1-5 6-11 0-1zM310 133l0-5-18-4-5 7 3 13 8 2zM273 146l-11 7 1 7 7 5 12-5-1-10zM498 169l12 10 3 0 4-5-15-6-3 0zM166 174l-11 18 0 1 0 1 14 9 8-5 2-6zM100 200l-13-1 12 8 3 1zM347 184l0 1 11 6 6-3 2-10-6-4zM179 321l7 3 15-13-2-4-19-6zM285 187l-1 9 13 5 3-1-1-18zM505 246l11 7 10-11-20-9zM192 356l0-2-7-12-5 0 6 16zM137 122l-6 8 21 18 2-1 6-24zM104 183l7-9-3-7-14-6-12 17zM328 93l-12 0-5 15 0 1 21 0zM169 249l-8-2 2 9 1 7z"/><path fill="#ff7000" d="M290 144l-3-13-15-1-2 2 3 14 8 4zM119 198l-13-3-6 5 2 8 4 2 10 0 6-2zM299 104l12 4 5-15-6-9-9-3-4 4-3 12zM303 156l-5-10-8-2-9 6 1 10 8 7 1 0zM249 123l5-7-2 0-4-6-2-7-6-1-10 14zM249 123l2 11 19-2 2-2-2-16-7-2-1 1-8 3zM76 179l-7-14-3 0-11 4-1 1 7 6 9 7zM225 115l3 2 2-1 10-14-5-9-9 2-5 5-1 2zM164 120l3 0 8-7-5-5-12-2zM246 103l-1-3-9-7-1 0 5 9zM390 251l1 1 15-4 0-7-7-9-13 7zM270 114l6-3 3-10-7 5-9 6zM273 146l-3-14-19 2-4 6 1 1 14 12zM276 111l-6 3 2 16 15 1 5-7-2-8zM303 63l20-1 0-13-13-6-4 2zM130 157l-11-8-11 18 3 7 21 5zM279 81l-3-5-9 2 5 3 7 2zM226 95l-4 0-1 5z"/><path fill="#ff4000" d="M133 184l-14 14 3 10 6-2 13-6 4-5z"/></g><use href="#net"/><use href="#blines"/><use href="#ol" fill="none" stroke="#1f78ff" stroke-width="1.45"/><use href="#hole"/></g>
<g transform="translate(19,340.5)"><use href="#ol" fill="#888"/><g transform="scale(.25)"><path fill="#5cb800" d="M495 212l-5 10 12 9 2-1 3-4-5-14zM526 221l20-2 0-1-4-17-9-1-9 15 0 4zM430 278l-11 2-2 4 1 2 7-3 8-3zM444 274l-4 4 10-4 1 0zM489 263l8-4 0-10-8-6-8 5-1 8zM502 262l-5-3-8 4 0 3 1 0 12-3z"/><path fill="#80cc00" d="M463 230l-2-3-15 5 4 13 10-1zM413 255l6 11 10-1 4-3-7-13zM453 260l-6-4-8 6 5 12 7 0 5-1zM531 242l-3-1-2 1-10 11 0 3 0 1 11-5 7-4zM450 245l-3 5 0 6 6 4 11-3 0-9-4-4zM524 215l9-15-5-7-10-2-8 11 0 2zM470 263l0 3 2 3 17-3 0-3-9-7zM383 98l-2 11 10 8 10-8-1-13-1-1zM506 233l20 9 2-1-2-20-2-2-17 7-3 4zM497 249l0 10 5 3 14-6 0-3-11-7zM475 245l6 3 8-5 1-4-8-10-8 7zM490 239l-1 4 8 6 8-3 1-13-2-3-2 1zM464 257l6 6 10-7 1-8-6-3-11 3zM564 182l-4-8-4-4-15 7 10 14zM507 226l17-7 0-4-14-11-8 8zM538 176l1 0-1-9-3 3-14 4zM470 266l-13 7 11-3 4-1zM429 265l1 13 3 2 7-2 4-4-5-12-6 0zM426 249l7 13 6 0 8-6 0-6-18-7zM479 193l-4 11 5 4 10-2 2-11zM446 232l-2-1-15 12 18 7 3-5zM505 246l11 7 10-11-20-9zM482 224l0 5 8 10 12-8-12-9zM470 266l0-3-6-6-11 3 3 13 1 0z"/><path fill="#b0e000" d="M423 236l-4-1-13 6 0 7 4 6 3 1 13-6 3-6zM572 184l-8-2-13 9 0 3 12 9 9-2 2-4zM510 204l0-2-15-9-3 2-2 11 5 6 7 0zM451 213l11 12 5-5 0-14-2-1-9 1-6 6zM542 201l9-7 0-3-10-14-2-1-1 0-10 17 5 7zM444 128l0 15 9 4 14-8-6-13zM415 274l-11-3-4 10 3 7 1 1 13-5 2-4zM385 269l-8-3-1 1 10 13 0-1zM422 106l0 5 14 9 8-9-7-8-8-5zM490 206l-10 2 0 13 2 3 8-2 5-10zM557 217l-11 1 0 1 0 19 2 1 7-7 7-11zM380 152l7 1 11-9-4-15-2-2-18 9zM401 109l14 6 7-4 0-5-10-12-12 2zM539 176l2 1 15-7-1 0-12-8-5 5zM563 203l-6 14 5 4 2-2 4-12 4-6zM397 291l4 4 4-2-1-4-1-1zM370 134l4 2 18-9-1-10-10-8-14 6-1 0zM546 238l-15 4 3 6 9-4 5-5zM475 204l4-11-4-7-11 6 1 13 2 1zM475 182l-3-5-16 1-2 10 10 4 11-6zM518 191l10 2 10-17-17-2-3 0-1 0-4 5zM415 274l4 6 11-2-1-13-10 1zM413 255l-3-1-8 14 2 3 11 3 4-8zM489 177l7 14 14-12-12-10-6 1zM528 241l3 1 15-4 0-19-20 2zM510 202l8-11-5-12-3 0-14 12-1 2zM404 271l-2-3-10-4-7 5 1 10 14 2zM572 184l2 13 2-2 4-9-6-3zM542 201l4 17 11-1 6-14-12-9zM417 284l-13 5 1 4 13-7zM391 252l1 12 10 4 8-14-4-6zM467 220l13 1 0-13-5-4-8 2zM464 248l11-3-1-9-11-6-3 14zM489 166l-3 0 0-2-1-2-13 1 0 14 3 5 14-5 3-7zM438 202l-8-4-7 3 4 16 4 2 8-13zM498 169l12 10 3 0 4-5-15-6-3 0zM379 93l4 5 16-3-1-4-11-1-7-4zM403 288l-3-7-14-2 0 1 2 3 9 8zM572 184l2-1-6-5-8-4 4 8zM516 256l-14 6 0 1 8-3 6-3z"/><path fill="#e0f000" d="M419 181l-16-8-6 12 1 1 15 10zM450 212l6-6-8-14-10 10 1 4zM431 220l-8 16 6 7 15-12-4-7zM495 193l1-2-7-14-14 5 0 4 4 7 13 2zM406 146l11-10-6-10-17 3 4 15zM448 192l0-1-8-6-9 3-1 10 8 4zM355 247l0 1 5 2 6 7 5-5-2-6zM474 236l8-7 0-5-2-3-13-1-5 5-1 2 2 3zM479 135l-1-2-13-11-2 0-2 4 6 13 4 2 1 0zM472 163l-2-1-16 0-4 5 6 11 16-1zM485 162l1 2 4-10-1-3zM377 266l8 3 7-5-1-12-1-1-15 5zM472 141l-1 0-1 21 2 1 13-1 4-11-1-2zM471 141l-4-2-14 8 1 15 16 0zM369 246l2 6 4 4 15-5-4-12-4-2-12 7zM397 166l4 2 9-9-4-13-8-2-11 9zM197 209l21-1-3-16-8-3-7 4zM431 219l0 1 9 4 11-11-1-1-11-6zM399 95l1 1 12-2 2-3-2-1-12 1-2 0zM384 212l3 9 10 3 3-10-4-6zM472 141l16 8-2-3-7-11zM440 224l4 7 2 1 15-5 1-2-11-12zM456 206l9-1-1-13-10-4-6 3 0 1zM392 127l2 2 17-3 4-11-14-6-10 8zM355 247l-4-5-6 0-1 1 11 5zM366 257l10 9 0 1 1-1-2-10-4-4zM412 94l10 12 7-8-7-4-8-3zM179 321l7 3 15-13-2-4-19-6zM413 224l6 11 4 1 8-16 0-1-4-2-12 1z"/><path fill="#ffd800" d="M190 332l16 3 6-20-11-4-15 13zM434 148l10-5 0-15-8-8-13 18 5 8zM220 209l15-8-5-19-15 10 3 16zM194 212l13 18 4 1 8-3 4-5-3-14-2-1-21 1-3 2zM179 192l-2 6 17 13 3-2 3-16-10-7zM199 367l-7-11-6 2 1 3 5 14zM176 295l4 6 19 6 3-14-8-7-13 3zM179 321l1-20-4-6-6 0 4 20 1 7zM243 224l2-6-6-16-4-1-15 8 3 14zM179 272l6-6 1-14-14-4-3 1-5 14 1 6zM413 198l-2 15 4 5 12-1-4-16zM192 356l7 11 8 0 1-8 2-15 1-2-1 0-18 12zM400 214l-3 10 2 4 14-4 2-6-4-5zM423 138l13-18-14-9-7 4-4 11 6 10zM181 289l13-3 4-12-13-8-6 6zM169 203l-4 17 7 5 9-1 13-12 0-1-17-13zM199 307l2 4 11 4 3-1 5-18-8-6-10 3zM199 367l-7 8 1 3 7 4 6-8 1-7zM399 232l7 9 13-6-6-11-14 4zM179 321l-4 1 5 20 5 0 5-10-4-8zM390 251l1 1 15-4 0-7-7-9-13 7zM436 120l8 8 17-2 2-4-10-1-7-7-2-3zM227 328l3-2 12-5-6-6-10 4zM185 342l7 12 18-12-4-7-16-3zM440 185l-2-17-11 2-8 11 12 7zM270 301l-2 6 12-11zM231 180l-1 2 5 19 4 1 11-5 1-12zM194 286l8 7 10-3 0-19-1-1-13 4zM192 356l0-2-7-12-5 0 6 16zM413 198l-16 5-1 5 4 6 11-1zM267 279l-13-7-7 8 3 15 11-2 7-12zM397 203l-4-6-10 0-2 13 3 2 12-4z"/><path fill="#ffaa00" d="M169 249l3-1 0-23-7-5-4 1 0 3-2 14 2 9zM250 295l-5 5 14 12 8-4 1-1 2-6-9-8zM285 258l-5 6 8 16 8 0 4-13-4-5zM231 277l16 3 7-8-2-11-16-1-7 13zM165 220l4-17-14-9 4 15 2 12zM357 91l5 3 17-1 1-7-5-3-12 3-5 1zM165 269l4 17 1 9 6 0 5-6-2-17zM119 198l14-14 0-4-1-1-21-5-7 9 2 12zM212 315l-6 20 4 7 1 0 4-9 12-5-1-9-11-5zM262 153l-14-12-5 22 9 3 11-6zM454 188l2-10-6-11-11 0-1 1 2 17 8 6zM259 209l-14 9-2 6 5 8 20-3 1-10zM228 157l8 9 7-3 5-22-1-1-15 1zM430 198l1-10-12-7-6 15 0 2 10 3zM252 261l2 11 13 7 9-14-18-10-1 0zM290 116l2 8 18 4 0-1 1-18 0-1-12-4zM313 159l9-8 0-3-12-15-12 13 5 10zM268 281l-7 12 9 8 10-5 1-1 0-8zM212 290l8 6 9-3 2-16-2-4-17-2zM242 321l5-3 12-6-14-12-3 1-6 14zM327 126l7 11 8 2 5-3 0-21-4-3-8 0zM413 196l-15-10-5 11 4 6 16-5zM334 82l1 3 15 9 7-3 1-4-8 1-12-5-1-4zM439 167l-5-19-6-2-11 13 10 11 11-2zM378 176l4 7 15 2 6-12-2-5-4-2zM335 112l8 0 7-18-15-9-7 8 4 16zM410 159l7 0 11-13-5-8-6-2-11 10zM281 287l0 8 3-1 11-11 2-3-1 0-8 0zM427 170l-10-11-7 0-9 9 2 5 16 8zM284 246l1 12 11 4 10-10 0-2-11-8zM314 191l12 1 2-7-4-11-8-3-9 8zM367 115l14-6 2-11-4-5-17 1zM245 300l5-5-3-15-16-3-2 16 13 8zM256 181l-5 4-1 12 9 6 10-6-3-15zM454 162l-1-15-9-4-10 5 5 19 11 0zM285 187l-1 9 13 5 3-1-1-18zM270 165l-7-5-11 6 4 15 10 1 4-3zM280 264l-4 1-9 14 1 2 13 6 7-7zM169 249l-8-2 2 9 1 7z"/><path fill="#ff7000" d="M316 171l8 3 16-9 1-3-19-11-9 8zM380 152l-5 6 2 17 1 1 19-10-10-13zM119 198l-13-3-6 5 2 8 4 2 10 0 6-2zM347 136l12 3 11-5-4-19-19 0zM313 245l-7 5 0 2 9 10 2-2 4-5 4-5zM256 181l-4-15-9-3-7 3-5 14 20 5zM279 212l6 2 8-3 4-10-13-5-7 4zM334 82l-10-8-14 10 6 9 12 0 7-8zM285 214l-6-2-10 7-1 10 7 7 12-11zM311 109l-1 18 17-1 8-14-3-3zM133 184l-14 14 3 10 6-2 13-6 4-5zM185 166l7 5 15 0 3-2 2-10-3-8-14-1zM307 179l9-8-3-12-10-3-12 11 9 13zM303 156l-5-10-8-2-9 6 1 10 8 7 1 0zM330 238l-9-7-6 0-2 1 0 13 12 5 2-3zM300 267l-4 13 1 0 13-13zM249 123l2 11 19-2 2-2-2-16-7-2-1 1-8 3zM342 139l1 22 12 0 3-3 1-19-12-3zM248 232l-1 4 10 19 1 0 18-15-1-4-7-7zM279 179l-9 0-4 3 3 15 8 3 7-4 1-9zM226 319l10-4 6-14-13-8-9 3-5 18zM275 236l1 4 8 6 11-4 5-11-1-3-12-3zM297 201l-4 10 8 7 11-6 2-2-8-9-6-1zM303 63l-3 3 1 15 9 3 14-10-1-11 0-1zM282 160l-12 5 0 14 9 0 11-12zM338 237l2-7-8-12-3 1-8 12 9 7zM315 231l6 0 8-12-15-9-2 2zM322 148l12-11-7-11-17 1 0 1 0 5zM227 137l5 4 15-1 4-6-2-11-19-7-2 1zM345 242l-7-5-8 1-3 9 0-1 13-4 4 1zM291 167l-1 0-11 12 6 8 14-5 1-2zM341 162l2-1-1-22-8-2-12 11 0 3zM269 197l-10 6 0 6 10 10 10-7-2-12zM273 146l-11 7 1 7 7 5 12-5-1-10zM300 231l-5 11 11 8 7-5 0-13zM306 252l-10 10 4 5 10 0 5-5zM328 93l-12 0-5 15 0 1 21 0z"/><path fill="#ff4000" d="M33 134l10 10 13 7 35 0 9-2 14 1-3 1 6 0 0-47-5 3-10 5-17 3-19 1-17 0-11 8-5 7zM323 49l0 13 0 1 19-1-1-13-8-8zM290 144l-3-13-15-1-2 2 3 14 8 4zM166 173l0 1 13 18 11-6 2-15-7-5-6-1zM248 232l-5-8-20-1-4 5 12 19 16-11zM94 161l-1-2-8 3-16 3 7 14 3 1 3-2zM227 137l1-20-3-2-3 1 0 4-6 12-2 7zM158 106l-1 0-13-2-2-1-6 6 1 13 23 1 4-3zM301 218l-2 10 1 3 13 1 2-1-3-19zM333 41l-2-1-16 0-5 3 13 6zM362 216l4 7 4 0 9-12-12-7-1 1zM259 203l-9-6-11 5 6 16 14-9zM330 199l12-1 5-13 0-1-3-2-16 3-2 7 2 6zM209 151l3-9-6-3-11-8-4 12 4 7zM299 104l12 4 5-15-6-9-9-3-4 4-3 12zM167 120l8 8 14-2-9-6-5-7zM306 201l8 9 14-12-2-6-12-1zM301 81l-1-15-10-4-12 6-2 8 3 5 18 4zM249 123l5-7-2 0-4-6-2-7-6-1-10 14zM207 189l8 3 15-10 1-2-21-11-3 2zM133 180l0 4 12 11 2-2 4-10 2-2 2 11 11-18 0-1-10-6zM76 179l-7-14-3 0-11 4-1 1 7 6 9 7zM359 139l-1 19 17 0 5-6-6-16-4-2zM225 115l3 2 2-1 10-14-5-9-9 2-5 5-1 2zM297 85l-18-4 0 2 3 0 4 7-4 8-1 1 13-2zM290 62l10 4 3-3 3-18-10 5-9 4zM347 115l19 0 1 0-5-21-5-3-7 3-7 18zM393 197l5-11-1-1-15-2-3 10 4 4zM214 139l-2 3-3 9 3 8 16-2 4-16-5-4zM212 271l17 2 7-13-6-11-21 6 2 15zM281 99l-2 2-3 10 14 5 9-12-5-7zM118 145l11-14-12-10 0 24zM164 120l3 0 8-7-5-5-12-2zM366 178l11-3-2-17-17 0-3 3 5 13zM299 182l1 18 6 1 8-10-7-12-7 1zM136 109l6-6-11-1-11 1zM284 246l-8-6-18 15 18 10 4-1 5-6zM246 103l-1-3-9-7-1 0 5 9zM79 151l-23 0 10 3 11-1zM328 185l16-3-4-17-16 9zM179 165l6 1 10-16-4-7-15-1-3 4zM399 232l0-4-2-4-10-3-8 8 3 8 4 2zM225 115l-5-13-1 4 3 10zM236 260l16 1 5-6-10-19-16 11-1 2zM270 114l6-3 3-10-7 5-9 6zM273 146l-3-14-19 2-4 6 1 1 14 12zM76 179l-6 4 2 2 13 13 2 1-8-19zM314 210l15 9 3-1 1-1-3-18-2-1zM190 186l10 7 7-4 0-18-15 0zM276 111l-6 3 2 16 15 1 5-7-2-8zM230 249l1-2-12-19-8 3-2 24zM323 63l1 11 10 8 3-3-1-5 6-11 0-1zM310 133l0-5-18-4-5 7 3 13 8 2zM303 63l20-1 0-13-13-6-4 2zM340 230l8-5 0-12 0-1-15 5-1 1zM100 200l-13-1 12 8 3 1zM347 184l0 1 11 6 6-3 2-10-6-4zM279 81l-3-5-9 2 5 3 7 2zM226 95l-4 0-1 5zM137 122l-6 8 21 18 2-1 6-24zM104 183l7-9-3-7-14-6-12 17zM191 143l4-12-2-2-4-3-14 2 1 14z"/><path fill="#ff0000" d="M355 161l-12 0-2 1-1 3 4 17 3 2 13-10zM207 230l-15 7-2 13 19 5 2-24zM347 185l-5 13 6 7 9-5 1-9zM129 131l2-1 6-8-1-13-16-6-1 1-2 3 0 14zM154 147l-2 1-1 3 5 16 10 6 13-8-6-19zM160 123l-6 24 19-1 3-4-1-14-8-8-3 0zM100 200l6-5-2-12-22-5-3 2 8 19zM152 148l-21-18-2 1-11 14 1 4 11 8 21-6zM366 223l-4-7-14-3 0 12 9 5 5-1zM94 161l14 6 11-18-1-4-1 0 0 6-6 0 3-1-8 4-8 4-5 1zM364 188l8 7 7-2 3-10-4-7-1-1-11 3zM383 197l-4-4-7 2-5 9 12 7 2-1zM198 274l13-4-2-15-19-5-4 2-1 14zM333 217l15-5 0-7-6-7-12 1zM276 76l2-8-5-4-4 5-3 8 1 1zM210 169l21 11 5-14-8-9-16 2zM338 237l7 5 6 0 6-12-9-5-8 5zM382 237l-3-8-9-6-4 0-4 6 8 15zM194 212l-13 12 11 13 15-7zM130 157l2 22 1 1 23-13-5-16zM362 216l4-11-9-5-9 5 0 7 0 1zM172 248l14 4 4-2 2-13-11-13-9 1zM290 62l-3-8-11 7-3 3 5 4zM285 214l2 11 12 3 2-10-8-7zM166 174l-11 18 0 1 0 1 14 9 8-5 2-6zM130 157l-11-8-11 18 3 7 21 5zM362 229l-5 1-6 12 4 5 14-1 1-2zM358 191l-1 9 9 5 1-1 5-9-8-7zM379 211l-9 12 9 6 8-8-3-9-3-2z"/></g><use href="#net"/><use href="#blines"/><use href="#ol" fill="none" stroke="#1f78ff" stroke-width="1.45"/><use href="#hole"/></g>
<g transform="translate(173,340.5)"><use href="#ol" fill="#888"/><g transform="scale(.25)"><path fill="#38a000" d="M33 134l10 10 13 7 35 0 9-2 14 1-3 1 6 0 0-47-5 3-10 5-17 3-19 1-17 0-11 8-5 7zM129 131l2-1 6-8-1-13-16-6-1 1-2 3 0 14zM160 123l-6 24 19-1 3-4-1-14-8-8-3 0zM100 200l6-5-2-12-22-5-3 2 8 19zM79 151l-23 0 10 3 11-1zM130 157l2 22 1 1 23-13-5-16z"/><path fill="#5cb800" d="M166 173l0 1 13 18 11-6 2-15-7-5-6-1zM94 161l-1-2-8 3-16 3 7 14 3 1 3-2zM154 147l-2 1-1 3 5 16 10 6 13-8-6-19zM158 106l-1 0-13-2-2-1-6 6 1 13 23 1 4-3zM119 198l14-14 0-4-1-1-21-5-7 9 2 12zM152 148l-21-18-2 1-11 14 1 4 11 8 21-6zM167 120l8 8 14-2-9-6-5-7zM94 161l14 6 11-18-1-4-1 0 0 6-6 0 3-1-8 4-8 4-5 1zM133 180l0 4 12 11 2-2 4-10 2-2 2 11 11-18 0-1-10-6zM76 179l-7-14-3 0-11 4-1 1 7 6 9 7zM225 115l3 2 2-1 10-14-5-9-9 2-5 5-1 2zM118 145l11-14-12-10 0 24zM164 120l3 0 8-7-5-5-12-2zM136 109l6-6-11-1-11 1zM246 103l-1-3-9-7-1 0 5 9zM179 165l6 1 10-16-4-7-15-1-3 4zM281 287l0 8 3-1 11-11 2-3-1 0-8 0zM225 115l-5-13-1 4 3 10zM130 157l-11-8-11 18 3 7 21 5zM137 122l-6 8 21 18 2-1 6-24zM104 183l7-9-3-7-14-6-12 17z"/><path fill="#80cc00" d="M190 332l16 3 6-20-11-4-15 13zM119 198l-13-3-6 5 2 8 4 2 10 0 6-2zM227 137l1-20-3-2-3 1 0 4-6 12-2 7zM209 151l3-9-6-3-11-8-4 12 4 7zM133 184l-14 14 3 10 6-2 13-6 4-5zM185 166l7 5 15 0 3-2 2-10-3-8-14-1zM248 232l-1 4 10 19 1 0 18-15-1-4-7-7zM252 261l2 11 13 7 9-14-18-10-1 0zM268 281l-7 12 9 8 10-5 1-1 0-8zM214 139l-2 3-3 9 3 8 16-2 4-16-5-4zM281 99l-2 2-3 10 14 5 9-12-5-7zM210 169l21 11 5-14-8-9-16 2zM76 179l-6 4 2 2 13 13 2 1-8-19zM190 186l10 7 7-4 0-18-15 0zM166 174l-11 18 0 1 0 1 14 9 8-5 2-6zM270 301l-2 6 12-11zM100 200l-13-1 12 8 3 1zM279 81l-3-5-9 2 5 3 7 2zM226 95l-4 0-1 5zM191 143l4-12-2-2-4-3-14 2 1 14z"/><path fill="#b0e000" d="M250 295l-5 5 14 12 8-4 1-1 2-6-9-8zM347 185l-5 13 6 7 9-5 1-9zM285 258l-5 6 8 16 8 0 4-13-4-5zM231 277l16 3 7-8-2-11-16-1-7 13zM165 220l4-17-14-9 4 15 2 12zM313 245l-7 5 0 2 9 10 2-2 4-5 4-5zM256 181l-4-15-9-3-7 3-5 14 20 5zM165 269l4 17 1 9 6 0 5-6-2-17zM220 209l15-8-5-19-15 10 3 16zM299 104l12 4 5-15-6-9-9-3-4 4-3 12zM179 192l-2 6 17 13 3-2 3-16-10-7zM366 223l-4-7-14-3 0 12 9 5 5-1zM330 238l-9-7-6 0-2 1 0 13 12 5 2-3zM300 267l-4 13 1 0 13-13zM179 321l1-20-4-6-6 0 4 20 1 7zM297 85l-18-4 0 2 3 0 4 7-4 8-1 1 13-2zM479 135l-1-2-13-11-2 0-2 4 6 13 4 2 1 0zM226 319l10-4 6-14-13-8-9 3-5 18zM383 197l-4-4-7 2-5 9 12 7 2-1zM393 197l5-11-1-1-15-2-3 10 4 4zM179 272l6-6 1-14-14-4-3 1-5 14 1 6zM212 290l8 6 9-3 2-16-2-4-17-2zM242 321l5-3 12-6-14-12-3 1-6 14zM212 271l17 2 7-13-6-11-21 6 2 15zM472 141l-1 0-1 21 2 1 13-1 4-11-1-2zM198 274l13-4-2-15-19-5-4 2-1 14zM333 217l15-5 0-7-6-7-12 1zM284 246l-8-6-18 15 18 10 4-1 5-6zM181 289l13-3 4-12-13-8-6 6zM431 219l0 1 9 4 11-11-1-1-11-6zM199 307l2 4 11 4 3-1 5-18-8-6-10 3zM276 76l2-8-5-4-4 5-3 8 1 1zM338 237l2-7-8-12-3 1-8 12 9 7zM399 232l0-4-2-4-10-3-8 8 3 8 4 2zM179 321l-4 1 5 20 5 0 5-10-4-8zM384 212l3 9 10 3 3-10-4-6zM236 260l16 1 5-6-10-19-16 11-1 2zM270 114l6-3 3-10-7 5-9 6zM382 237l-3-8-9-6-4 0-4 6 8 15zM284 246l1 12 11 4 10-10 0-2-11-8zM227 328l3-2 12-5-6-6-10 4zM472 141l16 8-2-3-7-11zM185 342l7 12 18-12-4-7-16-3zM362 216l4-11-9-5-9 5 0 7 0 1zM245 300l5-5-3-15-16-3-2 16 13 8zM172 248l14 4 4-2 2-13-11-13-9 1zM285 214l2 11 12 3 2-10-8-7zM347 184l0 1 11 6 6-3 2-10-6-4zM362 229l-5 1-6 12 4 5 14-1 1-2zM194 286l8 7 10-3 0-19-1-1-13 4zM358 191l-1 9 9 5 1-1 5-9-8-7zM280 264l-4 1-9 14 1 2 13 6 7-7zM267 279l-13-7-7 8 3 15 11-2 7-12zM306 252l-10 10 4 5 10 0 5-5zM169 249l-8-2 2 9 1 7z"/><path fill="#e0f000" d="M380 152l-5 6 2 17 1 1 19-10-10-13zM323 49l0 13 0 1 19-1-1-13-8-8zM419 181l-16-8-6 12 1 1 15 10zM207 230l-15 7-2 13 19 5 2-24zM169 249l3-1 0-23-7-5-4 1 0 3-2 14 2 9zM434 148l10-5 0-15-8-8-13 18 5 8zM248 232l-5-8-20-1-4 5 12 19 16-11zM450 212l6-6-8-14-10 10 1 4zM333 41l-2-1-16 0-5 3 13 6zM431 220l-8 16 6 7 15-12-4-7zM194 212l13 18 4 1 8-3 4-5-3-14-2-1-21 1-3 2zM542 201l9-7 0-3-10-14-2-1-1 0-10 17 5 7zM362 216l4 7 4 0 9-12-12-7-1 1zM259 203l-9-6-11 5 6 16 14-9zM444 128l0 15 9 4 14-8-6-13zM495 193l1-2-7-14-14 5 0 4 4 7 13 2zM212 315l-6 20 4 7 1 0 4-9 12-5-1-9-11-5zM385 269l-8-3-1 1 10 13 0-1zM422 106l0 5 14 9 8-9-7-8-8-5zM301 81l-1-15-10-4-12 6-2 8 3 5 18 4zM199 367l-7-11-6 2 1 3 5 14zM448 192l0-1-8-6-9 3-1 10 8 4zM176 295l4 6 19 6 3-14-8-7-13 3zM454 188l2-10-6-11-11 0-1 1 2 17 8 6zM207 189l8 3 15-10 1-2-21-11-3 2zM430 198l1-10-12-7-6 15 0 2 10 3zM243 224l2-6-6-16-4-1-15 8 3 14zM290 62l10 4 3-3 3-18-10 5-9 4zM364 188l8 7 7-2 3-10-4-7-1-1-11 3zM413 198l-2 15 4 5 12-1-4-16zM472 163l-2-1-16 0-4 5 6 11 16-1zM275 236l1 4 8 6 11-4 5-11-1-3-12-3zM413 196l-15-10-5 11 4 6 16-5zM475 245l6 3 8-5 1-4-8-10-8 7zM475 182l-3-5-16 1-2 10 10 4 11-6zM192 356l7 11 8 0 1-8 2-15 1-2-1 0-18 12zM471 141l-4-2-14 8 1 15 16 0zM400 214l-3 10 2 4 14-4 2-6-4-5zM518 191l10 2 10-17-17-2-3 0-1 0-4 5zM415 274l4 6 11-2-1-13-10 1zM197 209l21-1-3-16-8-3-7 4zM169 203l-4 17 7 5 9-1 13-12 0-1-17-13zM410 159l7 0 11-13-5-8-6-2-11 10zM199 367l-7 8 1 3 7 4 6-8 1-7zM427 170l-10-11-7 0-9 9 2 5 16 8zM338 237l7 5 6 0 6-12-9-5-8 5zM436 120l8 8 17-2 2-4-10-1-7-7-2-3zM345 242l-7-5-8 1-3 9 0-1 13-4 4 1zM194 212l-13 12 11 13 15-7zM440 224l4 7 2 1 15-5 1-2-11-12zM256 181l-5 4-1 12 9 6 10-6-3-15zM230 249l1-2-12-19-8 3-2 24zM454 162l-1-15-9-4-10 5 5 19 11 0zM355 247l-4-5-6 0-1 1 11 5zM489 166l-3 0 0-2-1-2-13 1 0 14 3 5 14-5 3-7zM438 202l-8-4-7 3 4 16 4 2 8-13zM290 62l-3-8-11 7-3 3 5 4zM366 257l10 9 0 1 1-1-2-10-4-4zM412 94l10 12 7-8-7-4-8-3zM303 63l20-1 0-13-13-6-4 2zM440 185l-2-17-11 2-8 11 12 7zM340 230l8-5 0-12 0-1-15 5-1 1zM231 180l-1 2 5 19 4 1 11-5 1-12zM179 321l7 3 15-13-2-4-19-6zM379 211l-9 12 9 6 8-8-3-9-3-2zM192 356l0-2-7-12-5 0 6 16zM413 198l-16 5-1 5 4 6 11-1zM397 203l-4-6-10 0-2 13 3 2 12-4z"/><path fill="#ffd800" d="M316 171l8 3 16-9 1-3-19-11-9 8zM463 230l-2-3-15 5 4 13 10-1zM423 236l-4-1-13 6 0 7 4 6 3 1 13-6 3-6zM357 91l5 3 17-1 1-7-5-3-12 3-5 1zM279 212l6 2 8-3 4-10-13-5-7 4zM334 82l-10-8-14 10 6 9 12 0 7-8zM572 184l-8-2-13 9 0 3 12 9 9-2 2-4zM510 204l0-2-15-9-3 2-2 11 5 6 7 0zM301 218l-2 10 1 3 13 1 2-1-3-19zM451 213l11 12 5-5 0-14-2-1-9 1-6 6zM285 214l-6-2-10 7-1 10 7 7 12-11zM311 109l-1 18 17-1 8-14-3-3zM453 260l-6-4-8 6 5 12 7 0 5-1zM450 245l-3 5 0 6 6 4 11-3 0-9-4-4zM306 201l8 9 14-12-2-6-12-1zM490 206l-10 2 0 13 2 3 8-2 5-10zM557 217l-11 1 0 1 0 19 2 1 7-7 7-11zM259 209l-14 9-2 6 5 8 20-3 1-10zM228 157l8 9 7-3 5-22-1-1-15 1zM249 123l5-7-2 0-4-6-2-7-6-1-10 14zM524 215l9-15-5-7-10-2-8 11 0 2zM249 123l2 11 19-2 2-2-2-16-7-2-1 1-8 3zM401 109l14 6 7-4 0-5-10-12-12 2zM470 263l0 3 2 3 17-3 0-3-9-7zM539 176l2 1 15-7-1 0-12-8-5 5zM355 247l0 1 5 2 6 7 5-5-2-6zM474 236l8-7 0-5-2-3-13-1-5 5-1 2 2 3zM279 179l-9 0-4 3 3 15 8 3 7-4 1-9zM506 233l20 9 2-1-2-20-2-2-17 7-3 4zM347 115l19 0 1 0-5-21-5-3-7 3-7 18zM563 203l-6 14 5 4 2-2 4-12 4-6zM497 249l0 10 5 3 14-6 0-3-11-7zM485 162l1 2 4-10-1-3zM297 201l-4 10 8 7 11-6 2-2-8-9-6-1zM546 238l-15 4 3 6 9-4 5-5zM475 204l4-11-4-7-11 6 1 13 2 1zM334 82l1 3 15 9 7-3 1-4-8 1-12-5-1-4zM495 212l-5 10 12 9 2-1 3-4-5-14zM303 63l-3 3 1 15 9 3 14-10-1-11 0-1zM490 239l-1 4 8 6 8-3 1-13-2-3-2 1zM439 167l-5-19-6-2-11 13 10 11 11-2zM282 160l-12 5 0 14 9 0 11-12zM335 112l8 0 7-18-15-9-7 8 4 16zM413 255l-3-1-8 14 2 3 11 3 4-8zM315 231l6 0 8-12-15-9-2 2zM464 257l6 6 10-7 1-8-6-3-11 3zM489 177l7 14 14-12-12-10-6 1zM564 182l-4-8-4-4-15 7 10 14zM507 226l17-7 0-4-14-11-8 8zM526 221l20-2 0-1-4-17-9-1-9 15 0 4zM528 241l3 1 15-4 0-19-20 2zM510 202l8-11-5-12-3 0-14 12-1 2zM572 184l2 13 2-2 4-9-6-3zM367 115l14-6 2-11-4-5-17 1zM538 176l1 0-1-9-3 3-14 4zM444 274l-4 4 10-4 1 0zM429 265l1 13 3 2 7-2 4-4-5-12-6 0zM489 263l8-4 0-10-8-6-8 5-1 8zM479 193l-4 11 5 4 10-2 2-11zM542 201l4 17 11-1 6-14-12-9zM314 210l15 9 3-1 1-1-3-18-2-1zM456 206l9-1-1-13-10-4-6 3 0 1zM502 262l-5-3-8 4 0 3 1 0 12-3zM467 220l13 1 0-13-5-4-8 2zM464 248l11-3-1-9-11-6-3 14zM269 197l-10 6 0 6 10 10 10-7-2-12zM323 63l1 11 10 8 3-3-1-5 6-11 0-1zM446 232l-2-1-15 12 18 7 3-5zM498 169l12 10 3 0 4-5-15-6-3 0zM379 93l4 5 16-3-1-4-11-1-7-4zM300 231l-5 11 11 8 7-5 0-13zM403 288l-3-7-14-2 0 1 2 3 9 8zM572 184l2-1-6-5-8-4 4 8zM413 224l6 11 4 1 8-16 0-1-4-2-12 1zM285 187l-1 9 13 5 3-1-1-18zM516 256l-14 6 0 1 8-3 6-3zM505 246l11 7 10-11-20-9zM482 224l0 5 8 10 12-8-12-9zM470 266l0-3-6-6-11 3 3 13 1 0zM328 93l-12 0-5 15 0 1 21 0z"/><path fill="#ffaa00" d="M355 161l-12 0-2 1-1 3 4 17 3 2 13-10zM330 199l12-1 5-13 0-1-3-2-16 3-2 7 2 6zM262 153l-14-12-5 22 9 3 11-6zM531 242l-3-1-2 1-10 11 0 3 0 1 11-5 7-4zM415 274l-11-3-4 10 3 7 1 1 13-5 2-4zM307 179l9-8-3-12-10-3-12 11 9 13zM406 146l11-10-6-10-17 3 4 15zM380 152l7 1 11-9-4-15-2-2-18 9zM342 139l1 22 12 0 3-3 1-19-12-3zM383 98l-2 11 10 8 10-8-1-13-1-1zM313 159l9-8 0-3-12-15-12 13 5 10zM370 134l4 2 18-9-1-10-10-8-14 6-1 0zM366 178l11-3-2-17-17 0-3 3 5 13zM299 182l1 18 6 1 8-10-7-12-7 1zM397 166l4 2 9-9-4-13-8-2-11 9zM423 138l13-18-14-9-7 4-4 11 6 10zM328 185l16-3-4-17-16 9zM378 176l4 7 15 2 6-12-2-5-4-2zM399 95l1 1 12-2 2-3-2-1-12 1-2 0zM322 148l12-11-7-11-17 1 0 1 0 5zM430 278l-11 2-2 4 1 2 7-3 8-3zM227 137l5 4 15-1 4-6-2-11-19-7-2 1zM273 146l-3-14-19 2-4 6 1 1 14 12zM404 271l-2-3-10-4-7 5 1 10 14 2zM291 167l-1 0-11 12 6 8 14-5 1-2zM470 266l-13 7 11-3 4-1zM426 249l7 13 6 0 8-6 0-6-18-7zM417 284l-13 5 1 4 13-7zM392 127l2 2 17-3 4-11-14-6-10 8zM270 165l-7-5-11 6 4 15 10 1 4-3z"/><path fill="#ff7000" d="M290 144l-3-13-15-1-2 2 3 14 8 4zM347 136l12 3 11-5-4-19-19 0zM413 255l6 11 10-1 4-3-7-13zM303 156l-5-10-8-2-9 6 1 10 8 7 1 0zM359 139l-1 19 17 0 5-6-6-16-4-2zM290 116l2 8 18 4 0-1 1-18 0-1-12-4zM397 291l4 4 4-2-1-4-1-1zM327 126l7 11 8 2 5-3 0-21-4-3-8 0zM377 266l8 3 7-5-1-12-1-1-15 5zM369 246l2 6 4 4 15-5-4-12-4-2-12 7zM399 232l7 9 13-6-6-11-14 4zM314 191l12 1 2-7-4-11-8-3-9 8zM341 162l2-1-1-22-8-2-12 11 0 3zM276 111l-6 3 2 16 15 1 5-7-2-8zM310 133l0-5-18-4-5 7 3 13 8 2zM273 146l-11 7 1 7 7 5 12-5-1-10z"/><path fill="#ff4000" d="M390 251l1 1 15-4 0-7-7-9-13 7zM391 252l1 12 10 4 8-14-4-6z"/></g><use href="#net"/><use href="#blines"/><use href="#ol" fill="none" stroke="#1f78ff" stroke-width="1.45"/><use href="#hole"/></g>
<g transform="translate(327,340.8)"><use href="#ol" fill="#888"/><g transform="scale(.25)"><path fill="#38a000" d="M307 179l9-8-3-12-10-3-12 11 9 13zM358 191l-1 9 9 5 1-1 5-9-8-7z"/><path fill="#5cb800" d="M316 171l8 3 16-9 1-3-19-11-9 8zM355 161l-12 0-2 1-1 3 4 17 3 2 13-10zM380 152l-5 6 2 17 1 1 19-10-10-13zM323 49l0 13 0 1 19-1-1-13-8-8zM290 144l-3-13-15-1-2 2 3 14 8 4zM262 153l-14-12-5 22 9 3 11-6zM303 156l-5-10-8-2-9 6 1 10 8 7 1 0zM228 157l8 9 7-3 5-22-1-1-15 1zM249 123l2 11 19-2 2-2-2-16-7-2-1 1-8 3zM342 139l1 22 12 0 3-3 1-19-12-3zM290 62l10 4 3-3 3-18-10 5-9 4zM290 116l2 8 18 4 0-1 1-18 0-1-12-4zM364 188l8 7 7-2 3-10-4-7-1-1-11 3zM333 217l15-5 0-7-6-7-12 1zM338 237l7 5 6 0 6-12-9-5-8 5zM314 191l12 1 2-7-4-11-8-3-9 8zM291 167l-1 0-11 12 6 8 14-5 1-2zM341 162l2-1-1-22-8-2-12 11 0 3zM276 111l-6 3 2 16 15 1 5-7-2-8zM310 133l0-5-18-4-5 7 3 13 8 2zM328 93l-12 0-5 15 0 1 21 0z"/><path fill="#80cc00" d="M33 134l10 10 13 7 35 0 9-2 14 1-3 1 6 0 0-47-5 3-10 5-17 3-19 1-17 0-11 8-5 7zM347 185l-5 13 6 7 9-5 1-9zM347 136l12 3 11-5-4-19-19 0zM313 245l-7 5 0 2 9 10 2-2 4-5 4-5zM256 181l-4-15-9-3-7 3-5 14 20 5zM357 91l5 3 17-1 1-7-5-3-12 3-5 1zM279 212l6 2 8-3 4-10-13-5-7 4zM334 82l-10-8-14 10 6 9 12 0 7-8zM333 41l-2-1-16 0-5 3 13 6zM362 216l4 7 4 0 9-12-12-7-1 1zM285 214l-6-2-10 7-1 10 7 7 12-11zM311 109l-1 18 17-1 8-14-3-3zM299 104l12 4 5-15-6-9-9-3-4 4-3 12zM306 201l8 9 14-12-2-6-12-1zM301 81l-1-15-10-4-12 6-2 8 3 5 18 4zM259 209l-14 9-2 6 5 8 20-3 1-10zM330 238l-9-7-6 0-2 1 0 13 12 5 2-3zM300 267l-4 13 1 0 13-13zM207 189l8 3 15-10 1-2-21-11-3 2zM297 85l-18-4 0 2 3 0 4 7-4 8-1 1 13-2zM279 179l-9 0-4 3 3 15 8 3 7-4 1-9zM313 159l9-8 0-3-12-15-12 13 5 10zM347 115l19 0 1 0-5-21-5-3-7 3-7 18zM327 126l7 11 8 2 5-3 0-21-4-3-8 0zM297 201l-4 10 8 7 11-6 2-2-8-9-6-1zM281 99l-2 2-3 10 14 5 9-12-5-7zM334 82l1 3 15 9 7-3 1-4-8 1-12-5-1-4zM366 178l11-3-2-17-17 0-3 3 5 13zM299 182l1 18 6 1 8-10-7-12-7 1zM282 160l-12 5 0 14 9 0 11-12zM79 151l-23 0 10 3 11-1zM328 185l16-3-4-17-16 9zM335 112l8 0 7-18-15-9-7 8 4 16zM276 76l2-8-5-4-4 5-3 8 1 1zM338 237l2-7-8-12-3 1-8 12 9 7zM315 231l6 0 8-12-15-9-2 2zM322 148l12-11-7-11-17 1 0 1 0 5zM273 146l-3-14-19 2-4 6 1 1 14 12zM382 237l-3-8-9-6-4 0-4 6 8 15zM284 246l1 12 11 4 10-10 0-2-11-8zM345 242l-7-5-8 1-3 9 0-1 13-4 4 1zM367 115l14-6 2-11-4-5-17 1zM314 210l15 9 3-1 1-1-3-18-2-1zM362 216l4-11-9-5-9 5 0 7 0 1zM256 181l-5 4-1 12 9 6 10-6-3-15zM269 197l-10 6 0 6 10 10 10-7-2-12zM323 63l1 11 10 8 3-3-1-5 6-11 0-1zM290 62l-3-8-11 7-3 3 5 4zM273 146l-11 7 1 7 7 5 12-5-1-10zM285 214l2 11 12 3 2-10-8-7zM340 230l8-5 0-12 0-1-15 5-1 1zM300 231l-5 11 11 8 7-5 0-13zM347 184l0 1 11 6 6-3 2-10-6-4zM270 165l-7-5-11 6 4 15 10 1 4-3zM226 95l-4 0-1 5z"/><path fill="#b0e000" d="M250 295l-5 5 14 12 8-4 1-1 2-6-9-8zM248 232l-5-8-20-1-4 5 12 19 16-11zM227 137l1-20-3-2-3 1 0 4-6 12-2 7zM220 209l15-8-5-19-15 10 3 16zM301 218l-2 10 1 3 13 1 2-1-3-19zM259 203l-9-6-11 5 6 16 14-9zM330 199l12-1 5-13 0-1-3-2-16 3-2 7 2 6zM185 166l7 5 15 0 3-2 2-10-3-8-14-1zM401 109l14 6 7-4 0-5-10-12-12 2zM243 224l2-6-6-16-4-1-15 8 3 14zM252 261l2 11 13 7 9-14-18-10-1 0zM268 281l-7 12 9 8 10-5 1-1 0-8zM242 321l5-3 12-6-14-12-3 1-6 14zM275 236l1 4 8 6 11-4 5-11-1-3-12-3zM303 63l-3 3 1 15 9 3 14-10-1-11 0-1zM284 246l-8-6-18 15 18 10 4-1 5-6zM246 103l-1-3-9-7-1 0 5 9zM281 287l0 8 3-1 11-11 2-3-1 0-8 0zM210 169l21 11 5-14-8-9-16 2zM399 95l1 1 12-2 2-3-2-1-12 1-2 0zM225 115l-5-13-1 4 3 10zM270 114l6-3 3-10-7 5-9 6zM227 137l5 4 15-1 4-6-2-11-19-7-2 1zM190 186l10 7 7-4 0-18-15 0zM392 127l2 2 17-3 4-11-14-6-10 8zM303 63l20-1 0-13-13-6-4 2zM379 93l4 5 16-3-1-4-11-1-7-4zM100 200l-13-1 12 8 3 1zM231 180l-1 2 5 19 4 1 11-5 1-12zM279 81l-3-5-9 2 5 3 7 2zM285 187l-1 9 13 5 3-1-1-18zM306 252l-10 10 4 5 10 0 5-5z"/><path fill="#e0f000" d="M419 181l-16-8-6 12 1 1 15 10zM285 258l-5 6 8 16 8 0 4-13-4-5zM231 277l16 3 7-8-2-11-16-1-7 13zM154 147l-2 1-1 3 5 16 10 6 13-8-6-19zM450 212l6-6-8-14-10 10 1 4zM212 315l-6 20 4 7 1 0 4-9 12-5-1-9-11-5zM366 223l-4-7-14-3 0 12 9 5 5-1zM415 274l-11-3-4 10 3 7 1 1 13-5 2-4zM406 146l11-10-6-10-17 3 4 15zM380 152l7 1 11-9-4-15-2-2-18 9zM249 123l5-7-2 0-4-6-2-7-6-1-10 14zM359 139l-1 19 17 0 5-6-6-16-4-2zM430 198l1-10-12-7-6 15 0 2 10 3zM355 247l0 1 5 2 6 7 5-5-2-6zM383 98l-2 11 10 8 10-8-1-13-1-1zM248 232l-1 4 10 19 1 0 18-15-1-4-7-7zM226 319l10-4 6-14-13-8-9 3-5 18zM383 197l-4-4-7 2-5 9 12 7 2-1zM393 197l5-11-1-1-15-2-3 10 4 4zM212 290l8 6 9-3 2-16-2-4-17-2zM370 134l4 2 18-9-1-10-10-8-14 6-1 0zM212 271l17 2 7-13-6-11-21 6 2 15zM413 196l-15-10-5 11 4 6 16-5zM400 214l-3 10 2 4 14-4 2-6-4-5zM397 166l4 2 9-9-4-13-8-2-11 9zM378 176l4 7 15 2 6-12-2-5-4-2zM410 159l7 0 11-13-5-8-6-2-11 10zM399 232l0-4-2-4-10-3-8 8 3 8 4 2zM199 367l-7 8 1 3 7 4 6-8 1-7zM427 170l-10-11-7 0-9 9 2 5 16 8zM236 260l16 1 5-6-10-19-16 11-1 2zM227 328l3-2 12-5-6-6-10 4zM245 300l5-5-3-15-16-3-2 16 13 8zM230 249l1-2-12-19-8 3-2 24zM355 247l-4-5-6 0-1 1 11 5zM270 301l-2 6 12-11zM362 229l-5 1-6 12 4 5 14-1 1-2zM413 224l6 11 4 1 8-16 0-1-4-2-12 1zM280 264l-4 1-9 14 1 2 13 6 7-7zM267 279l-13-7-7 8 3 15 11-2 7-12z"/><path fill="#ffd800" d="M190 332l16 3 6-20-11-4-15 13zM423 236l-4-1-13 6 0 7 4 6 3 1 13-6 3-6zM166 173l0 1 13 18 11-6 2-15-7-5-6-1zM165 220l4-17-14-9 4 15 2 12zM194 212l13 18 4 1 8-3 4-5-3-14-2-1-21 1-3 2zM495 193l1-2-7-14-14 5 0 4 4 7 13 2zM385 269l-8-3-1 1 10 13 0-1zM199 367l-7-11-6 2 1 3 5 14zM176 295l4 6 19 6 3-14-8-7-13 3zM454 188l2-10-6-11-11 0-1 1 2 17 8 6zM413 198l-2 15 4 5 12-1-4-16zM214 139l-2 3-3 9 3 8 16-2 4-16-5-4zM397 291l4 4 4-2-1-4-1-1zM472 163l-2-1-16 0-4 5 6 11 16-1zM485 162l1 2 4-10-1-3zM377 266l8 3 7-5-1-12-1-1-15 5zM475 204l4-11-4-7-11 6 1 13 2 1zM475 182l-3-5-16 1-2 10 10 4 11-6zM192 356l7 11 8 0 1-8 2-15 1-2-1 0-18 12zM471 141l-4-2-14 8 1 15 16 0zM198 274l13-4-2-15-19-5-4 2-1 14zM369 246l2 6 4 4 15-5-4-12-4-2-12 7zM439 167l-5-19-6-2-11 13 10 11 11-2zM197 209l21-1-3-16-8-3-7 4zM199 307l2 4 11 4 3-1 5-18-8-6-10 3zM413 255l-3-1-8 14 2 3 11 3 4-8zM464 257l6 6 10-7 1-8-6-3-11 3zM489 177l7 14 14-12-12-10-6 1zM399 232l7 9 13-6-6-11-14 4zM179 321l-4 1 5 20 5 0 5-10-4-8zM390 251l1 1 15-4 0-7-7-9-13 7zM384 212l3 9 10 3 3-10-4-6zM430 278l-11 2-2 4 1 2 7-3 8-3zM510 202l8-11-5-12-3 0-14 12-1 2zM404 271l-2-3-10-4-7 5 1 10 14 2zM194 212l-13 12 11 13 15-7zM130 157l2 22 1 1 23-13-5-16zM185 342l7 12 18-12-4-7-16-3zM417 284l-13 5 1 4 13-7zM172 248l14 4 4-2 2-13-11-13-9 1zM489 166l-3 0 0-2-1-2-13 1 0 14 3 5 14-5 3-7zM366 257l10 9 0 1 1-1-2-10-4-4zM440 185l-2-17-11 2-8 11 12 7zM403 288l-3-7-14-2 0 1 2 3 9 8zM194 286l8 7 10-3 0-19-1-1-13 4zM179 321l7 3 15-13-2-4-19-6zM516 256l-14 6 0 1 8-3 6-3zM379 211l-9 12 9 6 8-8-3-9-3-2zM192 356l0-2-7-12-5 0 6 16zM413 198l-16 5-1 5 4 6 11-1zM397 203l-4-6-10 0-2 13 3 2 12-4zM169 249l-8-2 2 9 1 7z"/><path fill="#ffaa00" d="M207 230l-15 7-2 13 19 5 2-24zM169 249l3-1 0-23-7-5-4 1 0 3-2 14 2 9zM463 230l-2-3-15 5 4 13 10-1zM129 131l2-1 6-8-1-13-16-6-1 1-2 3 0 14zM94 161l-1-2-8 3-16 3 7 14 3 1 3-2zM165 269l4 17 1 9 6 0 5-6-2-17zM572 184l-8-2-13 9 0 3 12 9 9-2 2-4zM431 220l-8 16 6 7 15-12-4-7zM542 201l9-7 0-3-10-14-2-1-1 0-10 17 5 7zM100 200l6-5-2-12-22-5-3 2 8 19zM119 198l14-14 0-4-1-1-21-5-7 9 2 12zM209 151l3-9-6-3-11-8-4 12 4 7zM133 184l-14 14 3 10 6-2 13-6 4-5zM179 192l-2 6 17 13 3-2 3-16-10-7zM453 260l-6-4-8 6 5 12 7 0 5-1zM531 242l-3-1-2 1-10 11 0 3 0 1 11-5 7-4zM450 245l-3 5 0 6 6 4 11-3 0-9-4-4zM94 161l14 6 11-18-1-4-1 0 0 6-6 0 3-1-8 4-8 4-5 1zM448 192l0-1-8-6-9 3-1 10 8 4zM524 215l9-15-5-7-10-2-8 11 0 2zM76 179l-7-14-3 0-11 4-1 1 7 6 9 7zM470 263l0 3 2 3 17-3 0-3-9-7zM539 176l2 1 15-7-1 0-12-8-5 5zM179 272l6-6 1-14-14-4-3 1-5 14 1 6zM563 203l-6 14 5 4 2-2 4-12 4-6zM546 238l-15 4 3 6 9-4 5-5zM475 245l6 3 8-5 1-4-8-10-8 7zM118 145l11-14-12-10 0 24zM136 109l6-6-11-1-11 1zM415 274l4 6 11-2-1-13-10 1zM181 289l13-3 4-12-13-8-6 6zM169 203l-4 17 7 5 9-1 13-12 0-1-17-13zM431 219l0 1 9 4 11-11-1-1-11-6zM564 182l-4-8-4-4-15 7 10 14zM76 179l-6 4 2 2 13 13 2 1-8-19zM572 184l2 13 2-2 4-9-6-3zM538 176l1 0-1-9-3 3-14 4zM444 274l-4 4 10-4 1 0zM470 266l-13 7 11-3 4-1zM429 265l1 13 3 2 7-2 4-4-5-12-6 0zM426 249l7 13 6 0 8-6 0-6-18-7zM489 263l8-4 0-10-8-6-8 5-1 8zM542 201l4 17 11-1 6-14-12-9zM391 252l1 12 10 4 8-14-4-6zM456 206l9-1-1-13-10-4-6 3 0 1zM502 262l-5-3-8 4 0 3 1 0 12-3zM467 220l13 1 0-13-5-4-8 2zM464 248l11-3-1-9-11-6-3 14zM438 202l-8-4-7 3 4 16 4 2 8-13zM446 232l-2-1-15 12 18 7 3-5zM412 94l10 12 7-8-7-4-8-3zM498 169l12 10 3 0 4-5-15-6-3 0zM166 174l-11 18 0 1 0 1 14 9 8-5 2-6zM572 184l2-1-6-5-8-4 4 8zM482 224l0 5 8 10 12-8-12-9zM104 183l7-9-3-7-14-6-12 17zM191 143l4-12-2-2-4-3-14 2 1 14z"/><path fill="#ff7000" d="M434 148l10-5 0-15-8-8-13 18 5 8zM158 106l-1 0-13-2-2-1-6 6 1 13 23 1 4-3zM510 204l0-2-15-9-3 2-2 11 5 6 7 0zM160 123l-6 24 19-1 3-4-1-14-8-8-3 0zM451 213l11 12 5-5 0-14-2-1-9 1-6 6zM152 148l-21-18-2 1-11 14 1 4 11 8 21-6zM444 128l0 15 9 4 14-8-6-13zM413 255l6 11 10-1 4-3-7-13zM167 120l8 8 14-2-9-6-5-7zM422 106l0 5 14 9 8-9-7-8-8-5zM557 217l-11 1 0 1 0 19 2 1 7-7 7-11zM133 180l0 4 12 11 2-2 4-10 2-2 2 11 11-18 0-1-10-6zM179 321l1-20-4-6-6 0 4 20 1 7zM474 236l8-7 0-5-2-3-13-1-5 5-1 2 2 3zM225 115l3 2 2-1 10-14-5-9-9 2-5 5-1 2zM506 233l20 9 2-1-2-20-2-2-17 7-3 4zM497 249l0 10 5 3 14-6 0-3-11-7zM164 120l3 0 8-7-5-5-12-2zM472 141l-1 0-1 21 2 1 13-1 4-11-1-2zM495 212l-5 10 12 9 2-1 3-4-5-14zM518 191l10 2 10-17-17-2-3 0-1 0-4 5zM490 239l-1 4 8 6 8-3 1-13-2-3-2 1zM423 138l13-18-14-9-7 4-4 11 6 10zM179 165l6 1 10-16-4-7-15-1-3 4zM507 226l17-7 0-4-14-11-8 8zM526 221l20-2 0-1-4-17-9-1-9 15 0 4zM528 241l3 1 15-4 0-19-20 2zM436 120l8 8 17-2 2-4-10-1-7-7-2-3zM472 141l16 8-2-3-7-11zM479 193l-4 11 5 4 10-2 2-11zM440 224l4 7 2 1 15-5 1-2-11-12zM454 162l-1-15-9-4-10 5 5 19 11 0zM130 157l-11-8-11 18 3 7 21 5zM505 246l11 7 10-11-20-9zM470 266l0-3-6-6-11 3 3 13 1 0z"/><path fill="#ff4000" d="M119 198l-13-3-6 5 2 8 4 2 10 0 6-2zM490 206l-10 2 0 13 2 3 8-2 5-10zM479 135l-1-2-13-11-2 0-2 4 6 13 4 2 1 0zM137 122l-6 8 21 18 2-1 6-24z"/></g><use href="#net"/><use href="#blines"/><use href="#ol" fill="none" stroke="#1f78ff" stroke-width="1.45"/><use href="#hole"/></g>
<g fill="none" stroke-linecap="square"><path d="M19.5,22.5H479.5V445.5M19.5,22.5V445.5H171" stroke="#4a4a4a" stroke-width="1"/><path d="M172,446.3H326" stroke="#4a4a4a" stroke-width="1"/><path d="M327,445.5H479.5" stroke="#4a4a4a" stroke-width="1"/><path d="M171.3,22.5V126M173.5,22.5V126" stroke="#4a4a4a" stroke-width="1"/><path d="M172.2,128V446" stroke="#686868" stroke-width="2.4"/><path d="M326.1,22.5V446" stroke="#686868" stroke-width="2.4"/><path d="M19.5,125.9H479.5" stroke="#686868" stroke-width="1.6"/><path d="M19.5,129H479.5" stroke="#8a8a8a" stroke-width="1.6"/><path d="M19.5,234.9H479.5" stroke="#686868" stroke-width="2.4"/><path d="M19.5,340.9H479.5" stroke="#686868" stroke-width="2.4"/></g>
<text x="28.3" y="17.7" font-family="'Liberation Serif', serif" font-weight="bold" font-size="15.2" fill="#111">DPT1 (1991 - 2000)</text><text x="185.5" y="17.7" font-family="'Liberation Serif', serif" font-weight="bold" font-size="15.2" fill="#111">DPT2 (2001 - 2010)</text><text x="339.5" y="17.7" font-family="'Liberation Serif', serif" font-weight="bold" font-size="15.2" fill="#111">DPT3 (2011 - 2020)</text>
<text transform="translate(15.2,87) rotate(-90)" font-family="'Liberation Serif', serif" font-weight="bold" font-size="14" fill="#111">Winter</text><text transform="translate(15.6,213.9) rotate(-90)" font-family="'Liberation Serif', serif" font-weight="normal" font-size="13" fill="#111">Pre- Monsoon</text><text transform="translate(16,307.5) rotate(-90)" font-family="'Liberation Serif', serif" font-weight="bold" font-size="13.5" fill="#111">Monsoon</text><text transform="translate(17.2,428.7) rotate(-90)" font-family="'Liberation Serif', serif" font-weight="normal" font-size="13" fill="#111">Post- Monsoon</text>
<text x="26.6" y="38" font-family="'Liberation Sans', sans-serif" font-size="11.7" letter-spacing="0.45" fill="#1a1a1a">(a)</text><text x="180.3" y="38" font-family="'Liberation Sans', sans-serif" font-size="11.7" letter-spacing="0.45" fill="#1a1a1a">(b)</text><text x="334.6" y="38" font-family="'Liberation Sans', sans-serif" font-size="11.7" letter-spacing="0.45" fill="#1a1a1a">(c)</text>
<path d="M163.2,32.1L157.1,51.4L162.8,44.3Z" fill="#000"/><path d="M163.2,32.1L162.8,44.3L168.9,50.6Z" fill="#fff" stroke="#000" stroke-width="0.8" stroke-linejoin="miter"/><text x="163.4" y="29.5" text-anchor="middle" font-family="'Liberation Sans', sans-serif" font-size="7.6" fill="#000">N</text>
<path d="M317.2,31.8L311.1,51.1L316.8,44.0Z" fill="#000"/><path d="M317.2,31.8L316.8,44.0L322.9,50.3Z" fill="#fff" stroke="#000" stroke-width="0.8" stroke-linejoin="miter"/><text x="317.4" y="29.2" text-anchor="middle" font-family="'Liberation Sans', sans-serif" font-size="7.6" fill="#000">N</text>
<path d="M470.9,31.8L464.8,51.1L470.5,44.0Z" fill="#000"/><path d="M470.9,31.8L470.5,44.0L476.6,50.3Z" fill="#fff" stroke="#000" stroke-width="0.8" stroke-linejoin="miter"/><text x="471.1" y="29.2" text-anchor="middle" font-family="'Liberation Sans', sans-serif" font-size="7.6" fill="#000">N</text>
<path d="M162.5,138.3L156.4,157.6L162.1,150.5Z" fill="#000"/><path d="M162.5,138.3L162.1,150.5L168.2,156.8Z" fill="#fff" stroke="#000" stroke-width="0.8" stroke-linejoin="miter"/><text x="162.7" y="135.7" text-anchor="middle" font-family="'Liberation Sans', sans-serif" font-size="7.6" fill="#000">N</text>
<path d="M316.4,138.9L310.3,158.2L316.0,151.1Z" fill="#000"/><path d="M316.4,138.9L316.0,151.1L322.1,157.4Z" fill="#fff" stroke="#000" stroke-width="0.8" stroke-linejoin="miter"/><text x="316.6" y="136.3" text-anchor="middle" font-family="'Liberation Sans', sans-serif" font-size="7.6" fill="#000">N</text>
<path d="M469.7,138.1L463.6,157.4L469.3,150.3Z" fill="#000"/><path d="M469.7,138.1L469.3,150.3L475.4,156.6Z" fill="#fff" stroke="#000" stroke-width="0.8" stroke-linejoin="miter"/><text x="469.9" y="135.5" text-anchor="middle" font-family="'Liberation Sans', sans-serif" font-size="7.6" fill="#000">N</text>
<path d="M163.4,247.1L157.3,266.4L163.0,259.3Z" fill="#000"/><path d="M163.4,247.1L163.0,259.3L169.1,265.6Z" fill="#fff" stroke="#000" stroke-width="0.8" stroke-linejoin="miter"/><text x="163.6" y="244.5" text-anchor="middle" font-family="'Liberation Sans', sans-serif" font-size="7.6" fill="#000">N</text>
<path d="M318.8,245.5L312.7,264.8L318.4,257.7Z" fill="#000"/><path d="M318.8,245.5L318.4,257.7L324.5,264.0Z" fill="#fff" stroke="#000" stroke-width="0.8" stroke-linejoin="miter"/><text x="319.0" y="242.9" text-anchor="middle" font-family="'Liberation Sans', sans-serif" font-size="7.6" fill="#000">N</text>
<path d="M472.1,245.5L466.0,264.8L471.7,257.7Z" fill="#000"/><path d="M472.1,245.5L471.7,257.7L477.8,264.0Z" fill="#fff" stroke="#000" stroke-width="0.8" stroke-linejoin="miter"/><text x="472.3" y="242.9" text-anchor="middle" font-family="'Liberation Sans', sans-serif" font-size="7.6" fill="#000">N</text>
<path d="M162.4,351.2L156.3,370.5L162.0,363.4Z" fill="#000"/><path d="M162.4,351.2L162.0,363.4L168.1,369.7Z" fill="#fff" stroke="#000" stroke-width="0.8" stroke-linejoin="miter"/><text x="162.6" y="348.6" text-anchor="middle" font-family="'Liberation Sans', sans-serif" font-size="7.6" fill="#000">N</text>
<path d="M316.4,351.5L310.3,370.8L316.0,363.7Z" fill="#000"/><path d="M316.4,351.5L316.0,363.7L322.1,370.0Z" fill="#fff" stroke="#000" stroke-width="0.8" stroke-linejoin="miter"/><text x="316.6" y="348.9" text-anchor="middle" font-family="'Liberation Sans', sans-serif" font-size="7.6" fill="#000">N</text>
<path d="M469.7,352.3L463.6,371.6L469.3,364.5Z" fill="#000"/><path d="M469.7,352.3L469.3,364.5L475.4,370.8Z" fill="#fff" stroke="#000" stroke-width="0.8" stroke-linejoin="miter"/><text x="469.9" y="349.7" text-anchor="middle" font-family="'Liberation Sans', sans-serif" font-size="7.6" fill="#000">N</text>
<text x="22.8" y="467.6" font-family="'Liberation Sans', sans-serif" font-weight="bold" font-size="11.8" fill="#111">Legend</text><rect x="77" y="451.2" width="24" height="12.3" fill="#38a000" stroke="#555" stroke-width="0.8"/><text x="104.8" y="461.2" font-family="'Liberation Sans', sans-serif" font-size="7.7" font-weight="bold" fill="#222">-50.01 – -40.01</text><rect x="77" y="468" width="24" height="12.3" fill="#5cb800" stroke="#555" stroke-width="0.8"/><text x="104.8" y="476.8" font-family="'Liberation Sans', sans-serif" font-size="7.7" font-weight="bold" fill="#222">-40.00 – -30.01</text><rect x="160.5" y="451.2" width="24" height="12.3" fill="#80cc00" stroke="#555" stroke-width="0.8"/><text x="188.3" y="461.2" font-family="'Liberation Sans', sans-serif" font-size="7.7" font-weight="bold" fill="#222">-30.00 – -20.00</text><rect x="160.5" y="468" width="24" height="12.3" fill="#b0e000" stroke="#555" stroke-width="0.8"/><text x="188.3" y="476.8" font-family="'Liberation Sans', sans-serif" font-size="7.7" font-weight="bold" fill="#222">-19.99 – -10.00</text><rect x="244.5" y="451.2" width="24" height="12.3" fill="#e0f000" stroke="#555" stroke-width="0.8"/><text x="272.3" y="461.2" font-family="'Liberation Sans', sans-serif" font-size="7.7" font-weight="bold" fill="#222">-9.99 – 00.00</text><rect x="244.5" y="468" width="24" height="12.3" fill="#ffd800" stroke="#555" stroke-width="0.8"/><text x="272.3" y="476.8" font-family="'Liberation Sans', sans-serif" font-size="7.7" font-weight="bold" fill="#222">0.01 – 10.00</text><rect x="318.3" y="451.2" width="24" height="12.3" fill="#ffaa00" stroke="#555" stroke-width="0.8"/><text x="346.1" y="461.2" font-family="'Liberation Sans', sans-serif" font-size="7.7" font-weight="bold" fill="#222">10.01 – 20.00</text><rect x="318.3" y="468" width="24" height="12.3" fill="#ff7000" stroke="#555" stroke-width="0.8"/><text x="346.1" y="476.8" font-family="'Liberation Sans', sans-serif" font-size="7.7" font-weight="bold" fill="#222">20.01 – 30.01</text><rect x="396.8" y="451.2" width="24" height="12.3" fill="#ff4000" stroke="#555" stroke-width="0.8"/><text x="424.6" y="461.2" font-family="'Liberation Sans', sans-serif" font-size="7.7" font-weight="bold" fill="#222">30.02 – 40.01</text><rect x="396.8" y="468" width="24" height="12.3" fill="#ff0000" stroke="#555" stroke-width="0.8"/><text x="424.6" y="476.8" font-family="'Liberation Sans', sans-serif" font-size="7.7" font-weight="bold" fill="#222">40.02 – 50.01</text>
</svg>
</body></html>
